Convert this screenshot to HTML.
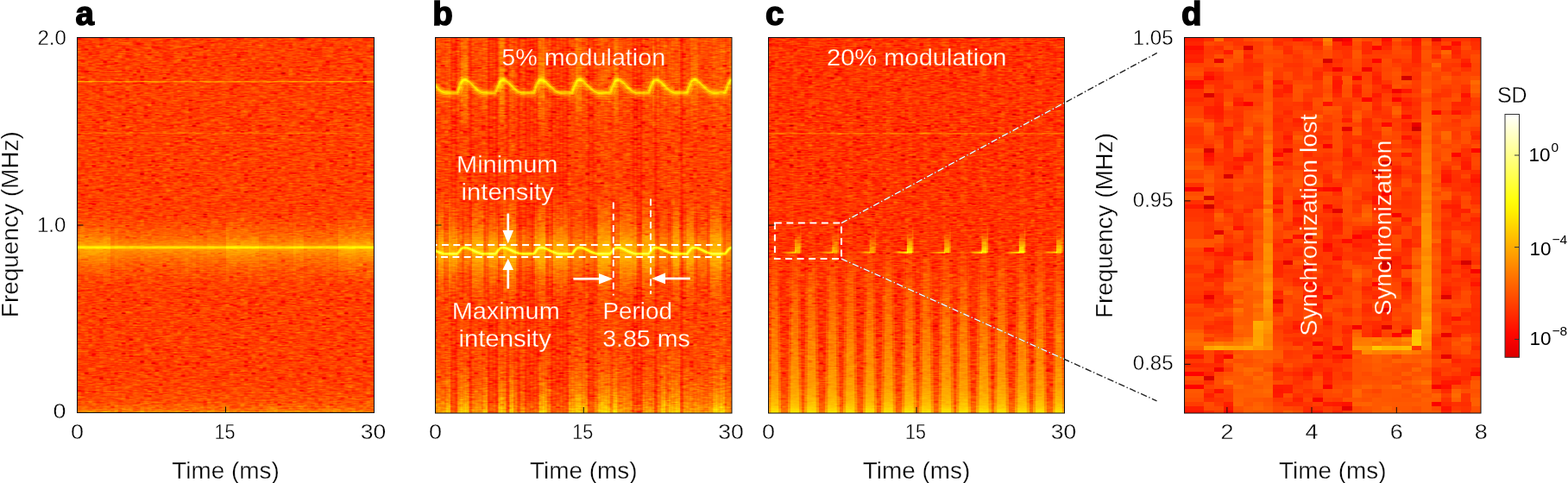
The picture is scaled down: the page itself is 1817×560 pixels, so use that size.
<!DOCTYPE html>
<html><head><meta charset="utf-8"><style>html,body{margin:0;padding:0;background:#fff;overflow:hidden}</style></head>
<body>
<svg width="1817" height="560" viewBox="0 0 1817 560" style="display:block">
<defs>
<filter id="nza" x="0" y="0" width="1" height="1" color-interpolation-filters="sRGB">
<feTurbulence type="fractalNoise" baseFrequency="0.09 0.69" numOctaves="2" seed="4"/>
<feComponentTransfer><feFuncG type="table" tableValues="0 0 0 0 0 0 0.08 0.3 0.7 1 1"/></feComponentTransfer>
<feColorMatrix type="matrix" values="0.19 -0.0 0 0 0.3750 0.19 -0.0 0 0 0.3750 0.19 -0.0 0 0 0.3750 0 0 0 0 1"/>
</filter>
<filter id="nzb" x="0" y="0" width="1" height="1" color-interpolation-filters="sRGB">
<feTurbulence type="fractalNoise" baseFrequency="0.09 0.69" numOctaves="2" seed="9"/>
<feComponentTransfer><feFuncG type="table" tableValues="0 0 0 0 0 0 0.08 0.3 0.7 1 1"/></feComponentTransfer>
<feColorMatrix type="matrix" values="0.19 -0.0 0 0 0.3710 0.19 -0.0 0 0 0.3710 0.19 -0.0 0 0 0.3710 0 0 0 0 1"/>
</filter>
<filter id="nzc" x="0" y="0" width="1" height="1" color-interpolation-filters="sRGB">
<feTurbulence type="fractalNoise" baseFrequency="0.09 0.69" numOctaves="2" seed="2"/>
<feComponentTransfer><feFuncG type="table" tableValues="0 0 0 0 0 0 0.08 0.3 0.7 1 1"/></feComponentTransfer>
<feColorMatrix type="matrix" values="0.19 -0.0 0 0 0.3560 0.19 -0.0 0 0 0.3560 0.19 -0.0 0 0 0.3560 0 0 0 0 1"/>
</filter>
<filter id="hot" color-interpolation-filters="sRGB"><feComponentTransfer>
<feFuncR type="table" tableValues="0 0.3333 0.6667 1 1 1 1 1 1"/>
<feFuncG type="table" tableValues="0 0 0 0 0.3333 0.6667 1 1 1"/>
<feFuncB type="table" tableValues="0 0 0 0 0 0 0 0.5 1"/>
</feComponentTransfer></filter>
<clipPath id="ca"><rect x="89.5" y="43.5" width="344.0" height="435.0"/></clipPath>
<clipPath id="cb"><rect x="504.5" y="43.5" width="343.5" height="435.5"/></clipPath>
<clipPath id="cc"><rect x="890.5" y="43.5" width="343.0" height="435.5"/></clipPath>
<linearGradient id="up" x1="0" y1="0" x2="0" y2="1"><stop offset="0" stop-color="#fff" stop-opacity="0"/><stop offset="1" stop-color="#fff" stop-opacity="1"/></linearGradient>
<linearGradient id="dn" x1="0" y1="0" x2="0" y2="1"><stop offset="0" stop-color="#000" stop-opacity="0"/><stop offset="0.3" stop-color="#000" stop-opacity="0.6"/><stop offset="1" stop-color="#000" stop-opacity="1"/></linearGradient>
<linearGradient id="glow" x1="0" y1="0" x2="0" y2="1"><stop offset="0" stop-color="#fff" stop-opacity="0"/><stop offset="0.5" stop-color="#fff" stop-opacity="1"/><stop offset="1" stop-color="#fff" stop-opacity="0"/></linearGradient>
<linearGradient id="cbar" x1="0" y1="0" x2="0" y2="1"><stop offset="0.00" stop-color="#ffffff"/><stop offset="0.05" stop-color="#ffffdc"/><stop offset="0.10" stop-color="#ffffba"/><stop offset="0.15" stop-color="#ffff97"/><stop offset="0.20" stop-color="#ffff74"/><stop offset="0.25" stop-color="#ffff52"/><stop offset="0.30" stop-color="#ffff2f"/><stop offset="0.35" stop-color="#ffff0c"/><stop offset="0.40" stop-color="#fff000"/><stop offset="0.45" stop-color="#ffd900"/><stop offset="0.50" stop-color="#ffc200"/><stop offset="0.55" stop-color="#ffab00"/><stop offset="0.60" stop-color="#ff9400"/><stop offset="0.65" stop-color="#ff7c00"/><stop offset="0.70" stop-color="#ff6500"/><stop offset="0.75" stop-color="#ff4e00"/><stop offset="0.80" stop-color="#ff3700"/><stop offset="0.85" stop-color="#ff2000"/><stop offset="0.90" stop-color="#ff0900"/><stop offset="0.95" stop-color="#f10000"/><stop offset="1.00" stop-color="#da0000"/></linearGradient>
<pattern id="tA" patternUnits="userSpaceOnUse" x="89.5" y="43.5" width="86.0" height="87.00"><path d="M0.0 0.00h4.3v1.45h-4.3zM0.0 1.45h4.3v1.45h-4.3zM0.0 4.35h4.3v1.45h-4.3zM0.0 5.80h4.3v1.45h-4.3zM0.0 11.60h4.3v1.45h-4.3zM0.0 23.20h4.3v1.45h-4.3zM0.0 26.10h4.3v1.45h-4.3zM0.0 29.00h4.3v1.45h-4.3zM0.0 37.70h4.3v1.45h-4.3zM0.0 42.05h4.3v1.45h-4.3zM0.0 43.50h4.3v1.45h-4.3zM0.0 52.20h4.3v1.45h-4.3zM0.0 53.65h4.3v1.45h-4.3zM0.0 71.05h4.3v1.45h-4.3zM0.0 72.50h4.3v1.45h-4.3zM0.0 73.95h4.3v1.45h-4.3zM0.0 76.85h4.3v1.45h-4.3zM0.0 78.30h4.3v1.45h-4.3zM0.0 81.20h4.3v1.45h-4.3zM4.3 4.35h4.3v1.45h-4.3zM4.3 7.25h4.3v1.45h-4.3zM4.3 8.70h4.3v1.45h-4.3zM4.3 21.75h4.3v1.45h-4.3zM4.3 24.65h4.3v1.45h-4.3zM4.3 27.55h4.3v1.45h-4.3zM4.3 33.35h4.3v1.45h-4.3zM4.3 34.80h4.3v1.45h-4.3zM4.3 37.70h4.3v1.45h-4.3zM4.3 55.10h4.3v1.45h-4.3zM4.3 65.25h4.3v1.45h-4.3zM4.3 66.70h4.3v1.45h-4.3zM4.3 69.60h4.3v1.45h-4.3zM4.3 71.05h4.3v1.45h-4.3zM4.3 75.40h4.3v1.45h-4.3zM4.3 79.75h4.3v1.45h-4.3zM8.6 2.90h4.3v1.45h-4.3zM8.6 10.15h4.3v1.45h-4.3zM8.6 11.60h4.3v1.45h-4.3zM8.6 13.05h4.3v1.45h-4.3zM8.6 17.40h4.3v1.45h-4.3zM8.6 21.75h4.3v1.45h-4.3zM8.6 23.20h4.3v1.45h-4.3zM8.6 33.35h4.3v1.45h-4.3zM8.6 34.80h4.3v1.45h-4.3zM8.6 36.25h4.3v1.45h-4.3zM8.6 37.70h4.3v1.45h-4.3zM8.6 42.05h4.3v1.45h-4.3zM8.6 49.30h4.3v1.45h-4.3zM8.6 53.65h4.3v1.45h-4.3zM8.6 55.10h4.3v1.45h-4.3zM8.6 63.80h4.3v1.45h-4.3zM8.6 68.15h4.3v1.45h-4.3zM8.6 71.05h4.3v1.45h-4.3zM8.6 73.95h4.3v1.45h-4.3zM12.9 11.60h4.3v1.45h-4.3zM12.9 14.50h4.3v1.45h-4.3zM12.9 20.30h4.3v1.45h-4.3zM12.9 24.65h4.3v1.45h-4.3zM12.9 26.10h4.3v1.45h-4.3zM12.9 33.35h4.3v1.45h-4.3zM12.9 47.85h4.3v1.45h-4.3zM12.9 52.20h4.3v1.45h-4.3zM12.9 59.45h4.3v1.45h-4.3zM12.9 62.35h4.3v1.45h-4.3zM12.9 68.15h4.3v1.45h-4.3zM17.2 7.25h4.3v1.45h-4.3zM17.2 10.15h4.3v1.45h-4.3zM17.2 18.85h4.3v1.45h-4.3zM17.2 21.75h4.3v1.45h-4.3zM17.2 23.20h4.3v1.45h-4.3zM17.2 24.65h4.3v1.45h-4.3zM17.2 46.40h4.3v1.45h-4.3zM17.2 56.55h4.3v1.45h-4.3zM17.2 71.05h4.3v1.45h-4.3zM17.2 72.50h4.3v1.45h-4.3zM17.2 73.95h4.3v1.45h-4.3zM17.2 81.20h4.3v1.45h-4.3zM21.5 4.35h4.3v1.45h-4.3zM21.5 31.90h4.3v1.45h-4.3zM21.5 33.35h4.3v1.45h-4.3zM21.5 34.80h4.3v1.45h-4.3zM21.5 39.15h4.3v1.45h-4.3zM21.5 55.10h4.3v1.45h-4.3zM21.5 62.35h4.3v1.45h-4.3zM21.5 76.85h4.3v1.45h-4.3zM21.5 78.30h4.3v1.45h-4.3zM21.5 84.10h4.3v1.45h-4.3zM25.8 0.00h4.3v1.45h-4.3zM25.8 1.45h4.3v1.45h-4.3zM25.8 4.35h4.3v1.45h-4.3zM25.8 13.05h4.3v1.45h-4.3zM25.8 18.85h4.3v1.45h-4.3zM25.8 30.45h4.3v1.45h-4.3zM25.8 43.50h4.3v1.45h-4.3zM25.8 44.95h4.3v1.45h-4.3zM25.8 47.85h4.3v1.45h-4.3zM25.8 49.30h4.3v1.45h-4.3zM25.8 50.75h4.3v1.45h-4.3zM25.8 63.80h4.3v1.45h-4.3zM25.8 65.25h4.3v1.45h-4.3zM25.8 81.20h4.3v1.45h-4.3zM30.1 8.70h4.3v1.45h-4.3zM30.1 26.10h4.3v1.45h-4.3zM30.1 33.35h4.3v1.45h-4.3zM30.1 34.80h4.3v1.45h-4.3zM30.1 40.60h4.3v1.45h-4.3zM30.1 44.95h4.3v1.45h-4.3zM30.1 50.75h4.3v1.45h-4.3zM30.1 53.65h4.3v1.45h-4.3zM30.1 66.70h4.3v1.45h-4.3zM30.1 72.50h4.3v1.45h-4.3zM30.1 73.95h4.3v1.45h-4.3zM30.1 75.40h4.3v1.45h-4.3zM30.1 84.10h4.3v1.45h-4.3zM34.4 0.00h4.3v1.45h-4.3zM34.4 2.90h4.3v1.45h-4.3zM34.4 5.80h4.3v1.45h-4.3zM34.4 7.25h4.3v1.45h-4.3zM34.4 30.45h4.3v1.45h-4.3zM34.4 37.70h4.3v1.45h-4.3zM34.4 42.05h4.3v1.45h-4.3zM34.4 44.95h4.3v1.45h-4.3zM34.4 56.55h4.3v1.45h-4.3zM34.4 59.45h4.3v1.45h-4.3zM34.4 78.30h4.3v1.45h-4.3zM38.7 2.90h4.3v1.45h-4.3zM38.7 10.15h4.3v1.45h-4.3zM38.7 20.30h4.3v1.45h-4.3zM38.7 26.10h4.3v1.45h-4.3zM38.7 27.55h4.3v1.45h-4.3zM38.7 39.15h4.3v1.45h-4.3zM38.7 47.85h4.3v1.45h-4.3zM38.7 58.00h4.3v1.45h-4.3zM38.7 59.45h4.3v1.45h-4.3zM38.7 75.40h4.3v1.45h-4.3zM38.7 79.75h4.3v1.45h-4.3zM38.7 84.10h4.3v1.45h-4.3zM43.0 5.80h4.3v1.45h-4.3zM43.0 10.15h4.3v1.45h-4.3zM43.0 15.95h4.3v1.45h-4.3zM43.0 17.40h4.3v1.45h-4.3zM43.0 23.20h4.3v1.45h-4.3zM43.0 29.00h4.3v1.45h-4.3zM43.0 31.90h4.3v1.45h-4.3zM43.0 42.05h4.3v1.45h-4.3zM43.0 43.50h4.3v1.45h-4.3zM43.0 53.65h4.3v1.45h-4.3zM43.0 62.35h4.3v1.45h-4.3zM43.0 71.05h4.3v1.45h-4.3zM43.0 73.95h4.3v1.45h-4.3zM43.0 84.10h4.3v1.45h-4.3zM47.3 8.70h4.3v1.45h-4.3zM47.3 23.20h4.3v1.45h-4.3zM47.3 27.55h4.3v1.45h-4.3zM47.3 34.80h4.3v1.45h-4.3zM47.3 36.25h4.3v1.45h-4.3zM47.3 65.25h4.3v1.45h-4.3zM47.3 68.15h4.3v1.45h-4.3zM47.3 69.60h4.3v1.45h-4.3zM47.3 75.40h4.3v1.45h-4.3zM51.6 10.15h4.3v1.45h-4.3zM51.6 11.60h4.3v1.45h-4.3zM51.6 14.50h4.3v1.45h-4.3zM51.6 18.85h4.3v1.45h-4.3zM51.6 23.20h4.3v1.45h-4.3zM51.6 33.35h4.3v1.45h-4.3zM51.6 40.60h4.3v1.45h-4.3zM51.6 62.35h4.3v1.45h-4.3zM51.6 69.60h4.3v1.45h-4.3zM51.6 73.95h4.3v1.45h-4.3zM55.9 2.90h4.3v1.45h-4.3zM55.9 8.70h4.3v1.45h-4.3zM55.9 26.10h4.3v1.45h-4.3zM55.9 31.90h4.3v1.45h-4.3zM55.9 43.50h4.3v1.45h-4.3zM55.9 47.85h4.3v1.45h-4.3zM55.9 52.20h4.3v1.45h-4.3zM55.9 53.65h4.3v1.45h-4.3zM55.9 63.80h4.3v1.45h-4.3zM55.9 65.25h4.3v1.45h-4.3zM55.9 69.60h4.3v1.45h-4.3zM55.9 75.40h4.3v1.45h-4.3zM55.9 76.85h4.3v1.45h-4.3zM60.2 7.25h4.3v1.45h-4.3zM60.2 17.40h4.3v1.45h-4.3zM60.2 21.75h4.3v1.45h-4.3zM60.2 23.20h4.3v1.45h-4.3zM60.2 24.65h4.3v1.45h-4.3zM60.2 27.55h4.3v1.45h-4.3zM60.2 29.00h4.3v1.45h-4.3zM60.2 33.35h4.3v1.45h-4.3zM60.2 39.15h4.3v1.45h-4.3zM60.2 53.65h4.3v1.45h-4.3zM60.2 78.30h4.3v1.45h-4.3zM64.5 5.80h4.3v1.45h-4.3zM64.5 8.70h4.3v1.45h-4.3zM64.5 10.15h4.3v1.45h-4.3zM64.5 15.95h4.3v1.45h-4.3zM64.5 23.20h4.3v1.45h-4.3zM64.5 40.60h4.3v1.45h-4.3zM64.5 49.30h4.3v1.45h-4.3zM64.5 62.35h4.3v1.45h-4.3zM64.5 69.60h4.3v1.45h-4.3zM64.5 72.50h4.3v1.45h-4.3zM64.5 75.40h4.3v1.45h-4.3zM64.5 78.30h4.3v1.45h-4.3zM64.5 84.10h4.3v1.45h-4.3zM68.8 4.35h4.3v1.45h-4.3zM68.8 10.15h4.3v1.45h-4.3zM68.8 21.75h4.3v1.45h-4.3zM68.8 37.70h4.3v1.45h-4.3zM68.8 42.05h4.3v1.45h-4.3zM68.8 44.95h4.3v1.45h-4.3zM68.8 52.20h4.3v1.45h-4.3zM68.8 58.00h4.3v1.45h-4.3zM68.8 65.25h4.3v1.45h-4.3zM68.8 72.50h4.3v1.45h-4.3zM68.8 73.95h4.3v1.45h-4.3zM68.8 76.85h4.3v1.45h-4.3zM68.8 79.75h4.3v1.45h-4.3zM68.8 81.20h4.3v1.45h-4.3zM68.8 82.65h4.3v1.45h-4.3zM68.8 85.55h4.3v1.45h-4.3zM73.1 5.80h4.3v1.45h-4.3zM73.1 8.70h4.3v1.45h-4.3zM73.1 24.65h4.3v1.45h-4.3zM73.1 27.55h4.3v1.45h-4.3zM73.1 34.80h4.3v1.45h-4.3zM73.1 46.40h4.3v1.45h-4.3zM73.1 49.30h4.3v1.45h-4.3zM73.1 53.65h4.3v1.45h-4.3zM73.1 58.00h4.3v1.45h-4.3zM73.1 60.90h4.3v1.45h-4.3zM73.1 62.35h4.3v1.45h-4.3zM73.1 69.60h4.3v1.45h-4.3zM73.1 76.85h4.3v1.45h-4.3zM73.1 82.65h4.3v1.45h-4.3zM77.4 4.35h4.3v1.45h-4.3zM77.4 20.30h4.3v1.45h-4.3zM77.4 26.10h4.3v1.45h-4.3zM77.4 29.00h4.3v1.45h-4.3zM77.4 39.15h4.3v1.45h-4.3zM77.4 40.60h4.3v1.45h-4.3zM77.4 46.40h4.3v1.45h-4.3zM77.4 58.00h4.3v1.45h-4.3zM77.4 62.35h4.3v1.45h-4.3zM77.4 66.70h4.3v1.45h-4.3zM77.4 68.15h4.3v1.45h-4.3zM77.4 72.50h4.3v1.45h-4.3zM77.4 79.75h4.3v1.45h-4.3zM77.4 81.20h4.3v1.45h-4.3zM77.4 84.10h4.3v1.45h-4.3zM77.4 85.55h4.3v1.45h-4.3zM81.7 4.35h4.3v1.45h-4.3zM81.7 13.05h4.3v1.45h-4.3zM81.7 18.85h4.3v1.45h-4.3zM81.7 30.45h4.3v1.45h-4.3zM81.7 36.25h4.3v1.45h-4.3zM81.7 37.70h4.3v1.45h-4.3zM81.7 43.50h4.3v1.45h-4.3zM81.7 44.95h4.3v1.45h-4.3zM81.7 55.10h4.3v1.45h-4.3zM81.7 56.55h4.3v1.45h-4.3zM81.7 60.90h4.3v1.45h-4.3zM81.7 63.80h4.3v1.45h-4.3zM81.7 69.60h4.3v1.45h-4.3zM81.7 85.55h4.3v1.45h-4.3z" fill="#000" fill-opacity="0.025"/><path d="M0.0 2.90h4.3v1.45h-4.3zM0.0 15.95h4.3v1.45h-4.3zM0.0 79.75h4.3v1.45h-4.3zM4.3 26.10h4.3v1.45h-4.3zM4.3 73.95h4.3v1.45h-4.3zM8.6 43.50h4.3v1.45h-4.3zM8.6 79.75h4.3v1.45h-4.3zM12.9 50.75h4.3v1.45h-4.3zM12.9 56.55h4.3v1.45h-4.3zM17.2 0.00h4.3v1.45h-4.3zM17.2 36.25h4.3v1.45h-4.3zM17.2 47.85h4.3v1.45h-4.3zM25.8 11.60h4.3v1.45h-4.3zM30.1 24.65h4.3v1.45h-4.3zM30.1 62.35h4.3v1.45h-4.3zM34.4 31.90h4.3v1.45h-4.3zM34.4 47.85h4.3v1.45h-4.3zM43.0 46.40h4.3v1.45h-4.3zM47.3 30.45h4.3v1.45h-4.3zM47.3 33.35h4.3v1.45h-4.3zM47.3 37.70h4.3v1.45h-4.3zM51.6 4.35h4.3v1.45h-4.3zM51.6 82.65h4.3v1.45h-4.3zM55.9 56.55h4.3v1.45h-4.3zM60.2 8.70h4.3v1.45h-4.3zM68.8 78.30h4.3v1.45h-4.3zM73.1 37.70h4.3v1.45h-4.3zM73.1 39.15h4.3v1.45h-4.3zM73.1 43.50h4.3v1.45h-4.3zM77.4 59.45h4.3v1.45h-4.3zM77.4 63.80h4.3v1.45h-4.3zM81.7 53.65h4.3v1.45h-4.3zM81.7 65.25h4.3v1.45h-4.3zM81.7 84.10h4.3v1.45h-4.3z" fill="#fff" fill-opacity="0.060"/><path d="M0.0 10.15h4.3v1.45h-4.3zM0.0 17.40h4.3v1.45h-4.3zM0.0 21.75h4.3v1.45h-4.3zM0.0 24.65h4.3v1.45h-4.3zM0.0 34.80h4.3v1.45h-4.3zM0.0 36.25h4.3v1.45h-4.3zM0.0 40.60h4.3v1.45h-4.3zM0.0 44.95h4.3v1.45h-4.3zM0.0 47.85h4.3v1.45h-4.3zM0.0 55.10h4.3v1.45h-4.3zM0.0 56.55h4.3v1.45h-4.3zM0.0 58.00h4.3v1.45h-4.3zM0.0 65.25h4.3v1.45h-4.3zM0.0 84.10h4.3v1.45h-4.3zM4.3 0.00h4.3v1.45h-4.3zM4.3 5.80h4.3v1.45h-4.3zM4.3 20.30h4.3v1.45h-4.3zM4.3 44.95h4.3v1.45h-4.3zM4.3 49.30h4.3v1.45h-4.3zM4.3 52.20h4.3v1.45h-4.3zM4.3 76.85h4.3v1.45h-4.3zM4.3 78.30h4.3v1.45h-4.3zM4.3 84.10h4.3v1.45h-4.3zM8.6 0.00h4.3v1.45h-4.3zM8.6 1.45h4.3v1.45h-4.3zM8.6 4.35h4.3v1.45h-4.3zM8.6 14.50h4.3v1.45h-4.3zM8.6 15.95h4.3v1.45h-4.3zM8.6 24.65h4.3v1.45h-4.3zM8.6 30.45h4.3v1.45h-4.3zM8.6 46.40h4.3v1.45h-4.3zM8.6 50.75h4.3v1.45h-4.3zM8.6 59.45h4.3v1.45h-4.3zM8.6 84.10h4.3v1.45h-4.3zM8.6 85.55h4.3v1.45h-4.3zM12.9 8.70h4.3v1.45h-4.3zM12.9 23.20h4.3v1.45h-4.3zM12.9 34.80h4.3v1.45h-4.3zM12.9 37.70h4.3v1.45h-4.3zM12.9 46.40h4.3v1.45h-4.3zM12.9 55.10h4.3v1.45h-4.3zM12.9 58.00h4.3v1.45h-4.3zM12.9 60.90h4.3v1.45h-4.3zM12.9 63.80h4.3v1.45h-4.3zM12.9 66.70h4.3v1.45h-4.3zM12.9 69.60h4.3v1.45h-4.3zM12.9 71.05h4.3v1.45h-4.3zM12.9 72.50h4.3v1.45h-4.3zM17.2 2.90h4.3v1.45h-4.3zM17.2 40.60h4.3v1.45h-4.3zM17.2 43.50h4.3v1.45h-4.3zM17.2 53.65h4.3v1.45h-4.3zM17.2 59.45h4.3v1.45h-4.3zM17.2 62.35h4.3v1.45h-4.3zM17.2 63.80h4.3v1.45h-4.3zM17.2 65.25h4.3v1.45h-4.3zM17.2 79.75h4.3v1.45h-4.3zM17.2 85.55h4.3v1.45h-4.3zM21.5 0.00h4.3v1.45h-4.3zM21.5 1.45h4.3v1.45h-4.3zM21.5 2.90h4.3v1.45h-4.3zM21.5 8.70h4.3v1.45h-4.3zM21.5 10.15h4.3v1.45h-4.3zM21.5 14.50h4.3v1.45h-4.3zM21.5 29.00h4.3v1.45h-4.3zM21.5 46.40h4.3v1.45h-4.3zM21.5 47.85h4.3v1.45h-4.3zM21.5 49.30h4.3v1.45h-4.3zM21.5 52.20h4.3v1.45h-4.3zM21.5 53.65h4.3v1.45h-4.3zM21.5 56.55h4.3v1.45h-4.3zM21.5 72.50h4.3v1.45h-4.3zM21.5 73.95h4.3v1.45h-4.3zM25.8 2.90h4.3v1.45h-4.3zM25.8 10.15h4.3v1.45h-4.3zM25.8 14.50h4.3v1.45h-4.3zM25.8 20.30h4.3v1.45h-4.3zM25.8 27.55h4.3v1.45h-4.3zM25.8 29.00h4.3v1.45h-4.3zM25.8 33.35h4.3v1.45h-4.3zM25.8 46.40h4.3v1.45h-4.3zM25.8 52.20h4.3v1.45h-4.3zM25.8 55.10h4.3v1.45h-4.3zM25.8 60.90h4.3v1.45h-4.3zM25.8 66.70h4.3v1.45h-4.3zM25.8 72.50h4.3v1.45h-4.3zM25.8 76.85h4.3v1.45h-4.3zM25.8 85.55h4.3v1.45h-4.3zM30.1 2.90h4.3v1.45h-4.3zM30.1 10.15h4.3v1.45h-4.3zM30.1 20.30h4.3v1.45h-4.3zM30.1 23.20h4.3v1.45h-4.3zM30.1 39.15h4.3v1.45h-4.3zM30.1 42.05h4.3v1.45h-4.3zM30.1 69.60h4.3v1.45h-4.3zM30.1 76.85h4.3v1.45h-4.3zM30.1 78.30h4.3v1.45h-4.3zM30.1 79.75h4.3v1.45h-4.3zM30.1 81.20h4.3v1.45h-4.3zM30.1 82.65h4.3v1.45h-4.3zM30.1 85.55h4.3v1.45h-4.3zM34.4 1.45h4.3v1.45h-4.3zM34.4 8.70h4.3v1.45h-4.3zM34.4 10.15h4.3v1.45h-4.3zM34.4 11.60h4.3v1.45h-4.3zM34.4 13.05h4.3v1.45h-4.3zM34.4 14.50h4.3v1.45h-4.3zM34.4 15.95h4.3v1.45h-4.3zM34.4 17.40h4.3v1.45h-4.3zM34.4 18.85h4.3v1.45h-4.3zM34.4 23.20h4.3v1.45h-4.3zM34.4 27.55h4.3v1.45h-4.3zM34.4 29.00h4.3v1.45h-4.3zM34.4 34.80h4.3v1.45h-4.3zM34.4 43.50h4.3v1.45h-4.3zM34.4 46.40h4.3v1.45h-4.3zM34.4 52.20h4.3v1.45h-4.3zM34.4 62.35h4.3v1.45h-4.3zM34.4 63.80h4.3v1.45h-4.3zM34.4 65.25h4.3v1.45h-4.3zM34.4 68.15h4.3v1.45h-4.3zM34.4 69.60h4.3v1.45h-4.3zM34.4 72.50h4.3v1.45h-4.3zM34.4 79.75h4.3v1.45h-4.3zM38.7 7.25h4.3v1.45h-4.3zM38.7 13.05h4.3v1.45h-4.3zM38.7 17.40h4.3v1.45h-4.3zM38.7 21.75h4.3v1.45h-4.3zM38.7 23.20h4.3v1.45h-4.3zM38.7 24.65h4.3v1.45h-4.3zM38.7 31.90h4.3v1.45h-4.3zM38.7 34.80h4.3v1.45h-4.3zM38.7 43.50h4.3v1.45h-4.3zM38.7 46.40h4.3v1.45h-4.3zM38.7 49.30h4.3v1.45h-4.3zM38.7 62.35h4.3v1.45h-4.3zM38.7 65.25h4.3v1.45h-4.3zM38.7 72.50h4.3v1.45h-4.3zM38.7 73.95h4.3v1.45h-4.3zM38.7 82.65h4.3v1.45h-4.3zM38.7 85.55h4.3v1.45h-4.3zM43.0 0.00h4.3v1.45h-4.3zM43.0 2.90h4.3v1.45h-4.3zM43.0 7.25h4.3v1.45h-4.3zM43.0 30.45h4.3v1.45h-4.3zM43.0 34.80h4.3v1.45h-4.3zM43.0 49.30h4.3v1.45h-4.3zM43.0 58.00h4.3v1.45h-4.3zM43.0 63.80h4.3v1.45h-4.3zM43.0 66.70h4.3v1.45h-4.3zM43.0 72.50h4.3v1.45h-4.3zM43.0 78.30h4.3v1.45h-4.3zM43.0 79.75h4.3v1.45h-4.3zM43.0 82.65h4.3v1.45h-4.3zM47.3 1.45h4.3v1.45h-4.3zM47.3 5.80h4.3v1.45h-4.3zM47.3 7.25h4.3v1.45h-4.3zM47.3 11.60h4.3v1.45h-4.3zM47.3 13.05h4.3v1.45h-4.3zM47.3 24.65h4.3v1.45h-4.3zM47.3 31.90h4.3v1.45h-4.3zM47.3 43.50h4.3v1.45h-4.3zM47.3 44.95h4.3v1.45h-4.3zM47.3 58.00h4.3v1.45h-4.3zM47.3 60.90h4.3v1.45h-4.3zM47.3 76.85h4.3v1.45h-4.3zM47.3 79.75h4.3v1.45h-4.3zM47.3 81.20h4.3v1.45h-4.3zM51.6 5.80h4.3v1.45h-4.3zM51.6 13.05h4.3v1.45h-4.3zM51.6 15.95h4.3v1.45h-4.3zM51.6 21.75h4.3v1.45h-4.3zM51.6 37.70h4.3v1.45h-4.3zM51.6 39.15h4.3v1.45h-4.3zM51.6 44.95h4.3v1.45h-4.3zM51.6 55.10h4.3v1.45h-4.3zM51.6 59.45h4.3v1.45h-4.3zM51.6 65.25h4.3v1.45h-4.3zM51.6 71.05h4.3v1.45h-4.3zM51.6 75.40h4.3v1.45h-4.3zM55.9 0.00h4.3v1.45h-4.3zM55.9 4.35h4.3v1.45h-4.3zM55.9 7.25h4.3v1.45h-4.3zM55.9 24.65h4.3v1.45h-4.3zM55.9 36.25h4.3v1.45h-4.3zM55.9 49.30h4.3v1.45h-4.3zM55.9 50.75h4.3v1.45h-4.3zM55.9 58.00h4.3v1.45h-4.3zM55.9 72.50h4.3v1.45h-4.3zM55.9 78.30h4.3v1.45h-4.3zM55.9 79.75h4.3v1.45h-4.3zM55.9 81.20h4.3v1.45h-4.3zM55.9 85.55h4.3v1.45h-4.3zM60.2 0.00h4.3v1.45h-4.3zM60.2 1.45h4.3v1.45h-4.3zM60.2 5.80h4.3v1.45h-4.3zM60.2 13.05h4.3v1.45h-4.3zM60.2 14.50h4.3v1.45h-4.3zM60.2 18.85h4.3v1.45h-4.3zM60.2 26.10h4.3v1.45h-4.3zM60.2 43.50h4.3v1.45h-4.3zM60.2 44.95h4.3v1.45h-4.3zM60.2 60.90h4.3v1.45h-4.3zM60.2 66.70h4.3v1.45h-4.3zM60.2 68.15h4.3v1.45h-4.3zM60.2 73.95h4.3v1.45h-4.3zM60.2 75.40h4.3v1.45h-4.3zM64.5 18.85h4.3v1.45h-4.3zM64.5 24.65h4.3v1.45h-4.3zM64.5 26.10h4.3v1.45h-4.3zM64.5 30.45h4.3v1.45h-4.3zM64.5 31.90h4.3v1.45h-4.3zM64.5 44.95h4.3v1.45h-4.3zM64.5 47.85h4.3v1.45h-4.3zM64.5 76.85h4.3v1.45h-4.3zM68.8 1.45h4.3v1.45h-4.3zM68.8 2.90h4.3v1.45h-4.3zM68.8 7.25h4.3v1.45h-4.3zM68.8 13.05h4.3v1.45h-4.3zM68.8 15.95h4.3v1.45h-4.3zM68.8 18.85h4.3v1.45h-4.3zM68.8 20.30h4.3v1.45h-4.3zM68.8 23.20h4.3v1.45h-4.3zM68.8 24.65h4.3v1.45h-4.3zM68.8 26.10h4.3v1.45h-4.3zM68.8 34.80h4.3v1.45h-4.3zM68.8 49.30h4.3v1.45h-4.3zM68.8 53.65h4.3v1.45h-4.3zM68.8 60.90h4.3v1.45h-4.3zM68.8 66.70h4.3v1.45h-4.3zM68.8 69.60h4.3v1.45h-4.3zM68.8 71.05h4.3v1.45h-4.3zM73.1 0.00h4.3v1.45h-4.3zM73.1 15.95h4.3v1.45h-4.3zM73.1 17.40h4.3v1.45h-4.3zM73.1 20.30h4.3v1.45h-4.3zM73.1 23.20h4.3v1.45h-4.3zM73.1 40.60h4.3v1.45h-4.3zM73.1 42.05h4.3v1.45h-4.3zM73.1 44.95h4.3v1.45h-4.3zM73.1 52.20h4.3v1.45h-4.3zM73.1 59.45h4.3v1.45h-4.3zM73.1 71.05h4.3v1.45h-4.3zM73.1 79.75h4.3v1.45h-4.3zM73.1 84.10h4.3v1.45h-4.3zM77.4 8.70h4.3v1.45h-4.3zM77.4 18.85h4.3v1.45h-4.3zM77.4 21.75h4.3v1.45h-4.3zM77.4 27.55h4.3v1.45h-4.3zM77.4 30.45h4.3v1.45h-4.3zM77.4 42.05h4.3v1.45h-4.3zM77.4 49.30h4.3v1.45h-4.3zM77.4 52.20h4.3v1.45h-4.3zM77.4 65.25h4.3v1.45h-4.3zM77.4 76.85h4.3v1.45h-4.3zM81.7 1.45h4.3v1.45h-4.3zM81.7 8.70h4.3v1.45h-4.3zM81.7 10.15h4.3v1.45h-4.3zM81.7 17.40h4.3v1.45h-4.3zM81.7 20.30h4.3v1.45h-4.3zM81.7 24.65h4.3v1.45h-4.3zM81.7 31.90h4.3v1.45h-4.3zM81.7 33.35h4.3v1.45h-4.3zM81.7 34.80h4.3v1.45h-4.3zM81.7 52.20h4.3v1.45h-4.3zM81.7 62.35h4.3v1.45h-4.3zM81.7 68.15h4.3v1.45h-4.3zM81.7 71.05h4.3v1.45h-4.3zM81.7 72.50h4.3v1.45h-4.3zM81.7 75.40h4.3v1.45h-4.3zM81.7 78.30h4.3v1.45h-4.3z" fill="#fff" fill-opacity="0.020"/><path d="M0.0 13.05h4.3v1.45h-4.3zM0.0 20.30h4.3v1.45h-4.3zM0.0 27.55h4.3v1.45h-4.3zM0.0 49.30h4.3v1.45h-4.3zM0.0 68.15h4.3v1.45h-4.3zM4.3 2.90h4.3v1.45h-4.3zM4.3 39.15h4.3v1.45h-4.3zM4.3 40.60h4.3v1.45h-4.3zM4.3 42.05h4.3v1.45h-4.3zM4.3 46.40h4.3v1.45h-4.3zM4.3 47.85h4.3v1.45h-4.3zM4.3 68.15h4.3v1.45h-4.3zM8.6 18.85h4.3v1.45h-4.3zM8.6 58.00h4.3v1.45h-4.3zM8.6 62.35h4.3v1.45h-4.3zM12.9 10.15h4.3v1.45h-4.3zM12.9 21.75h4.3v1.45h-4.3zM12.9 44.95h4.3v1.45h-4.3zM12.9 73.95h4.3v1.45h-4.3zM12.9 75.40h4.3v1.45h-4.3zM12.9 82.65h4.3v1.45h-4.3zM12.9 85.55h4.3v1.45h-4.3zM17.2 4.35h4.3v1.45h-4.3zM17.2 34.80h4.3v1.45h-4.3zM17.2 37.70h4.3v1.45h-4.3zM17.2 42.05h4.3v1.45h-4.3zM17.2 75.40h4.3v1.45h-4.3zM17.2 76.85h4.3v1.45h-4.3zM17.2 84.10h4.3v1.45h-4.3zM21.5 5.80h4.3v1.45h-4.3zM21.5 40.60h4.3v1.45h-4.3zM21.5 59.45h4.3v1.45h-4.3zM21.5 68.15h4.3v1.45h-4.3zM21.5 69.60h4.3v1.45h-4.3zM21.5 82.65h4.3v1.45h-4.3zM21.5 85.55h4.3v1.45h-4.3zM25.8 7.25h4.3v1.45h-4.3zM25.8 15.95h4.3v1.45h-4.3zM25.8 23.20h4.3v1.45h-4.3zM25.8 53.65h4.3v1.45h-4.3zM25.8 73.95h4.3v1.45h-4.3zM25.8 82.65h4.3v1.45h-4.3zM30.1 21.75h4.3v1.45h-4.3zM30.1 56.55h4.3v1.45h-4.3zM30.1 59.45h4.3v1.45h-4.3zM30.1 60.90h4.3v1.45h-4.3zM34.4 21.75h4.3v1.45h-4.3zM34.4 36.25h4.3v1.45h-4.3zM34.4 58.00h4.3v1.45h-4.3zM34.4 84.10h4.3v1.45h-4.3zM38.7 1.45h4.3v1.45h-4.3zM38.7 5.80h4.3v1.45h-4.3zM38.7 8.70h4.3v1.45h-4.3zM38.7 11.60h4.3v1.45h-4.3zM38.7 33.35h4.3v1.45h-4.3zM38.7 55.10h4.3v1.45h-4.3zM38.7 76.85h4.3v1.45h-4.3zM43.0 4.35h4.3v1.45h-4.3zM43.0 27.55h4.3v1.45h-4.3zM43.0 39.15h4.3v1.45h-4.3zM43.0 55.10h4.3v1.45h-4.3zM47.3 17.40h4.3v1.45h-4.3zM47.3 18.85h4.3v1.45h-4.3zM47.3 21.75h4.3v1.45h-4.3zM47.3 26.10h4.3v1.45h-4.3zM47.3 66.70h4.3v1.45h-4.3zM51.6 7.25h4.3v1.45h-4.3zM51.6 27.55h4.3v1.45h-4.3zM51.6 53.65h4.3v1.45h-4.3zM51.6 66.70h4.3v1.45h-4.3zM51.6 72.50h4.3v1.45h-4.3zM51.6 81.20h4.3v1.45h-4.3zM55.9 5.80h4.3v1.45h-4.3zM55.9 13.05h4.3v1.45h-4.3zM55.9 15.95h4.3v1.45h-4.3zM55.9 18.85h4.3v1.45h-4.3zM55.9 34.80h4.3v1.45h-4.3zM55.9 42.05h4.3v1.45h-4.3zM55.9 60.90h4.3v1.45h-4.3zM60.2 36.25h4.3v1.45h-4.3zM60.2 40.60h4.3v1.45h-4.3zM60.2 55.10h4.3v1.45h-4.3zM60.2 69.60h4.3v1.45h-4.3zM60.2 71.05h4.3v1.45h-4.3zM60.2 84.10h4.3v1.45h-4.3zM64.5 13.05h4.3v1.45h-4.3zM64.5 17.40h4.3v1.45h-4.3zM64.5 29.00h4.3v1.45h-4.3zM64.5 39.15h4.3v1.45h-4.3zM64.5 50.75h4.3v1.45h-4.3zM64.5 53.65h4.3v1.45h-4.3zM64.5 65.25h4.3v1.45h-4.3zM64.5 68.15h4.3v1.45h-4.3zM64.5 71.05h4.3v1.45h-4.3zM64.5 73.95h4.3v1.45h-4.3zM68.8 8.70h4.3v1.45h-4.3zM68.8 30.45h4.3v1.45h-4.3zM68.8 33.35h4.3v1.45h-4.3zM68.8 40.60h4.3v1.45h-4.3zM68.8 47.85h4.3v1.45h-4.3zM73.1 4.35h4.3v1.45h-4.3zM73.1 31.90h4.3v1.45h-4.3zM73.1 36.25h4.3v1.45h-4.3zM73.1 56.55h4.3v1.45h-4.3zM73.1 75.40h4.3v1.45h-4.3zM73.1 81.20h4.3v1.45h-4.3zM77.4 5.80h4.3v1.45h-4.3zM77.4 7.25h4.3v1.45h-4.3zM77.4 10.15h4.3v1.45h-4.3zM77.4 11.60h4.3v1.45h-4.3zM77.4 33.35h4.3v1.45h-4.3zM77.4 75.40h4.3v1.45h-4.3zM81.7 21.75h4.3v1.45h-4.3zM81.7 23.20h4.3v1.45h-4.3zM81.7 39.15h4.3v1.45h-4.3zM81.7 50.75h4.3v1.45h-4.3zM81.7 76.85h4.3v1.45h-4.3zM81.7 81.20h4.3v1.45h-4.3z" fill="#fff" fill-opacity="0.040"/><path d="M0.0 31.90h4.3v1.45h-4.3zM0.0 39.15h4.3v1.45h-4.3zM0.0 46.40h4.3v1.45h-4.3zM0.0 82.65h4.3v1.45h-4.3zM4.3 10.15h4.3v1.45h-4.3zM4.3 13.05h4.3v1.45h-4.3zM4.3 31.90h4.3v1.45h-4.3zM4.3 58.00h4.3v1.45h-4.3zM4.3 59.45h4.3v1.45h-4.3zM4.3 60.90h4.3v1.45h-4.3zM4.3 72.50h4.3v1.45h-4.3zM8.6 7.25h4.3v1.45h-4.3zM8.6 56.55h4.3v1.45h-4.3zM12.9 1.45h4.3v1.45h-4.3zM12.9 2.90h4.3v1.45h-4.3zM12.9 4.35h4.3v1.45h-4.3zM12.9 18.85h4.3v1.45h-4.3zM12.9 31.90h4.3v1.45h-4.3zM12.9 76.85h4.3v1.45h-4.3zM12.9 79.75h4.3v1.45h-4.3zM17.2 39.15h4.3v1.45h-4.3zM17.2 44.95h4.3v1.45h-4.3zM17.2 50.75h4.3v1.45h-4.3zM17.2 60.90h4.3v1.45h-4.3zM21.5 7.25h4.3v1.45h-4.3zM21.5 13.05h4.3v1.45h-4.3zM21.5 15.95h4.3v1.45h-4.3zM21.5 21.75h4.3v1.45h-4.3zM21.5 27.55h4.3v1.45h-4.3zM21.5 37.70h4.3v1.45h-4.3zM21.5 79.75h4.3v1.45h-4.3zM25.8 24.65h4.3v1.45h-4.3zM25.8 34.80h4.3v1.45h-4.3zM25.8 56.55h4.3v1.45h-4.3zM25.8 68.15h4.3v1.45h-4.3zM25.8 71.05h4.3v1.45h-4.3zM25.8 79.75h4.3v1.45h-4.3zM30.1 0.00h4.3v1.45h-4.3zM30.1 5.80h4.3v1.45h-4.3zM30.1 15.95h4.3v1.45h-4.3zM30.1 30.45h4.3v1.45h-4.3zM30.1 43.50h4.3v1.45h-4.3zM30.1 46.40h4.3v1.45h-4.3zM30.1 55.10h4.3v1.45h-4.3zM34.4 26.10h4.3v1.45h-4.3zM34.4 39.15h4.3v1.45h-4.3zM34.4 55.10h4.3v1.45h-4.3zM34.4 66.70h4.3v1.45h-4.3zM34.4 71.05h4.3v1.45h-4.3zM34.4 73.95h4.3v1.45h-4.3zM34.4 76.85h4.3v1.45h-4.3zM34.4 81.20h4.3v1.45h-4.3zM34.4 85.55h4.3v1.45h-4.3zM38.7 15.95h4.3v1.45h-4.3zM38.7 29.00h4.3v1.45h-4.3zM38.7 36.25h4.3v1.45h-4.3zM38.7 44.95h4.3v1.45h-4.3zM38.7 50.75h4.3v1.45h-4.3zM38.7 56.55h4.3v1.45h-4.3zM38.7 60.90h4.3v1.45h-4.3zM38.7 71.05h4.3v1.45h-4.3zM43.0 33.35h4.3v1.45h-4.3zM43.0 40.60h4.3v1.45h-4.3zM47.3 14.50h4.3v1.45h-4.3zM47.3 29.00h4.3v1.45h-4.3zM47.3 52.20h4.3v1.45h-4.3zM47.3 53.65h4.3v1.45h-4.3zM47.3 84.10h4.3v1.45h-4.3zM47.3 85.55h4.3v1.45h-4.3zM51.6 30.45h4.3v1.45h-4.3zM51.6 49.30h4.3v1.45h-4.3zM51.6 50.75h4.3v1.45h-4.3zM51.6 60.90h4.3v1.45h-4.3zM51.6 63.80h4.3v1.45h-4.3zM55.9 1.45h4.3v1.45h-4.3zM55.9 14.50h4.3v1.45h-4.3zM55.9 20.30h4.3v1.45h-4.3zM55.9 29.00h4.3v1.45h-4.3zM55.9 30.45h4.3v1.45h-4.3zM55.9 40.60h4.3v1.45h-4.3zM55.9 73.95h4.3v1.45h-4.3zM60.2 30.45h4.3v1.45h-4.3zM60.2 59.45h4.3v1.45h-4.3zM60.2 62.35h4.3v1.45h-4.3zM60.2 72.50h4.3v1.45h-4.3zM60.2 79.75h4.3v1.45h-4.3zM60.2 85.55h4.3v1.45h-4.3zM64.5 4.35h4.3v1.45h-4.3zM64.5 21.75h4.3v1.45h-4.3zM64.5 34.80h4.3v1.45h-4.3zM64.5 42.05h4.3v1.45h-4.3zM64.5 82.65h4.3v1.45h-4.3zM68.8 14.50h4.3v1.45h-4.3zM68.8 36.25h4.3v1.45h-4.3zM68.8 50.75h4.3v1.45h-4.3zM68.8 56.55h4.3v1.45h-4.3zM68.8 75.40h4.3v1.45h-4.3zM73.1 2.90h4.3v1.45h-4.3zM73.1 11.60h4.3v1.45h-4.3zM73.1 18.85h4.3v1.45h-4.3zM73.1 21.75h4.3v1.45h-4.3zM73.1 33.35h4.3v1.45h-4.3zM73.1 47.85h4.3v1.45h-4.3zM73.1 65.25h4.3v1.45h-4.3zM73.1 78.30h4.3v1.45h-4.3zM77.4 2.90h4.3v1.45h-4.3zM77.4 47.85h4.3v1.45h-4.3zM77.4 53.65h4.3v1.45h-4.3zM77.4 82.65h4.3v1.45h-4.3z" fill="#000" fill-opacity="0.050"/><path d="M0.0 75.40h4.3v1.45h-4.3zM4.3 18.85h4.3v1.45h-4.3zM8.6 39.15h4.3v1.45h-4.3zM8.6 65.25h4.3v1.45h-4.3zM12.9 13.05h4.3v1.45h-4.3zM12.9 17.40h4.3v1.45h-4.3zM17.2 13.05h4.3v1.45h-4.3zM17.2 14.50h4.3v1.45h-4.3zM17.2 15.95h4.3v1.45h-4.3zM17.2 58.00h4.3v1.45h-4.3zM21.5 17.40h4.3v1.45h-4.3zM25.8 36.25h4.3v1.45h-4.3zM34.4 24.65h4.3v1.45h-4.3zM43.0 76.85h4.3v1.45h-4.3zM47.3 10.15h4.3v1.45h-4.3zM47.3 40.60h4.3v1.45h-4.3zM47.3 46.40h4.3v1.45h-4.3zM47.3 49.30h4.3v1.45h-4.3zM47.3 73.95h4.3v1.45h-4.3zM51.6 1.45h4.3v1.45h-4.3zM51.6 84.10h4.3v1.45h-4.3zM55.9 21.75h4.3v1.45h-4.3zM55.9 68.15h4.3v1.45h-4.3zM60.2 20.30h4.3v1.45h-4.3zM60.2 47.85h4.3v1.45h-4.3zM64.5 7.25h4.3v1.45h-4.3zM64.5 43.50h4.3v1.45h-4.3zM64.5 46.40h4.3v1.45h-4.3zM77.4 23.20h4.3v1.45h-4.3zM77.4 34.80h4.3v1.45h-4.3zM77.4 37.70h4.3v1.45h-4.3zM81.7 0.00h4.3v1.45h-4.3zM81.7 46.40h4.3v1.45h-4.3zM81.7 59.45h4.3v1.45h-4.3zM81.7 66.70h4.3v1.45h-4.3zM81.7 82.65h4.3v1.45h-4.3z" fill="#000" fill-opacity="0.075"/><path d="M8.6 29.00h4.3v1.45h-4.3zM47.3 50.75h4.3v1.45h-4.3zM55.9 46.40h4.3v1.45h-4.3zM77.4 73.95h4.3v1.45h-4.3z" fill="#fff" fill-opacity="0.080"/><path d="M51.6 8.70h4.3v1.45h-4.3zM68.8 5.80h4.3v1.45h-4.3zM81.7 42.05h4.3v1.45h-4.3z" fill="#000" fill-opacity="0.100"/><path d="M64.5 14.50h4.3v1.45h-4.3z" fill="#fff" fill-opacity="0.100"/></pattern>
<pattern id="tB" patternUnits="userSpaceOnUse" x="89.5" y="43.5" width="73.1" height="66.70"><path d="M0.0 1.45h4.3v1.45h-4.3zM0.0 2.90h4.3v1.45h-4.3zM0.0 5.80h4.3v1.45h-4.3zM0.0 17.40h4.3v1.45h-4.3zM0.0 18.85h4.3v1.45h-4.3zM0.0 42.05h4.3v1.45h-4.3zM0.0 62.35h4.3v1.45h-4.3zM0.0 63.80h4.3v1.45h-4.3zM4.3 2.90h4.3v1.45h-4.3zM4.3 10.15h4.3v1.45h-4.3zM4.3 11.60h4.3v1.45h-4.3zM4.3 24.65h4.3v1.45h-4.3zM4.3 37.70h4.3v1.45h-4.3zM4.3 52.20h4.3v1.45h-4.3zM4.3 62.35h4.3v1.45h-4.3zM8.6 5.80h4.3v1.45h-4.3zM8.6 7.25h4.3v1.45h-4.3zM8.6 15.95h4.3v1.45h-4.3zM8.6 18.85h4.3v1.45h-4.3zM8.6 21.75h4.3v1.45h-4.3zM8.6 26.10h4.3v1.45h-4.3zM8.6 40.60h4.3v1.45h-4.3zM8.6 42.05h4.3v1.45h-4.3zM8.6 47.85h4.3v1.45h-4.3zM8.6 49.30h4.3v1.45h-4.3zM8.6 58.00h4.3v1.45h-4.3zM8.6 60.90h4.3v1.45h-4.3zM8.6 62.35h4.3v1.45h-4.3zM8.6 65.25h4.3v1.45h-4.3zM12.9 0.00h4.3v1.45h-4.3zM12.9 5.80h4.3v1.45h-4.3zM12.9 10.15h4.3v1.45h-4.3zM12.9 11.60h4.3v1.45h-4.3zM12.9 18.85h4.3v1.45h-4.3zM12.9 24.65h4.3v1.45h-4.3zM12.9 29.00h4.3v1.45h-4.3zM12.9 40.60h4.3v1.45h-4.3zM12.9 56.55h4.3v1.45h-4.3zM17.2 2.90h4.3v1.45h-4.3zM17.2 11.60h4.3v1.45h-4.3zM17.2 18.85h4.3v1.45h-4.3zM17.2 21.75h4.3v1.45h-4.3zM17.2 24.65h4.3v1.45h-4.3zM17.2 27.55h4.3v1.45h-4.3zM17.2 29.00h4.3v1.45h-4.3zM17.2 33.35h4.3v1.45h-4.3zM17.2 36.25h4.3v1.45h-4.3zM17.2 40.60h4.3v1.45h-4.3zM17.2 46.40h4.3v1.45h-4.3zM17.2 56.55h4.3v1.45h-4.3zM17.2 62.35h4.3v1.45h-4.3zM17.2 65.25h4.3v1.45h-4.3zM21.5 18.85h4.3v1.45h-4.3zM21.5 31.90h4.3v1.45h-4.3zM21.5 39.15h4.3v1.45h-4.3zM21.5 40.60h4.3v1.45h-4.3zM21.5 42.05h4.3v1.45h-4.3zM21.5 50.75h4.3v1.45h-4.3zM21.5 53.65h4.3v1.45h-4.3zM21.5 55.10h4.3v1.45h-4.3zM21.5 56.55h4.3v1.45h-4.3zM25.8 5.80h4.3v1.45h-4.3zM25.8 10.15h4.3v1.45h-4.3zM25.8 21.75h4.3v1.45h-4.3zM25.8 40.60h4.3v1.45h-4.3zM25.8 49.30h4.3v1.45h-4.3zM25.8 55.10h4.3v1.45h-4.3zM30.1 2.90h4.3v1.45h-4.3zM30.1 29.00h4.3v1.45h-4.3zM30.1 39.15h4.3v1.45h-4.3zM30.1 52.20h4.3v1.45h-4.3zM30.1 53.65h4.3v1.45h-4.3zM30.1 62.35h4.3v1.45h-4.3zM30.1 63.80h4.3v1.45h-4.3zM34.4 1.45h4.3v1.45h-4.3zM34.4 5.80h4.3v1.45h-4.3zM34.4 10.15h4.3v1.45h-4.3zM34.4 29.00h4.3v1.45h-4.3zM34.4 37.70h4.3v1.45h-4.3zM34.4 40.60h4.3v1.45h-4.3zM38.7 4.35h4.3v1.45h-4.3zM38.7 7.25h4.3v1.45h-4.3zM38.7 8.70h4.3v1.45h-4.3zM38.7 11.60h4.3v1.45h-4.3zM38.7 18.85h4.3v1.45h-4.3zM38.7 21.75h4.3v1.45h-4.3zM38.7 26.10h4.3v1.45h-4.3zM38.7 31.90h4.3v1.45h-4.3zM38.7 43.50h4.3v1.45h-4.3zM38.7 44.95h4.3v1.45h-4.3zM38.7 47.85h4.3v1.45h-4.3zM38.7 55.10h4.3v1.45h-4.3zM38.7 63.80h4.3v1.45h-4.3zM43.0 18.85h4.3v1.45h-4.3zM43.0 20.30h4.3v1.45h-4.3zM43.0 23.20h4.3v1.45h-4.3zM43.0 33.35h4.3v1.45h-4.3zM43.0 34.80h4.3v1.45h-4.3zM43.0 62.35h4.3v1.45h-4.3zM47.3 7.25h4.3v1.45h-4.3zM47.3 11.60h4.3v1.45h-4.3zM47.3 14.50h4.3v1.45h-4.3zM47.3 27.55h4.3v1.45h-4.3zM47.3 31.90h4.3v1.45h-4.3zM47.3 36.25h4.3v1.45h-4.3zM47.3 44.95h4.3v1.45h-4.3zM47.3 47.85h4.3v1.45h-4.3zM47.3 59.45h4.3v1.45h-4.3zM47.3 65.25h4.3v1.45h-4.3zM51.6 11.60h4.3v1.45h-4.3zM51.6 20.30h4.3v1.45h-4.3zM51.6 27.55h4.3v1.45h-4.3zM51.6 31.90h4.3v1.45h-4.3zM51.6 34.80h4.3v1.45h-4.3zM51.6 39.15h4.3v1.45h-4.3zM51.6 40.60h4.3v1.45h-4.3zM51.6 47.85h4.3v1.45h-4.3zM51.6 50.75h4.3v1.45h-4.3zM51.6 59.45h4.3v1.45h-4.3zM55.9 0.00h4.3v1.45h-4.3zM55.9 2.90h4.3v1.45h-4.3zM55.9 4.35h4.3v1.45h-4.3zM55.9 13.05h4.3v1.45h-4.3zM55.9 14.50h4.3v1.45h-4.3zM55.9 20.30h4.3v1.45h-4.3zM55.9 29.00h4.3v1.45h-4.3zM55.9 30.45h4.3v1.45h-4.3zM55.9 39.15h4.3v1.45h-4.3zM55.9 40.60h4.3v1.45h-4.3zM55.9 56.55h4.3v1.45h-4.3zM55.9 63.80h4.3v1.45h-4.3zM60.2 0.00h4.3v1.45h-4.3zM60.2 5.80h4.3v1.45h-4.3zM60.2 8.70h4.3v1.45h-4.3zM60.2 11.60h4.3v1.45h-4.3zM60.2 14.50h4.3v1.45h-4.3zM60.2 15.95h4.3v1.45h-4.3zM60.2 17.40h4.3v1.45h-4.3zM60.2 21.75h4.3v1.45h-4.3zM60.2 23.20h4.3v1.45h-4.3zM60.2 24.65h4.3v1.45h-4.3zM60.2 29.00h4.3v1.45h-4.3zM60.2 34.80h4.3v1.45h-4.3zM60.2 43.50h4.3v1.45h-4.3zM60.2 47.85h4.3v1.45h-4.3zM60.2 58.00h4.3v1.45h-4.3zM64.5 2.90h4.3v1.45h-4.3zM64.5 4.35h4.3v1.45h-4.3zM64.5 5.80h4.3v1.45h-4.3zM64.5 21.75h4.3v1.45h-4.3zM64.5 36.25h4.3v1.45h-4.3zM64.5 46.40h4.3v1.45h-4.3zM64.5 47.85h4.3v1.45h-4.3zM64.5 65.25h4.3v1.45h-4.3zM68.8 8.70h4.3v1.45h-4.3zM68.8 10.15h4.3v1.45h-4.3zM68.8 21.75h4.3v1.45h-4.3zM68.8 23.20h4.3v1.45h-4.3zM68.8 37.70h4.3v1.45h-4.3zM68.8 40.60h4.3v1.45h-4.3zM68.8 52.20h4.3v1.45h-4.3zM68.8 58.00h4.3v1.45h-4.3zM68.8 60.90h4.3v1.45h-4.3z" fill="#000" fill-opacity="0.025"/><path d="M0.0 4.35h4.3v1.45h-4.3zM0.0 10.15h4.3v1.45h-4.3zM0.0 24.65h4.3v1.45h-4.3zM0.0 27.55h4.3v1.45h-4.3zM0.0 33.35h4.3v1.45h-4.3zM0.0 36.25h4.3v1.45h-4.3zM0.0 47.85h4.3v1.45h-4.3zM0.0 52.20h4.3v1.45h-4.3zM0.0 53.65h4.3v1.45h-4.3zM0.0 55.10h4.3v1.45h-4.3zM0.0 58.00h4.3v1.45h-4.3zM4.3 7.25h4.3v1.45h-4.3zM4.3 31.90h4.3v1.45h-4.3zM4.3 39.15h4.3v1.45h-4.3zM4.3 43.50h4.3v1.45h-4.3zM4.3 58.00h4.3v1.45h-4.3zM4.3 59.45h4.3v1.45h-4.3zM4.3 63.80h4.3v1.45h-4.3zM8.6 0.00h4.3v1.45h-4.3zM8.6 2.90h4.3v1.45h-4.3zM8.6 8.70h4.3v1.45h-4.3zM8.6 10.15h4.3v1.45h-4.3zM8.6 17.40h4.3v1.45h-4.3zM8.6 27.55h4.3v1.45h-4.3zM8.6 31.90h4.3v1.45h-4.3zM8.6 50.75h4.3v1.45h-4.3zM8.6 52.20h4.3v1.45h-4.3zM8.6 59.45h4.3v1.45h-4.3zM12.9 14.50h4.3v1.45h-4.3zM12.9 15.95h4.3v1.45h-4.3zM12.9 26.10h4.3v1.45h-4.3zM12.9 33.35h4.3v1.45h-4.3zM12.9 34.80h4.3v1.45h-4.3zM12.9 44.95h4.3v1.45h-4.3zM12.9 49.30h4.3v1.45h-4.3zM12.9 50.75h4.3v1.45h-4.3zM12.9 52.20h4.3v1.45h-4.3zM12.9 65.25h4.3v1.45h-4.3zM17.2 1.45h4.3v1.45h-4.3zM17.2 13.05h4.3v1.45h-4.3zM17.2 17.40h4.3v1.45h-4.3zM17.2 23.20h4.3v1.45h-4.3zM17.2 44.95h4.3v1.45h-4.3zM17.2 47.85h4.3v1.45h-4.3zM17.2 55.10h4.3v1.45h-4.3zM17.2 60.90h4.3v1.45h-4.3zM21.5 1.45h4.3v1.45h-4.3zM21.5 7.25h4.3v1.45h-4.3zM21.5 8.70h4.3v1.45h-4.3zM21.5 11.60h4.3v1.45h-4.3zM21.5 14.50h4.3v1.45h-4.3zM21.5 21.75h4.3v1.45h-4.3zM21.5 24.65h4.3v1.45h-4.3zM21.5 33.35h4.3v1.45h-4.3zM21.5 37.70h4.3v1.45h-4.3zM21.5 43.50h4.3v1.45h-4.3zM21.5 46.40h4.3v1.45h-4.3zM21.5 47.85h4.3v1.45h-4.3zM21.5 49.30h4.3v1.45h-4.3zM21.5 52.20h4.3v1.45h-4.3zM21.5 60.90h4.3v1.45h-4.3zM25.8 17.40h4.3v1.45h-4.3zM25.8 26.10h4.3v1.45h-4.3zM25.8 31.90h4.3v1.45h-4.3zM25.8 39.15h4.3v1.45h-4.3zM25.8 43.50h4.3v1.45h-4.3zM25.8 47.85h4.3v1.45h-4.3zM30.1 5.80h4.3v1.45h-4.3zM30.1 8.70h4.3v1.45h-4.3zM30.1 13.05h4.3v1.45h-4.3zM30.1 14.50h4.3v1.45h-4.3zM30.1 21.75h4.3v1.45h-4.3zM30.1 33.35h4.3v1.45h-4.3zM30.1 37.70h4.3v1.45h-4.3zM30.1 40.60h4.3v1.45h-4.3zM30.1 55.10h4.3v1.45h-4.3zM34.4 4.35h4.3v1.45h-4.3zM34.4 7.25h4.3v1.45h-4.3zM34.4 11.60h4.3v1.45h-4.3zM34.4 14.50h4.3v1.45h-4.3zM34.4 33.35h4.3v1.45h-4.3zM34.4 39.15h4.3v1.45h-4.3zM34.4 47.85h4.3v1.45h-4.3zM34.4 56.55h4.3v1.45h-4.3zM38.7 2.90h4.3v1.45h-4.3zM38.7 13.05h4.3v1.45h-4.3zM38.7 23.20h4.3v1.45h-4.3zM38.7 39.15h4.3v1.45h-4.3zM38.7 40.60h4.3v1.45h-4.3zM38.7 56.55h4.3v1.45h-4.3zM38.7 58.00h4.3v1.45h-4.3zM38.7 65.25h4.3v1.45h-4.3zM43.0 2.90h4.3v1.45h-4.3zM43.0 4.35h4.3v1.45h-4.3zM43.0 5.80h4.3v1.45h-4.3zM43.0 8.70h4.3v1.45h-4.3zM43.0 11.60h4.3v1.45h-4.3zM43.0 13.05h4.3v1.45h-4.3zM43.0 31.90h4.3v1.45h-4.3zM43.0 36.25h4.3v1.45h-4.3zM43.0 40.60h4.3v1.45h-4.3zM43.0 42.05h4.3v1.45h-4.3zM43.0 43.50h4.3v1.45h-4.3zM43.0 46.40h4.3v1.45h-4.3zM43.0 52.20h4.3v1.45h-4.3zM43.0 53.65h4.3v1.45h-4.3zM43.0 56.55h4.3v1.45h-4.3zM47.3 1.45h4.3v1.45h-4.3zM47.3 4.35h4.3v1.45h-4.3zM47.3 5.80h4.3v1.45h-4.3zM47.3 17.40h4.3v1.45h-4.3zM47.3 29.00h4.3v1.45h-4.3zM47.3 37.70h4.3v1.45h-4.3zM47.3 42.05h4.3v1.45h-4.3zM47.3 43.50h4.3v1.45h-4.3zM47.3 50.75h4.3v1.45h-4.3zM47.3 60.90h4.3v1.45h-4.3zM51.6 0.00h4.3v1.45h-4.3zM51.6 1.45h4.3v1.45h-4.3zM51.6 5.80h4.3v1.45h-4.3zM51.6 7.25h4.3v1.45h-4.3zM51.6 13.05h4.3v1.45h-4.3zM51.6 14.50h4.3v1.45h-4.3zM51.6 18.85h4.3v1.45h-4.3zM51.6 23.20h4.3v1.45h-4.3zM51.6 29.00h4.3v1.45h-4.3zM51.6 42.05h4.3v1.45h-4.3zM51.6 49.30h4.3v1.45h-4.3zM51.6 53.65h4.3v1.45h-4.3zM51.6 55.10h4.3v1.45h-4.3zM51.6 56.55h4.3v1.45h-4.3zM51.6 58.00h4.3v1.45h-4.3zM51.6 60.90h4.3v1.45h-4.3zM51.6 62.35h4.3v1.45h-4.3zM55.9 1.45h4.3v1.45h-4.3zM55.9 10.15h4.3v1.45h-4.3zM55.9 15.95h4.3v1.45h-4.3zM55.9 24.65h4.3v1.45h-4.3zM55.9 26.10h4.3v1.45h-4.3zM55.9 52.20h4.3v1.45h-4.3zM55.9 58.00h4.3v1.45h-4.3zM55.9 65.25h4.3v1.45h-4.3zM60.2 1.45h4.3v1.45h-4.3zM60.2 36.25h4.3v1.45h-4.3zM60.2 46.40h4.3v1.45h-4.3zM60.2 52.20h4.3v1.45h-4.3zM60.2 53.65h4.3v1.45h-4.3zM60.2 55.10h4.3v1.45h-4.3zM60.2 59.45h4.3v1.45h-4.3zM60.2 62.35h4.3v1.45h-4.3zM60.2 63.80h4.3v1.45h-4.3zM60.2 65.25h4.3v1.45h-4.3zM64.5 7.25h4.3v1.45h-4.3zM64.5 13.05h4.3v1.45h-4.3zM64.5 18.85h4.3v1.45h-4.3zM64.5 20.30h4.3v1.45h-4.3zM64.5 29.00h4.3v1.45h-4.3zM64.5 37.70h4.3v1.45h-4.3zM64.5 39.15h4.3v1.45h-4.3zM64.5 49.30h4.3v1.45h-4.3zM64.5 58.00h4.3v1.45h-4.3zM64.5 63.80h4.3v1.45h-4.3zM68.8 0.00h4.3v1.45h-4.3zM68.8 4.35h4.3v1.45h-4.3zM68.8 11.60h4.3v1.45h-4.3zM68.8 17.40h4.3v1.45h-4.3zM68.8 20.30h4.3v1.45h-4.3zM68.8 26.10h4.3v1.45h-4.3zM68.8 29.00h4.3v1.45h-4.3zM68.8 33.35h4.3v1.45h-4.3zM68.8 34.80h4.3v1.45h-4.3zM68.8 42.05h4.3v1.45h-4.3zM68.8 43.50h4.3v1.45h-4.3zM68.8 46.40h4.3v1.45h-4.3zM68.8 55.10h4.3v1.45h-4.3z" fill="#fff" fill-opacity="0.020"/><path d="M0.0 7.25h4.3v1.45h-4.3zM0.0 8.70h4.3v1.45h-4.3zM0.0 20.30h4.3v1.45h-4.3zM0.0 26.10h4.3v1.45h-4.3zM4.3 8.70h4.3v1.45h-4.3zM4.3 14.50h4.3v1.45h-4.3zM4.3 17.40h4.3v1.45h-4.3zM4.3 34.80h4.3v1.45h-4.3zM4.3 53.65h4.3v1.45h-4.3zM8.6 37.70h4.3v1.45h-4.3zM8.6 43.50h4.3v1.45h-4.3zM8.6 46.40h4.3v1.45h-4.3zM8.6 55.10h4.3v1.45h-4.3zM12.9 7.25h4.3v1.45h-4.3zM12.9 17.40h4.3v1.45h-4.3zM12.9 20.30h4.3v1.45h-4.3zM12.9 30.45h4.3v1.45h-4.3zM12.9 37.70h4.3v1.45h-4.3zM12.9 42.05h4.3v1.45h-4.3zM12.9 63.80h4.3v1.45h-4.3zM17.2 10.15h4.3v1.45h-4.3zM17.2 14.50h4.3v1.45h-4.3zM17.2 43.50h4.3v1.45h-4.3zM21.5 13.05h4.3v1.45h-4.3zM21.5 15.95h4.3v1.45h-4.3zM21.5 26.10h4.3v1.45h-4.3zM21.5 34.80h4.3v1.45h-4.3zM21.5 63.80h4.3v1.45h-4.3zM25.8 11.60h4.3v1.45h-4.3zM25.8 24.65h4.3v1.45h-4.3zM25.8 62.35h4.3v1.45h-4.3zM30.1 10.15h4.3v1.45h-4.3zM30.1 23.20h4.3v1.45h-4.3zM30.1 27.55h4.3v1.45h-4.3zM34.4 15.95h4.3v1.45h-4.3zM34.4 36.25h4.3v1.45h-4.3zM34.4 49.30h4.3v1.45h-4.3zM34.4 53.65h4.3v1.45h-4.3zM34.4 55.10h4.3v1.45h-4.3zM34.4 58.00h4.3v1.45h-4.3zM38.7 33.35h4.3v1.45h-4.3zM38.7 37.70h4.3v1.45h-4.3zM38.7 52.20h4.3v1.45h-4.3zM38.7 60.90h4.3v1.45h-4.3zM43.0 15.95h4.3v1.45h-4.3zM43.0 27.55h4.3v1.45h-4.3zM43.0 29.00h4.3v1.45h-4.3zM43.0 49.30h4.3v1.45h-4.3zM43.0 59.45h4.3v1.45h-4.3zM43.0 65.25h4.3v1.45h-4.3zM47.3 13.05h4.3v1.45h-4.3zM47.3 30.45h4.3v1.45h-4.3zM47.3 53.65h4.3v1.45h-4.3zM47.3 63.80h4.3v1.45h-4.3zM51.6 21.75h4.3v1.45h-4.3zM51.6 43.50h4.3v1.45h-4.3zM51.6 44.95h4.3v1.45h-4.3zM51.6 52.20h4.3v1.45h-4.3zM55.9 18.85h4.3v1.45h-4.3zM55.9 42.05h4.3v1.45h-4.3zM55.9 55.10h4.3v1.45h-4.3zM60.2 13.05h4.3v1.45h-4.3zM60.2 37.70h4.3v1.45h-4.3zM64.5 23.20h4.3v1.45h-4.3zM64.5 31.90h4.3v1.45h-4.3zM64.5 42.05h4.3v1.45h-4.3zM64.5 50.75h4.3v1.45h-4.3zM64.5 52.20h4.3v1.45h-4.3zM64.5 60.90h4.3v1.45h-4.3zM68.8 7.25h4.3v1.45h-4.3zM68.8 30.45h4.3v1.45h-4.3zM68.8 31.90h4.3v1.45h-4.3zM68.8 50.75h4.3v1.45h-4.3zM68.8 65.25h4.3v1.45h-4.3z" fill="#000" fill-opacity="0.050"/><path d="M0.0 11.60h4.3v1.45h-4.3zM0.0 15.95h4.3v1.45h-4.3zM0.0 40.60h4.3v1.45h-4.3zM0.0 65.25h4.3v1.45h-4.3zM4.3 27.55h4.3v1.45h-4.3zM4.3 29.00h4.3v1.45h-4.3zM4.3 30.45h4.3v1.45h-4.3zM4.3 33.35h4.3v1.45h-4.3zM4.3 44.95h4.3v1.45h-4.3zM8.6 11.60h4.3v1.45h-4.3zM8.6 30.45h4.3v1.45h-4.3zM8.6 34.80h4.3v1.45h-4.3zM8.6 44.95h4.3v1.45h-4.3zM8.6 53.65h4.3v1.45h-4.3zM8.6 63.80h4.3v1.45h-4.3zM12.9 1.45h4.3v1.45h-4.3zM12.9 2.90h4.3v1.45h-4.3zM12.9 60.90h4.3v1.45h-4.3zM17.2 20.30h4.3v1.45h-4.3zM17.2 26.10h4.3v1.45h-4.3zM17.2 30.45h4.3v1.45h-4.3zM17.2 31.90h4.3v1.45h-4.3zM17.2 49.30h4.3v1.45h-4.3zM17.2 63.80h4.3v1.45h-4.3zM21.5 4.35h4.3v1.45h-4.3zM21.5 27.55h4.3v1.45h-4.3zM21.5 59.45h4.3v1.45h-4.3zM21.5 65.25h4.3v1.45h-4.3zM25.8 1.45h4.3v1.45h-4.3zM25.8 20.30h4.3v1.45h-4.3zM25.8 36.25h4.3v1.45h-4.3zM25.8 42.05h4.3v1.45h-4.3zM30.1 7.25h4.3v1.45h-4.3zM30.1 43.50h4.3v1.45h-4.3zM30.1 56.55h4.3v1.45h-4.3zM30.1 59.45h4.3v1.45h-4.3zM34.4 0.00h4.3v1.45h-4.3zM34.4 13.05h4.3v1.45h-4.3zM34.4 31.90h4.3v1.45h-4.3zM34.4 62.35h4.3v1.45h-4.3zM34.4 63.80h4.3v1.45h-4.3zM38.7 17.40h4.3v1.45h-4.3zM38.7 24.65h4.3v1.45h-4.3zM38.7 29.00h4.3v1.45h-4.3zM38.7 36.25h4.3v1.45h-4.3zM38.7 50.75h4.3v1.45h-4.3zM38.7 62.35h4.3v1.45h-4.3zM43.0 10.15h4.3v1.45h-4.3zM43.0 60.90h4.3v1.45h-4.3zM47.3 18.85h4.3v1.45h-4.3zM47.3 21.75h4.3v1.45h-4.3zM47.3 34.80h4.3v1.45h-4.3zM47.3 39.15h4.3v1.45h-4.3zM47.3 52.20h4.3v1.45h-4.3zM47.3 55.10h4.3v1.45h-4.3zM51.6 8.70h4.3v1.45h-4.3zM55.9 5.80h4.3v1.45h-4.3zM55.9 23.20h4.3v1.45h-4.3zM55.9 34.80h4.3v1.45h-4.3zM55.9 36.25h4.3v1.45h-4.3zM55.9 37.70h4.3v1.45h-4.3zM55.9 47.85h4.3v1.45h-4.3zM60.2 18.85h4.3v1.45h-4.3zM60.2 30.45h4.3v1.45h-4.3zM60.2 60.90h4.3v1.45h-4.3zM64.5 0.00h4.3v1.45h-4.3zM64.5 1.45h4.3v1.45h-4.3zM64.5 8.70h4.3v1.45h-4.3zM64.5 24.65h4.3v1.45h-4.3zM64.5 26.10h4.3v1.45h-4.3zM64.5 40.60h4.3v1.45h-4.3zM64.5 55.10h4.3v1.45h-4.3zM64.5 62.35h4.3v1.45h-4.3zM68.8 2.90h4.3v1.45h-4.3zM68.8 15.95h4.3v1.45h-4.3zM68.8 18.85h4.3v1.45h-4.3zM68.8 49.30h4.3v1.45h-4.3z" fill="#fff" fill-opacity="0.040"/><path d="M0.0 34.80h4.3v1.45h-4.3zM4.3 26.10h4.3v1.45h-4.3zM4.3 36.25h4.3v1.45h-4.3zM12.9 4.35h4.3v1.45h-4.3zM17.2 59.45h4.3v1.45h-4.3zM25.8 60.90h4.3v1.45h-4.3zM38.7 0.00h4.3v1.45h-4.3zM43.0 1.45h4.3v1.45h-4.3zM43.0 44.95h4.3v1.45h-4.3zM47.3 33.35h4.3v1.45h-4.3zM51.6 24.65h4.3v1.45h-4.3zM55.9 17.40h4.3v1.45h-4.3zM60.2 49.30h4.3v1.45h-4.3zM64.5 27.55h4.3v1.45h-4.3zM64.5 56.55h4.3v1.45h-4.3zM68.8 36.25h4.3v1.45h-4.3zM68.8 39.15h4.3v1.45h-4.3z" fill="#000" fill-opacity="0.075"/><path d="M4.3 18.85h4.3v1.45h-4.3zM4.3 23.20h4.3v1.45h-4.3zM12.9 27.55h4.3v1.45h-4.3zM12.9 36.25h4.3v1.45h-4.3zM17.2 15.95h4.3v1.45h-4.3zM25.8 37.70h4.3v1.45h-4.3zM34.4 8.70h4.3v1.45h-4.3zM38.7 10.15h4.3v1.45h-4.3zM38.7 34.80h4.3v1.45h-4.3zM38.7 53.65h4.3v1.45h-4.3zM43.0 24.65h4.3v1.45h-4.3zM43.0 26.10h4.3v1.45h-4.3zM43.0 37.70h4.3v1.45h-4.3zM51.6 17.40h4.3v1.45h-4.3zM60.2 42.05h4.3v1.45h-4.3zM68.8 56.55h4.3v1.45h-4.3zM68.8 63.80h4.3v1.45h-4.3z" fill="#fff" fill-opacity="0.060"/><path d="M12.9 21.75h4.3v1.45h-4.3zM60.2 7.25h4.3v1.45h-4.3z" fill="#fff" fill-opacity="0.080"/><path d="M25.8 8.70h4.3v1.45h-4.3zM38.7 1.45h4.3v1.45h-4.3z" fill="#000" fill-opacity="0.100"/></pattern>
<pattern id="tO" patternUnits="userSpaceOnUse" x="89.5" y="43.5" width="258.0" height="217.50"><path d="M0.0 0.00h4.3v1.45h-4.3zM0.0 82.65h4.3v1.45h-4.3zM0.0 111.65h4.3v1.45h-4.3zM0.0 191.40h4.3v1.45h-4.3zM4.3 27.55h4.3v1.45h-4.3zM12.9 197.20h4.3v1.45h-4.3zM21.5 97.15h4.3v1.45h-4.3zM25.8 7.25h4.3v1.45h-4.3zM25.8 59.45h4.3v1.45h-4.3zM25.8 114.55h4.3v1.45h-4.3zM38.7 210.25h4.3v1.45h-4.3zM51.6 116.00h4.3v1.45h-4.3zM55.9 62.35h4.3v1.45h-4.3zM60.2 150.80h4.3v1.45h-4.3zM64.5 14.50h4.3v1.45h-4.3zM81.7 18.85h4.3v1.45h-4.3zM90.3 147.90h4.3v1.45h-4.3zM94.6 56.55h4.3v1.45h-4.3zM107.5 39.15h4.3v1.45h-4.3zM120.4 88.45h4.3v1.45h-4.3zM124.7 13.05h4.3v1.45h-4.3zM150.5 105.85h4.3v1.45h-4.3zM150.5 191.40h4.3v1.45h-4.3zM184.9 18.85h4.3v1.45h-4.3zM184.9 94.25h4.3v1.45h-4.3zM193.5 47.85h4.3v1.45h-4.3zM197.8 97.15h4.3v1.45h-4.3zM197.8 107.30h4.3v1.45h-4.3zM210.7 211.70h4.3v1.45h-4.3zM227.9 204.45h4.3v1.45h-4.3zM240.8 211.70h4.3v1.45h-4.3zM245.1 156.60h4.3v1.45h-4.3z" fill="#000" fill-opacity="0.200"/><path d="M0.0 98.60h4.3v1.45h-4.3zM0.0 166.75h4.3v1.45h-4.3zM12.9 129.05h4.3v1.45h-4.3zM17.2 95.70h4.3v1.45h-4.3zM17.2 118.90h4.3v1.45h-4.3zM17.2 192.85h4.3v1.45h-4.3zM21.5 73.95h4.3v1.45h-4.3zM25.8 31.90h4.3v1.45h-4.3zM34.4 8.70h4.3v1.45h-4.3zM34.4 143.55h4.3v1.45h-4.3zM38.7 179.80h4.3v1.45h-4.3zM43.0 29.00h4.3v1.45h-4.3zM43.0 52.20h4.3v1.45h-4.3zM47.3 163.85h4.3v1.45h-4.3zM51.6 37.70h4.3v1.45h-4.3zM55.9 0.00h4.3v1.45h-4.3zM55.9 66.70h4.3v1.45h-4.3zM64.5 26.10h4.3v1.45h-4.3zM64.5 85.55h4.3v1.45h-4.3zM64.5 113.10h4.3v1.45h-4.3zM68.8 65.25h4.3v1.45h-4.3zM73.1 30.45h4.3v1.45h-4.3zM73.1 168.20h4.3v1.45h-4.3zM77.4 197.20h4.3v1.45h-4.3zM81.7 14.50h4.3v1.45h-4.3zM86.0 10.15h4.3v1.45h-4.3zM103.2 1.45h4.3v1.45h-4.3zM107.5 89.90h4.3v1.45h-4.3zM107.5 101.50h4.3v1.45h-4.3zM129.0 11.60h4.3v1.45h-4.3zM129.0 18.85h4.3v1.45h-4.3zM133.3 121.80h4.3v1.45h-4.3zM133.3 165.30h4.3v1.45h-4.3zM137.6 8.70h4.3v1.45h-4.3zM137.6 73.95h4.3v1.45h-4.3zM141.9 62.35h4.3v1.45h-4.3zM141.9 140.65h4.3v1.45h-4.3zM146.2 13.05h4.3v1.45h-4.3zM146.2 23.20h4.3v1.45h-4.3zM146.2 207.35h4.3v1.45h-4.3zM154.8 31.90h4.3v1.45h-4.3zM154.8 59.45h4.3v1.45h-4.3zM154.8 127.60h4.3v1.45h-4.3zM167.7 204.45h4.3v1.45h-4.3zM172.0 18.85h4.3v1.45h-4.3zM172.0 131.95h4.3v1.45h-4.3zM180.6 29.00h4.3v1.45h-4.3zM180.6 140.65h4.3v1.45h-4.3zM189.2 0.00h4.3v1.45h-4.3zM189.2 34.80h4.3v1.45h-4.3zM193.5 52.20h4.3v1.45h-4.3zM197.8 134.85h4.3v1.45h-4.3zM197.8 153.70h4.3v1.45h-4.3zM202.1 7.25h4.3v1.45h-4.3zM202.1 158.05h4.3v1.45h-4.3zM206.4 101.50h4.3v1.45h-4.3zM210.7 92.80h4.3v1.45h-4.3zM210.7 195.75h4.3v1.45h-4.3zM219.3 204.45h4.3v1.45h-4.3zM223.6 187.05h4.3v1.45h-4.3zM236.5 17.40h4.3v1.45h-4.3zM236.5 55.10h4.3v1.45h-4.3zM240.8 46.40h4.3v1.45h-4.3zM249.4 58.00h4.3v1.45h-4.3zM249.4 134.85h4.3v1.45h-4.3z" fill="#000" fill-opacity="0.175"/><path d="M0.0 179.80h4.3v1.45h-4.3zM4.3 182.70h4.3v1.45h-4.3zM12.9 191.40h4.3v1.45h-4.3zM17.2 203.00h4.3v1.45h-4.3zM34.4 59.45h4.3v1.45h-4.3zM38.7 131.95h4.3v1.45h-4.3zM51.6 30.45h4.3v1.45h-4.3zM51.6 63.80h4.3v1.45h-4.3zM55.9 85.55h4.3v1.45h-4.3zM55.9 165.30h4.3v1.45h-4.3zM60.2 46.40h4.3v1.45h-4.3zM68.8 108.75h4.3v1.45h-4.3zM73.1 203.00h4.3v1.45h-4.3zM77.4 216.05h4.3v1.45h-4.3zM90.3 188.50h4.3v1.45h-4.3zM98.9 58.00h4.3v1.45h-4.3zM98.9 75.40h4.3v1.45h-4.3zM111.8 89.90h4.3v1.45h-4.3zM124.7 111.65h4.3v1.45h-4.3zM129.0 145.00h4.3v1.45h-4.3zM133.3 27.55h4.3v1.45h-4.3zM133.3 140.65h4.3v1.45h-4.3zM146.2 37.70h4.3v1.45h-4.3zM159.1 160.95h4.3v1.45h-4.3zM189.2 13.05h4.3v1.45h-4.3zM189.2 44.95h4.3v1.45h-4.3zM189.2 120.35h4.3v1.45h-4.3zM189.2 213.15h4.3v1.45h-4.3zM193.5 110.20h4.3v1.45h-4.3zM197.8 129.05h4.3v1.45h-4.3zM202.1 100.05h4.3v1.45h-4.3zM202.1 189.95h4.3v1.45h-4.3zM219.3 210.25h4.3v1.45h-4.3zM227.9 88.45h4.3v1.45h-4.3zM236.5 23.20h4.3v1.45h-4.3zM249.4 185.60h4.3v1.45h-4.3zM253.7 62.35h4.3v1.45h-4.3z" fill="#000" fill-opacity="0.050"/><path d="M0.0 187.05h4.3v1.45h-4.3zM4.3 0.00h4.3v1.45h-4.3zM4.3 107.30h4.3v1.45h-4.3zM8.6 0.00h4.3v1.45h-4.3zM8.6 49.30h4.3v1.45h-4.3zM21.5 59.45h4.3v1.45h-4.3zM25.8 26.10h4.3v1.45h-4.3zM25.8 46.40h4.3v1.45h-4.3zM30.1 30.45h4.3v1.45h-4.3zM30.1 34.80h4.3v1.45h-4.3zM30.1 165.30h4.3v1.45h-4.3zM38.7 17.40h4.3v1.45h-4.3zM38.7 68.15h4.3v1.45h-4.3zM43.0 105.85h4.3v1.45h-4.3zM43.0 175.45h4.3v1.45h-4.3zM47.3 120.35h4.3v1.45h-4.3zM51.6 10.15h4.3v1.45h-4.3zM55.9 210.25h4.3v1.45h-4.3zM60.2 88.45h4.3v1.45h-4.3zM60.2 146.45h4.3v1.45h-4.3zM68.8 7.25h4.3v1.45h-4.3zM68.8 60.90h4.3v1.45h-4.3zM73.1 33.35h4.3v1.45h-4.3zM73.1 49.30h4.3v1.45h-4.3zM73.1 104.40h4.3v1.45h-4.3zM77.4 79.75h4.3v1.45h-4.3zM81.7 110.20h4.3v1.45h-4.3zM90.3 98.60h4.3v1.45h-4.3zM94.6 15.95h4.3v1.45h-4.3zM94.6 162.40h4.3v1.45h-4.3zM98.9 142.10h4.3v1.45h-4.3zM98.9 187.05h4.3v1.45h-4.3zM98.9 207.35h4.3v1.45h-4.3zM107.5 21.75h4.3v1.45h-4.3zM116.1 107.30h4.3v1.45h-4.3zM116.1 189.95h4.3v1.45h-4.3zM124.7 29.00h4.3v1.45h-4.3zM129.0 79.75h4.3v1.45h-4.3zM129.0 102.95h4.3v1.45h-4.3zM133.3 81.20h4.3v1.45h-4.3zM146.2 63.80h4.3v1.45h-4.3zM150.5 2.90h4.3v1.45h-4.3zM163.4 188.50h4.3v1.45h-4.3zM176.3 76.85h4.3v1.45h-4.3zM176.3 149.35h4.3v1.45h-4.3zM180.6 121.80h4.3v1.45h-4.3zM180.6 210.25h4.3v1.45h-4.3zM189.2 39.15h4.3v1.45h-4.3zM193.5 20.30h4.3v1.45h-4.3zM202.1 162.40h4.3v1.45h-4.3zM206.4 52.20h4.3v1.45h-4.3zM210.7 105.85h4.3v1.45h-4.3zM215.0 75.40h4.3v1.45h-4.3zM215.0 116.00h4.3v1.45h-4.3zM227.9 187.05h4.3v1.45h-4.3zM240.8 55.10h4.3v1.45h-4.3zM240.8 59.45h4.3v1.45h-4.3zM245.1 81.20h4.3v1.45h-4.3zM249.4 176.90h4.3v1.45h-4.3zM253.7 156.60h4.3v1.45h-4.3z" fill="#000" fill-opacity="0.100"/><path d="M4.3 39.15h4.3v1.45h-4.3zM25.8 0.00h4.3v1.45h-4.3zM60.2 139.20h4.3v1.45h-4.3zM86.0 143.55h4.3v1.45h-4.3zM103.2 162.40h4.3v1.45h-4.3zM167.7 143.55h4.3v1.45h-4.3zM184.9 55.10h4.3v1.45h-4.3zM197.8 89.90h4.3v1.45h-4.3zM206.4 118.90h4.3v1.45h-4.3zM227.9 63.80h4.3v1.45h-4.3zM253.7 33.35h4.3v1.45h-4.3z" fill="#000" fill-opacity="0.225"/><path d="M4.3 47.85h4.3v1.45h-4.3zM17.2 147.90h4.3v1.45h-4.3zM21.5 175.45h4.3v1.45h-4.3zM25.8 108.75h4.3v1.45h-4.3zM25.8 121.80h4.3v1.45h-4.3zM34.4 68.15h4.3v1.45h-4.3zM34.4 142.10h4.3v1.45h-4.3zM34.4 149.35h4.3v1.45h-4.3zM34.4 168.20h4.3v1.45h-4.3zM34.4 207.35h4.3v1.45h-4.3zM38.7 21.75h4.3v1.45h-4.3zM38.7 53.65h4.3v1.45h-4.3zM43.0 117.45h4.3v1.45h-4.3zM43.0 139.20h4.3v1.45h-4.3zM47.3 116.00h4.3v1.45h-4.3zM55.9 84.10h4.3v1.45h-4.3zM55.9 166.75h4.3v1.45h-4.3zM64.5 42.05h4.3v1.45h-4.3zM64.5 52.20h4.3v1.45h-4.3zM64.5 78.30h4.3v1.45h-4.3zM64.5 95.70h4.3v1.45h-4.3zM68.8 27.55h4.3v1.45h-4.3zM68.8 39.15h4.3v1.45h-4.3zM68.8 50.75h4.3v1.45h-4.3zM73.1 131.95h4.3v1.45h-4.3zM73.1 143.55h4.3v1.45h-4.3zM73.1 166.75h4.3v1.45h-4.3zM73.1 187.05h4.3v1.45h-4.3zM81.7 118.90h4.3v1.45h-4.3zM81.7 147.90h4.3v1.45h-4.3zM81.7 155.15h4.3v1.45h-4.3zM81.7 168.20h4.3v1.45h-4.3zM86.0 75.40h4.3v1.45h-4.3zM86.0 131.95h4.3v1.45h-4.3zM90.3 88.45h4.3v1.45h-4.3zM98.9 31.90h4.3v1.45h-4.3zM98.9 139.20h4.3v1.45h-4.3zM103.2 91.35h4.3v1.45h-4.3zM103.2 165.30h4.3v1.45h-4.3zM111.8 30.45h4.3v1.45h-4.3zM116.1 53.65h4.3v1.45h-4.3zM116.1 129.05h4.3v1.45h-4.3zM116.1 160.95h4.3v1.45h-4.3zM124.7 116.00h4.3v1.45h-4.3zM133.3 1.45h4.3v1.45h-4.3zM133.3 159.50h4.3v1.45h-4.3zM137.6 21.75h4.3v1.45h-4.3zM137.6 49.30h4.3v1.45h-4.3zM141.9 1.45h4.3v1.45h-4.3zM141.9 129.05h4.3v1.45h-4.3zM150.5 65.25h4.3v1.45h-4.3zM150.5 152.25h4.3v1.45h-4.3zM150.5 213.15h4.3v1.45h-4.3zM159.1 79.75h4.3v1.45h-4.3zM172.0 81.20h4.3v1.45h-4.3zM176.3 14.50h4.3v1.45h-4.3zM176.3 27.55h4.3v1.45h-4.3zM180.6 92.80h4.3v1.45h-4.3zM184.9 36.25h4.3v1.45h-4.3zM184.9 43.50h4.3v1.45h-4.3zM189.2 55.10h4.3v1.45h-4.3zM193.5 131.95h4.3v1.45h-4.3zM197.8 37.70h4.3v1.45h-4.3zM197.8 101.50h4.3v1.45h-4.3zM197.8 191.40h4.3v1.45h-4.3zM206.4 84.10h4.3v1.45h-4.3zM210.7 104.40h4.3v1.45h-4.3zM210.7 116.00h4.3v1.45h-4.3zM219.3 120.35h4.3v1.45h-4.3zM219.3 150.80h4.3v1.45h-4.3zM223.6 4.35h4.3v1.45h-4.3zM223.6 71.05h4.3v1.45h-4.3zM223.6 131.95h4.3v1.45h-4.3zM223.6 166.75h4.3v1.45h-4.3zM232.2 172.55h4.3v1.45h-4.3zM249.4 79.75h4.3v1.45h-4.3zM249.4 156.60h4.3v1.45h-4.3zM253.7 0.00h4.3v1.45h-4.3zM253.7 40.60h4.3v1.45h-4.3z" fill="#000" fill-opacity="0.150"/><path d="M4.3 181.25h4.3v1.45h-4.3zM4.3 192.85h4.3v1.45h-4.3zM17.2 0.00h4.3v1.45h-4.3zM17.2 62.35h4.3v1.45h-4.3zM17.2 104.40h4.3v1.45h-4.3zM17.2 211.70h4.3v1.45h-4.3zM21.5 137.75h4.3v1.45h-4.3zM21.5 204.45h4.3v1.45h-4.3zM25.8 2.90h4.3v1.45h-4.3zM25.8 66.70h4.3v1.45h-4.3zM25.8 129.05h4.3v1.45h-4.3zM25.8 175.45h4.3v1.45h-4.3zM30.1 81.20h4.3v1.45h-4.3zM30.1 168.20h4.3v1.45h-4.3zM34.4 92.80h4.3v1.45h-4.3zM38.7 81.20h4.3v1.45h-4.3zM38.7 145.00h4.3v1.45h-4.3zM43.0 155.15h4.3v1.45h-4.3zM47.3 71.05h4.3v1.45h-4.3zM47.3 184.15h4.3v1.45h-4.3zM51.6 59.45h4.3v1.45h-4.3zM51.6 84.10h4.3v1.45h-4.3zM55.9 14.50h4.3v1.45h-4.3zM55.9 92.80h4.3v1.45h-4.3zM55.9 129.05h4.3v1.45h-4.3zM55.9 198.65h4.3v1.45h-4.3zM68.8 110.20h4.3v1.45h-4.3zM68.8 204.45h4.3v1.45h-4.3zM86.0 114.55h4.3v1.45h-4.3zM90.3 160.95h4.3v1.45h-4.3zM90.3 192.85h4.3v1.45h-4.3zM94.6 116.00h4.3v1.45h-4.3zM98.9 21.75h4.3v1.45h-4.3zM98.9 100.05h4.3v1.45h-4.3zM107.5 50.75h4.3v1.45h-4.3zM111.8 121.80h4.3v1.45h-4.3zM116.1 79.75h4.3v1.45h-4.3zM120.4 200.10h4.3v1.45h-4.3zM124.7 159.50h4.3v1.45h-4.3zM129.0 92.80h4.3v1.45h-4.3zM137.6 162.40h4.3v1.45h-4.3zM137.6 171.10h4.3v1.45h-4.3zM141.9 65.25h4.3v1.45h-4.3zM146.2 21.75h4.3v1.45h-4.3zM146.2 33.35h4.3v1.45h-4.3zM146.2 162.40h4.3v1.45h-4.3zM150.5 194.30h4.3v1.45h-4.3zM150.5 198.65h4.3v1.45h-4.3zM159.1 27.55h4.3v1.45h-4.3zM159.1 88.45h4.3v1.45h-4.3zM167.7 4.35h4.3v1.45h-4.3zM167.7 191.40h4.3v1.45h-4.3zM184.9 107.30h4.3v1.45h-4.3zM184.9 168.20h4.3v1.45h-4.3zM193.5 159.50h4.3v1.45h-4.3zM197.8 124.70h4.3v1.45h-4.3zM206.4 31.90h4.3v1.45h-4.3zM210.7 158.05h4.3v1.45h-4.3zM215.0 47.85h4.3v1.45h-4.3zM219.3 36.25h4.3v1.45h-4.3zM232.2 52.20h4.3v1.45h-4.3zM236.5 60.90h4.3v1.45h-4.3zM236.5 105.85h4.3v1.45h-4.3zM240.8 158.05h4.3v1.45h-4.3zM245.1 200.10h4.3v1.45h-4.3zM249.4 53.65h4.3v1.45h-4.3zM253.7 52.20h4.3v1.45h-4.3z" fill="#000" fill-opacity="0.125"/><path d="M8.6 13.05h4.3v1.45h-4.3zM34.4 85.55h4.3v1.45h-4.3zM124.7 120.35h4.3v1.45h-4.3zM184.9 84.10h4.3v1.45h-4.3zM210.7 101.50h4.3v1.45h-4.3zM210.7 149.35h4.3v1.45h-4.3zM219.3 102.95h4.3v1.45h-4.3zM219.3 116.00h4.3v1.45h-4.3zM236.5 88.45h4.3v1.45h-4.3z" fill="#000" fill-opacity="0.300"/><path d="M8.6 39.15h4.3v1.45h-4.3zM43.0 171.10h4.3v1.45h-4.3zM73.1 156.60h4.3v1.45h-4.3zM120.4 152.25h4.3v1.45h-4.3zM133.3 216.05h4.3v1.45h-4.3zM172.0 107.30h4.3v1.45h-4.3zM176.3 59.45h4.3v1.45h-4.3zM180.6 2.90h4.3v1.45h-4.3zM193.5 158.05h4.3v1.45h-4.3zM193.5 162.40h4.3v1.45h-4.3zM215.0 165.30h4.3v1.45h-4.3zM227.9 129.05h4.3v1.45h-4.3zM232.2 150.80h4.3v1.45h-4.3zM245.1 85.55h4.3v1.45h-4.3zM245.1 204.45h4.3v1.45h-4.3z" fill="#000" fill-opacity="0.275"/><path d="M8.6 171.10h4.3v1.45h-4.3zM25.8 176.90h4.3v1.45h-4.3zM30.1 27.55h4.3v1.45h-4.3zM51.6 136.30h4.3v1.45h-4.3zM124.7 214.60h4.3v1.45h-4.3zM180.6 136.30h4.3v1.45h-4.3zM189.2 108.75h4.3v1.45h-4.3zM245.1 113.10h4.3v1.45h-4.3z" fill="#000" fill-opacity="0.325"/><path d="M12.9 15.95h4.3v1.45h-4.3zM12.9 124.70h4.3v1.45h-4.3zM12.9 131.95h4.3v1.45h-4.3zM12.9 200.10h4.3v1.45h-4.3zM17.2 79.75h4.3v1.45h-4.3zM17.2 156.60h4.3v1.45h-4.3zM21.5 18.85h4.3v1.45h-4.3zM21.5 47.85h4.3v1.45h-4.3zM21.5 165.30h4.3v1.45h-4.3zM25.8 36.25h4.3v1.45h-4.3zM25.8 65.25h4.3v1.45h-4.3zM25.8 130.50h4.3v1.45h-4.3zM25.8 184.15h4.3v1.45h-4.3zM38.7 30.45h4.3v1.45h-4.3zM43.0 191.40h4.3v1.45h-4.3zM51.6 11.60h4.3v1.45h-4.3zM60.2 104.40h4.3v1.45h-4.3zM68.8 37.70h4.3v1.45h-4.3zM73.1 43.50h4.3v1.45h-4.3zM77.4 121.80h4.3v1.45h-4.3zM90.3 130.50h4.3v1.45h-4.3zM90.3 158.05h4.3v1.45h-4.3zM90.3 213.15h4.3v1.45h-4.3zM98.9 82.65h4.3v1.45h-4.3zM103.2 82.65h4.3v1.45h-4.3zM103.2 136.30h4.3v1.45h-4.3zM103.2 153.70h4.3v1.45h-4.3zM111.8 62.35h4.3v1.45h-4.3zM111.8 84.10h4.3v1.45h-4.3zM111.8 210.25h4.3v1.45h-4.3zM120.4 189.95h4.3v1.45h-4.3zM129.0 129.05h4.3v1.45h-4.3zM129.0 137.75h4.3v1.45h-4.3zM129.0 176.90h4.3v1.45h-4.3zM133.3 200.10h4.3v1.45h-4.3zM141.9 94.25h4.3v1.45h-4.3zM141.9 178.35h4.3v1.45h-4.3zM150.5 189.95h4.3v1.45h-4.3zM154.8 13.05h4.3v1.45h-4.3zM154.8 104.40h4.3v1.45h-4.3zM159.1 44.95h4.3v1.45h-4.3zM159.1 117.45h4.3v1.45h-4.3zM159.1 123.25h4.3v1.45h-4.3zM163.4 20.30h4.3v1.45h-4.3zM163.4 47.85h4.3v1.45h-4.3zM172.0 87.00h4.3v1.45h-4.3zM172.0 108.75h4.3v1.45h-4.3zM172.0 194.30h4.3v1.45h-4.3zM172.0 201.55h4.3v1.45h-4.3zM176.3 63.80h4.3v1.45h-4.3zM180.6 102.95h4.3v1.45h-4.3zM184.9 24.65h4.3v1.45h-4.3zM197.8 105.85h4.3v1.45h-4.3zM202.1 65.25h4.3v1.45h-4.3zM206.4 105.85h4.3v1.45h-4.3zM206.4 133.40h4.3v1.45h-4.3zM210.7 171.10h4.3v1.45h-4.3zM210.7 182.70h4.3v1.45h-4.3zM215.0 33.35h4.3v1.45h-4.3zM215.0 113.10h4.3v1.45h-4.3zM223.6 143.55h4.3v1.45h-4.3zM223.6 179.80h4.3v1.45h-4.3zM223.6 185.60h4.3v1.45h-4.3zM227.9 52.20h4.3v1.45h-4.3zM232.2 13.05h4.3v1.45h-4.3zM232.2 78.30h4.3v1.45h-4.3zM240.8 204.45h4.3v1.45h-4.3zM245.1 7.25h4.3v1.45h-4.3zM245.1 213.15h4.3v1.45h-4.3zM249.4 20.30h4.3v1.45h-4.3zM249.4 174.00h4.3v1.45h-4.3zM253.7 102.95h4.3v1.45h-4.3zM253.7 136.30h4.3v1.45h-4.3z" fill="#000" fill-opacity="0.075"/><path d="M17.2 149.35h4.3v1.45h-4.3zM55.9 13.05h4.3v1.45h-4.3zM81.7 197.20h4.3v1.45h-4.3zM86.0 142.10h4.3v1.45h-4.3zM94.6 184.15h4.3v1.45h-4.3zM107.5 150.80h4.3v1.45h-4.3zM111.8 140.65h4.3v1.45h-4.3zM111.8 205.90h4.3v1.45h-4.3zM120.4 26.10h4.3v1.45h-4.3zM137.6 98.60h4.3v1.45h-4.3zM154.8 110.20h4.3v1.45h-4.3zM176.3 91.35h4.3v1.45h-4.3zM206.4 214.60h4.3v1.45h-4.3z" fill="#000" fill-opacity="0.250"/><path d="M30.1 95.70h4.3v1.45h-4.3zM51.6 88.45h4.3v1.45h-4.3zM86.0 159.50h4.3v1.45h-4.3zM90.3 168.20h4.3v1.45h-4.3zM129.0 82.65h4.3v1.45h-4.3zM129.0 91.35h4.3v1.45h-4.3zM129.0 117.45h4.3v1.45h-4.3zM137.6 81.20h4.3v1.45h-4.3zM137.6 159.50h4.3v1.45h-4.3zM146.2 204.45h4.3v1.45h-4.3zM167.7 126.15h4.3v1.45h-4.3zM184.9 21.75h4.3v1.45h-4.3zM193.5 178.35h4.3v1.45h-4.3zM202.1 171.10h4.3v1.45h-4.3z" fill="#000" fill-opacity="0.350"/><path d="M30.1 107.30h4.3v1.45h-4.3zM73.1 52.20h4.3v1.45h-4.3zM77.4 89.90h4.3v1.45h-4.3zM98.9 46.40h4.3v1.45h-4.3zM120.4 174.00h4.3v1.45h-4.3zM159.1 175.45h4.3v1.45h-4.3zM232.2 101.50h4.3v1.45h-4.3zM232.2 176.90h4.3v1.45h-4.3zM232.2 207.35h4.3v1.45h-4.3z" fill="#000" fill-opacity="0.375"/><path d="M51.6 101.50h4.3v1.45h-4.3zM51.6 147.90h4.3v1.45h-4.3zM60.2 131.95h4.3v1.45h-4.3zM73.1 44.95h4.3v1.45h-4.3zM73.1 158.05h4.3v1.45h-4.3zM103.2 42.05h4.3v1.45h-4.3zM129.0 72.50h4.3v1.45h-4.3zM133.3 101.50h4.3v1.45h-4.3zM141.9 10.15h4.3v1.45h-4.3zM163.4 31.90h4.3v1.45h-4.3zM193.5 137.75h4.3v1.45h-4.3zM206.4 34.80h4.3v1.45h-4.3zM232.2 31.90h4.3v1.45h-4.3zM236.5 40.60h4.3v1.45h-4.3z" fill="#000" fill-opacity="0.400"/></pattern>
<linearGradient id="g1" gradientUnits="userSpaceOnUse" x1="0" y1="440" x2="0" y2="479"><stop offset="0.0000" stop-color="#fff" stop-opacity="0.000"/><stop offset="0.6667" stop-color="#fff" stop-opacity="0.040"/><stop offset="0.8718" stop-color="#fff" stop-opacity="0.100"/><stop offset="1.0000" stop-color="#fff" stop-opacity="0.200"/></linearGradient>
<linearGradient id="g2" gradientUnits="userSpaceOnUse" x1="0" y1="245" x2="0" y2="338"><stop offset="0.0000" stop-color="#808080" stop-opacity="0.000"/><stop offset="0.1075" stop-color="#919191" stop-opacity="0.080"/><stop offset="0.1935" stop-color="#9a9a9a" stop-opacity="0.150"/><stop offset="0.2688" stop-color="#a1a1a1" stop-opacity="0.250"/><stop offset="0.3441" stop-color="#a1a1a1" stop-opacity="0.400"/><stop offset="0.3978" stop-color="#a2a2a2" stop-opacity="0.550"/><stop offset="0.4355" stop-color="#ababab" stop-opacity="0.650"/><stop offset="0.4839" stop-color="#ababab" stop-opacity="0.600"/><stop offset="0.5376" stop-color="#a6a6a6" stop-opacity="0.500"/><stop offset="0.6129" stop-color="#9e9e9e" stop-opacity="0.400"/><stop offset="0.6989" stop-color="#9c9c9c" stop-opacity="0.250"/><stop offset="0.7849" stop-color="#959595" stop-opacity="0.150"/><stop offset="0.8925" stop-color="#8d8d8d" stop-opacity="0.060"/><stop offset="1.0000" stop-color="#808080" stop-opacity="0.000"/></linearGradient>
<linearGradient id="g3" gradientUnits="userSpaceOnUse" x1="0" y1="240" x2="0" y2="335"><stop offset="0.0000" stop-color="#fff" stop-opacity="0.000"/><stop offset="0.2632" stop-color="#fff" stop-opacity="0.500"/><stop offset="0.4947" stop-color="#fff" stop-opacity="1.000"/><stop offset="0.7368" stop-color="#fff" stop-opacity="0.500"/><stop offset="1.0000" stop-color="#fff" stop-opacity="0.000"/></linearGradient>
<linearGradient id="g4" gradientUnits="userSpaceOnUse" x1="0" y1="43" x2="0" y2="479"><stop offset="0.0000" stop-color="#fff" stop-opacity="0.220"/><stop offset="0.1078" stop-color="#fff" stop-opacity="0.260"/><stop offset="0.1651" stop-color="#fff" stop-opacity="0.220"/><stop offset="0.2454" stop-color="#fff" stop-opacity="0.090"/><stop offset="0.4518" stop-color="#fff" stop-opacity="0.080"/><stop offset="0.5436" stop-color="#fff" stop-opacity="0.200"/><stop offset="0.5894" stop-color="#fff" stop-opacity="0.200"/><stop offset="0.6812" stop-color="#fff" stop-opacity="0.100"/><stop offset="0.8188" stop-color="#fff" stop-opacity="0.170"/><stop offset="0.8647" stop-color="#fff" stop-opacity="0.250"/><stop offset="0.9335" stop-color="#fff" stop-opacity="0.500"/><stop offset="1.0000" stop-color="#fff" stop-opacity="1.000"/></linearGradient>
<linearGradient id="g5" gradientUnits="userSpaceOnUse" x1="0" y1="440" x2="0" y2="479"><stop offset="0.0000" stop-color="#fff" stop-opacity="0.000"/><stop offset="0.6410" stop-color="#fff" stop-opacity="0.040"/><stop offset="1.0000" stop-color="#fff" stop-opacity="0.140"/></linearGradient>
<linearGradient id="g6" gradientUnits="userSpaceOnUse" x1="0" y1="43" x2="0" y2="165"><stop offset="0.0000" stop-color="#fff" stop-opacity="0.500"/><stop offset="0.4262" stop-color="#fff" stop-opacity="1.000"/><stop offset="0.6721" stop-color="#fff" stop-opacity="0.600"/><stop offset="1.0000" stop-color="#fff" stop-opacity="0.000"/></linearGradient>
<linearGradient id="g7" gradientUnits="userSpaceOnUse" x1="0" y1="245" x2="0" y2="336"><stop offset="0.0000" stop-color="#808080" stop-opacity="0.000"/><stop offset="0.1429" stop-color="#8a8a8a" stop-opacity="0.120"/><stop offset="0.2527" stop-color="#9a9a9a" stop-opacity="0.250"/><stop offset="0.3407" stop-color="#a0a0a0" stop-opacity="0.400"/><stop offset="0.4176" stop-color="#a2a2a2" stop-opacity="0.550"/><stop offset="0.5055" stop-color="#a5a5a5" stop-opacity="0.600"/><stop offset="0.5934" stop-color="#a2a2a2" stop-opacity="0.550"/><stop offset="0.6703" stop-color="#a3a3a3" stop-opacity="0.400"/><stop offset="0.7582" stop-color="#9f9f9f" stop-opacity="0.250"/><stop offset="0.8681" stop-color="#959595" stop-opacity="0.120"/><stop offset="1.0000" stop-color="#808080" stop-opacity="0.000"/></linearGradient>
<linearGradient id="g8" gradientUnits="userSpaceOnUse" x1="0" y1="222" x2="0" y2="360"><stop offset="0.0000" stop-color="#fff" stop-opacity="0.000"/><stop offset="0.2029" stop-color="#fff" stop-opacity="0.550"/><stop offset="0.4928" stop-color="#fff" stop-opacity="1.000"/><stop offset="0.7826" stop-color="#fff" stop-opacity="0.600"/><stop offset="1.0000" stop-color="#fff" stop-opacity="0.000"/></linearGradient>
<linearGradient id="g9" gradientUnits="userSpaceOnUse" x1="0" y1="222" x2="0" y2="360"><stop offset="0.0000" stop-color="#000" stop-opacity="0.000"/><stop offset="0.2029" stop-color="#000" stop-opacity="0.550"/><stop offset="0.4928" stop-color="#000" stop-opacity="1.000"/><stop offset="0.7826" stop-color="#000" stop-opacity="0.600"/><stop offset="1.0000" stop-color="#000" stop-opacity="0.000"/></linearGradient>
<linearGradient id="g10" gradientUnits="userSpaceOnUse" x1="0" y1="285" x2="0" y2="479"><stop offset="0.0000" stop-color="#808080" stop-opacity="0.000"/><stop offset="0.0773" stop-color="#9c9c9c" stop-opacity="0.150"/><stop offset="0.2320" stop-color="#a1a1a1" stop-opacity="0.300"/><stop offset="0.5928" stop-color="#aeaeae" stop-opacity="0.450"/><stop offset="0.8505" stop-color="#b3b3b3" stop-opacity="0.550"/><stop offset="0.9536" stop-color="#bbbbbb" stop-opacity="0.650"/><stop offset="1.0000" stop-color="#c8c8c8" stop-opacity="0.720"/></linearGradient>
<linearGradient id="g11" gradientUnits="userSpaceOnUse" x1="0" y1="380" x2="0" y2="479"><stop offset="0.0000" stop-color="#808080" stop-opacity="0.000"/><stop offset="0.6061" stop-color="#a3a3a3" stop-opacity="0.100"/><stop offset="0.8586" stop-color="#a5a5a5" stop-opacity="0.250"/><stop offset="1.0000" stop-color="#ababab" stop-opacity="0.450"/></linearGradient>
<linearGradient id="g12" gradientUnits="userSpaceOnUse" x1="0" y1="270" x2="0" y2="292.5"><stop offset="0.0000" stop-color="#fff" stop-opacity="0.000"/><stop offset="0.4444" stop-color="#fff" stop-opacity="0.450"/><stop offset="1.0000" stop-color="#fff" stop-opacity="1.000"/></linearGradient>
<linearGradient id="g13" gradientUnits="userSpaceOnUse" x1="0" y1="258" x2="0" y2="293"><stop offset="0.0000" stop-color="#fff" stop-opacity="0.000"/><stop offset="0.4857" stop-color="#fff" stop-opacity="0.500"/><stop offset="1.0000" stop-color="#fff" stop-opacity="1.000"/></linearGradient>
<linearGradient id="hz" x1="0" y1="0" x2="1" y2="0"><stop offset="0" stop-color="#fff" stop-opacity="0"/><stop offset="0.5" stop-color="#fff" stop-opacity="0.7"/><stop offset="1" stop-color="#fff" stop-opacity="1"/></linearGradient>
</defs>
<rect width="1817" height="560" fill="#fff"/>
<g clip-path="url(#ca)" filter="url(#hot)">
<rect x="89.5" y="43.5" width="344.0" height="435.0"  fill="#777" filter="url(#nza)"/>
<rect x="89.5" y="43.5" width="344.0" height="435.0"  fill="url(#tA)"/>
<rect x="89.5" y="43.5" width="344.0" height="435.0"  fill="url(#tB)"/>
<rect x="89.5" y="43.5" width="344.0" height="435.0"  fill="url(#tO)"/>
<rect x="89.5" y="440" width="344.0" height="40" fill="url(#g1)"/>
<rect x="89.5" y="93.9" width="344.0" height="1.5" fill="#fff" opacity="0.24"/>
<rect x="89.5" y="153.6" width="344.0" height="1.3" fill="#fff" opacity="0.13"/>
<rect x="89.5" y="245" width="344.0" height="93" fill="url(#g2)"/>
<rect x="92" y="240" width="36" height="95" fill="url(#g3)" opacity="0.1"/>
<rect x="262" y="240" width="38" height="95" fill="url(#g3)" opacity="0.09"/>
<rect x="340" y="240" width="12" height="95" fill="url(#g3)" opacity="0.06"/>
<rect x="392" y="240" width="40" height="95" fill="url(#g3)" opacity="0.11"/>
<rect x="89.5" y="285.4" width="344.0" height="3.0" fill="#fff" opacity="0.27"/>
<rect x="102.4" y="255" width="4.30" height="70" fill="#fff" opacity="0.004"/>
<rect x="102.4" y="440" width="4.30" height="40" fill="url(#g1)" opacity="0.065"/>
<rect x="106.7" y="255" width="4.30" height="70" fill="#fff" opacity="0.006"/>
<rect x="106.7" y="440" width="4.30" height="40" fill="url(#g1)" opacity="0.091"/>
<rect x="119.6" y="255" width="4.30" height="70" fill="#fff" opacity="0.023"/>
<rect x="119.6" y="440" width="4.30" height="40" fill="url(#g1)" opacity="0.345"/>
<rect x="132.5" y="255" width="4.30" height="70" fill="#fff" opacity="0.036"/>
<rect x="132.5" y="440" width="4.30" height="40" fill="url(#g1)" opacity="0.535"/>
<rect x="141.1" y="255" width="4.30" height="70" fill="#fff" opacity="0.023"/>
<rect x="141.1" y="440" width="4.30" height="40" fill="url(#g1)" opacity="0.344"/>
<rect x="149.7" y="255" width="4.30" height="70" fill="#fff" opacity="0.007"/>
<rect x="149.7" y="440" width="4.30" height="40" fill="url(#g1)" opacity="0.107"/>
<rect x="158.3" y="255" width="4.30" height="70" fill="#fff" opacity="0.007"/>
<rect x="158.3" y="440" width="4.30" height="40" fill="url(#g1)" opacity="0.102"/>
<rect x="162.6" y="255" width="4.30" height="70" fill="#fff" opacity="0.025"/>
<rect x="162.6" y="440" width="4.30" height="40" fill="url(#g1)" opacity="0.382"/>
<rect x="171.2" y="255" width="4.30" height="70" fill="#fff" opacity="0.015"/>
<rect x="171.2" y="440" width="4.30" height="40" fill="url(#g1)" opacity="0.230"/>
<rect x="175.5" y="255" width="4.30" height="70" fill="#fff" opacity="0.010"/>
<rect x="175.5" y="440" width="4.30" height="40" fill="url(#g1)" opacity="0.146"/>
<rect x="184.1" y="255" width="4.30" height="70" fill="#fff" opacity="0.017"/>
<rect x="184.1" y="440" width="4.30" height="40" fill="url(#g1)" opacity="0.250"/>
<rect x="188.4" y="255" width="4.30" height="70" fill="#fff" opacity="0.003"/>
<rect x="188.4" y="440" width="4.30" height="40" fill="url(#g1)" opacity="0.049"/>
<rect x="201.3" y="255" width="4.30" height="70" fill="#fff" opacity="0.025"/>
<rect x="201.3" y="440" width="4.30" height="40" fill="url(#g1)" opacity="0.379"/>
<rect x="209.9" y="255" width="4.30" height="70" fill="#fff" opacity="0.014"/>
<rect x="209.9" y="440" width="4.30" height="40" fill="url(#g1)" opacity="0.203"/>
<rect x="214.2" y="255" width="4.30" height="70" fill="#fff" opacity="0.026"/>
<rect x="214.2" y="440" width="4.30" height="40" fill="url(#g1)" opacity="0.395"/>
<rect x="218.5" y="255" width="4.30" height="70" fill="#fff" opacity="0.013"/>
<rect x="218.5" y="440" width="4.30" height="40" fill="url(#g1)" opacity="0.197"/>
<rect x="222.8" y="255" width="4.30" height="70" fill="#fff" opacity="0.030"/>
<rect x="222.8" y="440" width="4.30" height="40" fill="url(#g1)" opacity="0.445"/>
<rect x="231.4" y="255" width="4.30" height="70" fill="#fff" opacity="0.020"/>
<rect x="231.4" y="440" width="4.30" height="40" fill="url(#g1)" opacity="0.301"/>
<rect x="240.0" y="255" width="4.30" height="70" fill="#fff" opacity="0.031"/>
<rect x="240.0" y="440" width="4.30" height="40" fill="url(#g1)" opacity="0.463"/>
<rect x="244.3" y="255" width="4.30" height="70" fill="#fff" opacity="0.026"/>
<rect x="244.3" y="440" width="4.30" height="40" fill="url(#g1)" opacity="0.395"/>
<rect x="261.5" y="255" width="4.30" height="70" fill="#fff" opacity="0.033"/>
<rect x="261.5" y="440" width="4.30" height="40" fill="url(#g1)" opacity="0.499"/>
<rect x="270.1" y="255" width="4.30" height="70" fill="#fff" opacity="0.006"/>
<rect x="270.1" y="440" width="4.30" height="40" fill="url(#g1)" opacity="0.092"/>
<rect x="291.6" y="255" width="4.30" height="70" fill="#fff" opacity="0.003"/>
<rect x="291.6" y="440" width="4.30" height="40" fill="url(#g1)" opacity="0.042"/>
<rect x="295.9" y="255" width="4.30" height="70" fill="#fff" opacity="0.003"/>
<rect x="295.9" y="440" width="4.30" height="40" fill="url(#g1)" opacity="0.041"/>
<rect x="300.2" y="255" width="4.30" height="70" fill="#fff" opacity="0.028"/>
<rect x="300.2" y="440" width="4.30" height="40" fill="url(#g1)" opacity="0.425"/>
<rect x="304.5" y="255" width="4.30" height="70" fill="#fff" opacity="0.011"/>
<rect x="304.5" y="440" width="4.30" height="40" fill="url(#g1)" opacity="0.158"/>
<rect x="308.8" y="255" width="4.30" height="70" fill="#fff" opacity="0.030"/>
<rect x="308.8" y="440" width="4.30" height="40" fill="url(#g1)" opacity="0.455"/>
<rect x="313.1" y="255" width="4.30" height="70" fill="#fff" opacity="0.025"/>
<rect x="313.1" y="440" width="4.30" height="40" fill="url(#g1)" opacity="0.368"/>
<rect x="317.4" y="255" width="4.30" height="70" fill="#fff" opacity="0.035"/>
<rect x="317.4" y="440" width="4.30" height="40" fill="url(#g1)" opacity="0.529"/>
<rect x="321.7" y="255" width="4.30" height="70" fill="#fff" opacity="0.010"/>
<rect x="321.7" y="440" width="4.30" height="40" fill="url(#g1)" opacity="0.146"/>
<rect x="330.3" y="255" width="4.30" height="70" fill="#fff" opacity="0.025"/>
<rect x="330.3" y="440" width="4.30" height="40" fill="url(#g1)" opacity="0.373"/>
<rect x="334.6" y="255" width="4.30" height="70" fill="#fff" opacity="0.033"/>
<rect x="334.6" y="440" width="4.30" height="40" fill="url(#g1)" opacity="0.498"/>
<rect x="338.9" y="255" width="4.30" height="70" fill="#fff" opacity="0.028"/>
<rect x="338.9" y="440" width="4.30" height="40" fill="url(#g1)" opacity="0.426"/>
<rect x="343.2" y="255" width="4.30" height="70" fill="#fff" opacity="0.002"/>
<rect x="343.2" y="440" width="4.30" height="40" fill="url(#g1)" opacity="0.023"/>
<rect x="347.5" y="255" width="4.30" height="70" fill="#fff" opacity="0.013"/>
<rect x="347.5" y="440" width="4.30" height="40" fill="url(#g1)" opacity="0.197"/>
<rect x="356.1" y="255" width="4.30" height="70" fill="#fff" opacity="0.023"/>
<rect x="356.1" y="440" width="4.30" height="40" fill="url(#g1)" opacity="0.338"/>
<rect x="360.4" y="255" width="4.30" height="70" fill="#fff" opacity="0.002"/>
<rect x="360.4" y="440" width="4.30" height="40" fill="url(#g1)" opacity="0.028"/>
<rect x="373.3" y="255" width="4.30" height="70" fill="#fff" opacity="0.024"/>
<rect x="373.3" y="440" width="4.30" height="40" fill="url(#g1)" opacity="0.365"/>
<rect x="377.6" y="255" width="4.30" height="70" fill="#fff" opacity="0.035"/>
<rect x="377.6" y="440" width="4.30" height="40" fill="url(#g1)" opacity="0.528"/>
<rect x="386.2" y="255" width="4.30" height="70" fill="#fff" opacity="0.020"/>
<rect x="386.2" y="440" width="4.30" height="40" fill="url(#g1)" opacity="0.301"/>
<rect x="403.4" y="255" width="4.30" height="70" fill="#fff" opacity="0.018"/>
<rect x="403.4" y="440" width="4.30" height="40" fill="url(#g1)" opacity="0.263"/>
<rect x="407.7" y="255" width="4.30" height="70" fill="#fff" opacity="0.026"/>
<rect x="407.7" y="440" width="4.30" height="40" fill="url(#g1)" opacity="0.387"/>
<rect x="416.3" y="255" width="4.30" height="70" fill="#fff" opacity="0.005"/>
<rect x="416.3" y="440" width="4.30" height="40" fill="url(#g1)" opacity="0.077"/>
<rect x="424.9" y="255" width="4.30" height="70" fill="#fff" opacity="0.013"/>
<rect x="424.9" y="440" width="4.30" height="40" fill="url(#g1)" opacity="0.202"/>
</g>
<g clip-path="url(#cb)" filter="url(#hot)">
<rect x="504.5" y="43.5" width="343.5" height="435.5"  fill="#777" filter="url(#nzb)"/>
<rect x="504.5" y="43.5" width="343.5" height="435.5"  fill="url(#tA)"/>
<rect x="504.5" y="43.5" width="343.5" height="435.5"  fill="url(#tB)"/>
<rect x="504.5" y="43.5" width="343.5" height="435.5"  fill="url(#tO)"/>
<rect x="504.5" y="440" width="343.5" height="40" fill="url(#g5)"/>
<rect x="504.5" y="43.5" width="4.59" height="435.5" fill="url(#g4)" opacity="0.175"/>
<rect x="508.8" y="43.5" width="4.59" height="435.5" fill="url(#g4)" opacity="0.155"/>
<rect x="513.1" y="43.5" width="4.59" height="435.5" fill="url(#g4)" opacity="0.158"/>
<rect x="517.4" y="43.5" width="4.59" height="435.5" fill="url(#g4)" opacity="0.276"/>
<rect x="521.7" y="43.5" width="4.59" height="435.5" fill="url(#g4)" opacity="0.022"/>
<rect x="522.3" y="43.5" width="3.01" height="435.5" fill="#000" opacity="0.032"/>
<rect x="526.0" y="43.5" width="4.59" height="435.5" fill="url(#g4)" opacity="0.024"/>
<rect x="526.6" y="43.5" width="3.01" height="435.5" fill="#000" opacity="0.056"/>
<rect x="530.3" y="43.5" width="4.59" height="435.5" fill="url(#g4)" opacity="0.242"/>
<rect x="534.6" y="43.5" width="4.59" height="435.5" fill="url(#g4)" opacity="0.263"/>
<rect x="538.9" y="43.5" width="4.59" height="435.5" fill="url(#g4)" opacity="0.296"/>
<rect x="543.1" y="43.5" width="4.59" height="435.5" fill="url(#g4)" opacity="0.021"/>
<rect x="543.7" y="43.5" width="3.01" height="435.5" fill="#000" opacity="0.050"/>
<rect x="547.4" y="43.5" width="4.59" height="435.5" fill="url(#g4)" opacity="0.137"/>
<rect x="551.7" y="43.5" width="4.59" height="435.5" fill="url(#g4)" opacity="0.180"/>
<rect x="556.0" y="43.5" width="4.59" height="435.5" fill="url(#g4)" opacity="0.162"/>
<rect x="560.3" y="43.5" width="4.59" height="435.5" fill="url(#g4)" opacity="0.275"/>
<rect x="564.6" y="43.5" width="4.59" height="435.5" fill="url(#g4)" opacity="0.019"/>
<rect x="565.2" y="43.5" width="3.01" height="435.5" fill="#000" opacity="0.064"/>
<rect x="568.9" y="43.5" width="4.59" height="435.5" fill="url(#g4)" opacity="0.023"/>
<rect x="569.5" y="43.5" width="3.01" height="435.5" fill="#000" opacity="0.030"/>
<rect x="573.2" y="43.5" width="4.59" height="435.5" fill="url(#g4)" opacity="0.020"/>
<rect x="573.8" y="43.5" width="3.01" height="435.5" fill="#000" opacity="0.069"/>
<rect x="577.5" y="43.5" width="4.59" height="435.5" fill="url(#g4)" opacity="0.316"/>
<rect x="581.8" y="43.5" width="4.59" height="435.5" fill="url(#g4)" opacity="0.250"/>
<rect x="586.1" y="43.5" width="4.59" height="435.5" fill="url(#g4)" opacity="0.017"/>
<rect x="586.7" y="43.5" width="3.01" height="435.5" fill="#000" opacity="0.040"/>
<rect x="590.4" y="43.5" width="4.59" height="435.5" fill="url(#g4)" opacity="0.336"/>
<rect x="594.7" y="43.5" width="4.59" height="435.5" fill="url(#g4)" opacity="0.147"/>
<rect x="599.0" y="43.5" width="4.59" height="435.5" fill="url(#g4)" opacity="0.017"/>
<rect x="599.6" y="43.5" width="3.01" height="435.5" fill="#000" opacity="0.056"/>
<rect x="603.3" y="43.5" width="4.59" height="435.5" fill="url(#g4)" opacity="0.133"/>
<rect x="607.5" y="43.5" width="4.59" height="435.5" fill="url(#g4)" opacity="0.022"/>
<rect x="608.1" y="43.5" width="3.01" height="435.5" fill="#000" opacity="0.042"/>
<rect x="611.8" y="43.5" width="4.59" height="435.5" fill="url(#g4)" opacity="0.018"/>
<rect x="612.4" y="43.5" width="3.01" height="435.5" fill="#000" opacity="0.046"/>
<rect x="616.1" y="43.5" width="4.59" height="435.5" fill="url(#g4)" opacity="0.021"/>
<rect x="616.7" y="43.5" width="3.01" height="435.5" fill="#000" opacity="0.034"/>
<rect x="620.4" y="43.5" width="4.59" height="435.5" fill="url(#g4)" opacity="0.018"/>
<rect x="621.0" y="43.5" width="3.01" height="435.5" fill="#000" opacity="0.040"/>
<rect x="624.7" y="43.5" width="4.59" height="435.5" fill="url(#g4)" opacity="0.276"/>
<rect x="629.0" y="43.5" width="4.59" height="435.5" fill="url(#g4)" opacity="0.310"/>
<rect x="633.3" y="43.5" width="4.59" height="435.5" fill="url(#g4)" opacity="0.142"/>
<rect x="637.6" y="43.5" width="4.59" height="435.5" fill="url(#g4)" opacity="0.020"/>
<rect x="638.2" y="43.5" width="3.01" height="435.5" fill="#000" opacity="0.053"/>
<rect x="641.9" y="43.5" width="4.59" height="435.5" fill="url(#g4)" opacity="0.017"/>
<rect x="642.5" y="43.5" width="3.01" height="435.5" fill="#000" opacity="0.036"/>
<rect x="646.2" y="43.5" width="4.59" height="435.5" fill="url(#g4)" opacity="0.023"/>
<rect x="646.8" y="43.5" width="3.01" height="435.5" fill="#000" opacity="0.040"/>
<rect x="650.5" y="43.5" width="4.59" height="435.5" fill="url(#g4)" opacity="0.024"/>
<rect x="651.1" y="43.5" width="3.01" height="435.5" fill="#000" opacity="0.038"/>
<rect x="654.8" y="43.5" width="4.59" height="435.5" fill="url(#g4)" opacity="0.023"/>
<rect x="655.4" y="43.5" width="3.01" height="435.5" fill="#000" opacity="0.054"/>
<rect x="659.1" y="43.5" width="4.59" height="435.5" fill="url(#g4)" opacity="0.245"/>
<rect x="663.4" y="43.5" width="4.59" height="435.5" fill="url(#g4)" opacity="0.269"/>
<rect x="667.7" y="43.5" width="4.59" height="435.5" fill="url(#g4)" opacity="0.339"/>
<rect x="672.0" y="43.5" width="4.59" height="435.5" fill="url(#g4)" opacity="0.261"/>
<rect x="676.2" y="43.5" width="4.59" height="435.5" fill="url(#g4)" opacity="0.267"/>
<rect x="680.5" y="43.5" width="4.59" height="435.5" fill="url(#g4)" opacity="0.021"/>
<rect x="681.1" y="43.5" width="3.01" height="435.5" fill="#000" opacity="0.041"/>
<rect x="684.8" y="43.5" width="4.59" height="435.5" fill="url(#g4)" opacity="0.018"/>
<rect x="685.4" y="43.5" width="3.01" height="435.5" fill="#000" opacity="0.031"/>
<rect x="689.1" y="43.5" width="4.59" height="435.5" fill="url(#g4)" opacity="0.124"/>
<rect x="693.4" y="43.5" width="4.59" height="435.5" fill="url(#g4)" opacity="0.309"/>
<rect x="697.7" y="43.5" width="4.59" height="435.5" fill="url(#g4)" opacity="0.347"/>
<rect x="702.0" y="43.5" width="4.59" height="435.5" fill="url(#g4)" opacity="0.319"/>
<rect x="706.3" y="43.5" width="4.59" height="435.5" fill="url(#g4)" opacity="0.128"/>
<rect x="710.6" y="43.5" width="4.59" height="435.5" fill="url(#g4)" opacity="0.349"/>
<rect x="714.9" y="43.5" width="4.59" height="435.5" fill="url(#g4)" opacity="0.158"/>
<rect x="719.2" y="43.5" width="4.59" height="435.5" fill="url(#g4)" opacity="0.180"/>
<rect x="723.5" y="43.5" width="4.59" height="435.5" fill="url(#g4)" opacity="0.164"/>
<rect x="727.8" y="43.5" width="4.59" height="435.5" fill="url(#g4)" opacity="0.164"/>
<rect x="732.1" y="43.5" width="4.59" height="435.5" fill="url(#g4)" opacity="0.023"/>
<rect x="732.7" y="43.5" width="3.01" height="435.5" fill="#000" opacity="0.044"/>
<rect x="736.4" y="43.5" width="4.59" height="435.5" fill="url(#g4)" opacity="0.023"/>
<rect x="737.0" y="43.5" width="3.01" height="435.5" fill="#000" opacity="0.047"/>
<rect x="740.7" y="43.5" width="4.59" height="435.5" fill="url(#g4)" opacity="0.021"/>
<rect x="741.3" y="43.5" width="3.01" height="435.5" fill="#000" opacity="0.055"/>
<rect x="745.0" y="43.5" width="4.59" height="435.5" fill="url(#g4)" opacity="0.157"/>
<rect x="749.2" y="43.5" width="4.59" height="435.5" fill="url(#g4)" opacity="0.180"/>
<rect x="753.5" y="43.5" width="4.59" height="435.5" fill="url(#g4)" opacity="0.164"/>
<rect x="757.8" y="43.5" width="4.59" height="435.5" fill="url(#g4)" opacity="0.020"/>
<rect x="758.4" y="43.5" width="3.01" height="435.5" fill="#000" opacity="0.064"/>
<rect x="762.1" y="43.5" width="4.59" height="435.5" fill="url(#g4)" opacity="0.156"/>
<rect x="766.4" y="43.5" width="4.59" height="435.5" fill="url(#g4)" opacity="0.324"/>
<rect x="770.7" y="43.5" width="4.59" height="435.5" fill="url(#g4)" opacity="0.175"/>
<rect x="775.0" y="43.5" width="4.59" height="435.5" fill="url(#g4)" opacity="0.276"/>
<rect x="779.3" y="43.5" width="4.59" height="435.5" fill="url(#g4)" opacity="0.260"/>
<rect x="783.6" y="43.5" width="4.59" height="435.5" fill="url(#g4)" opacity="0.319"/>
<rect x="787.9" y="43.5" width="4.59" height="435.5" fill="url(#g4)" opacity="0.019"/>
<rect x="788.5" y="43.5" width="3.01" height="435.5" fill="#000" opacity="0.057"/>
<rect x="792.2" y="43.5" width="4.59" height="435.5" fill="url(#g4)" opacity="0.168"/>
<rect x="796.5" y="43.5" width="4.59" height="435.5" fill="url(#g4)" opacity="0.173"/>
<rect x="800.8" y="43.5" width="4.59" height="435.5" fill="url(#g4)" opacity="0.139"/>
<rect x="805.1" y="43.5" width="4.59" height="435.5" fill="url(#g4)" opacity="0.170"/>
<rect x="809.4" y="43.5" width="4.59" height="435.5" fill="url(#g4)" opacity="0.163"/>
<rect x="813.7" y="43.5" width="4.59" height="435.5" fill="url(#g4)" opacity="0.137"/>
<rect x="817.9" y="43.5" width="4.59" height="435.5" fill="url(#g4)" opacity="0.137"/>
<rect x="822.2" y="43.5" width="4.59" height="435.5" fill="url(#g4)" opacity="0.158"/>
<rect x="826.5" y="43.5" width="4.59" height="435.5" fill="url(#g4)" opacity="0.341"/>
<rect x="830.8" y="43.5" width="4.59" height="435.5" fill="url(#g4)" opacity="0.294"/>
<rect x="835.1" y="43.5" width="4.59" height="435.5" fill="url(#g4)" opacity="0.345"/>
<rect x="839.4" y="43.5" width="4.59" height="435.5" fill="url(#g4)" opacity="0.154"/>
<rect x="843.7" y="43.5" width="4.59" height="435.5" fill="url(#g4)" opacity="0.128"/>
<rect x="490.0" y="43.5" width="5.7" height="121.5" fill="url(#g6)" opacity="0.148"/>
<rect x="534.4" y="43.5" width="7.5" height="121.5" fill="url(#g6)" opacity="0.134"/>
<rect x="578.8" y="43.5" width="5.9" height="121.5" fill="url(#g6)" opacity="0.155"/>
<rect x="623.1" y="43.5" width="8.2" height="121.5" fill="url(#g6)" opacity="0.136"/>
<rect x="667.5" y="43.5" width="7.0" height="121.5" fill="url(#g6)" opacity="0.117"/>
<rect x="711.8" y="43.5" width="5.0" height="121.5" fill="url(#g6)" opacity="0.126"/>
<rect x="756.1" y="43.5" width="7.3" height="121.5" fill="url(#g6)" opacity="0.105"/>
<rect x="800.5" y="43.5" width="8.2" height="121.5" fill="url(#g6)" opacity="0.116"/>
<rect x="844.8" y="43.5" width="5.9" height="121.5" fill="url(#g6)" opacity="0.103"/>
<rect x="889.2" y="43.5" width="9.0" height="121.5" fill="url(#g6)" opacity="0.152"/>
<polyline points="485.5,107.5 488.0,100.8 490.0,95.5 492.0,93.1 494.5,92.5 497.0,93.2 500.0,95.5 503.0,98.5 506.0,101.5 509.0,104.2 512.0,106.2 515.0,107.2 517.0,107.5 529.9,107.5 532.4,100.8 534.4,95.5 536.4,93.1 538.9,92.5 541.4,93.2 544.4,95.5 547.4,98.5 550.4,101.5 553.4,104.2 556.4,106.2 559.4,107.2 561.4,107.5 574.2,107.5 576.8,100.8 578.8,95.5 580.8,93.1 583.2,92.5 585.8,93.2 588.8,95.5 591.8,98.5 594.8,101.5 597.8,104.2 600.8,106.2 603.8,107.2 605.8,107.5 618.6,107.5 621.1,100.8 623.1,95.5 625.1,93.1 627.6,92.5 630.1,93.2 633.1,95.5 636.1,98.5 639.1,101.5 642.1,104.2 645.1,106.2 648.1,107.2 650.1,107.5 663.0,107.5 665.5,100.8 667.5,95.5 669.5,93.1 672.0,92.5 674.5,93.2 677.5,95.5 680.5,98.5 683.5,101.5 686.5,104.2 689.5,106.2 692.5,107.2 694.5,107.5 707.3,107.5 709.8,100.8 711.8,95.5 713.8,93.1 716.3,92.5 718.8,93.2 721.8,95.5 724.8,98.5 727.8,101.5 730.8,104.2 733.8,106.2 736.8,107.2 738.8,107.5 751.6,107.5 754.1,100.8 756.1,95.5 758.1,93.1 760.6,92.5 763.1,93.2 766.1,95.5 769.1,98.5 772.1,101.5 775.1,104.2 778.1,106.2 781.1,107.2 783.1,107.5 796.0,107.5 798.5,100.8 800.5,95.5 802.5,93.1 805.0,92.5 807.5,93.2 810.5,95.5 813.5,98.5 816.5,101.5 819.5,104.2 822.5,106.2 825.5,107.2 827.5,107.5 840.3,107.5 842.8,100.8 844.8,95.5 846.8,93.1 849.3,92.5 851.8,93.2 854.8,95.5 857.8,98.5 860.8,101.5 863.8,104.2 866.8,106.2 869.8,107.2 871.8,107.5 884.7,107.5 887.2,100.8 889.2,95.5 891.2,93.1 893.7,92.5 896.2,93.2 899.2,95.5 902.2,98.5 905.2,101.5 908.2,104.2 911.2,106.2 914.2,107.2 916.2,107.5" fill="none" stroke="#fff" stroke-width="10" stroke-linejoin="round" opacity="0.08"/>
<polyline points="485.5,111.5 488.0,104.8 490.0,99.5 492.0,97.1 494.5,96.5 497.0,97.2 500.0,99.5 503.0,102.5 506.0,105.5 509.0,108.2 512.0,110.2 515.0,111.2 517.0,111.5 529.9,111.5 532.4,104.8 534.4,99.5 536.4,97.1 538.9,96.5 541.4,97.2 544.4,99.5 547.4,102.5 550.4,105.5 553.4,108.2 556.4,110.2 559.4,111.2 561.4,111.5 574.2,111.5 576.8,104.8 578.8,99.5 580.8,97.1 583.2,96.5 585.8,97.2 588.8,99.5 591.8,102.5 594.8,105.5 597.8,108.2 600.8,110.2 603.8,111.2 605.8,111.5 618.6,111.5 621.1,104.8 623.1,99.5 625.1,97.1 627.6,96.5 630.1,97.2 633.1,99.5 636.1,102.5 639.1,105.5 642.1,108.2 645.1,110.2 648.1,111.2 650.1,111.5 663.0,111.5 665.5,104.8 667.5,99.5 669.5,97.1 672.0,96.5 674.5,97.2 677.5,99.5 680.5,102.5 683.5,105.5 686.5,108.2 689.5,110.2 692.5,111.2 694.5,111.5 707.3,111.5 709.8,104.8 711.8,99.5 713.8,97.1 716.3,96.5 718.8,97.2 721.8,99.5 724.8,102.5 727.8,105.5 730.8,108.2 733.8,110.2 736.8,111.2 738.8,111.5 751.6,111.5 754.1,104.8 756.1,99.5 758.1,97.1 760.6,96.5 763.1,97.2 766.1,99.5 769.1,102.5 772.1,105.5 775.1,108.2 778.1,110.2 781.1,111.2 783.1,111.5 796.0,111.5 798.5,104.8 800.5,99.5 802.5,97.1 805.0,96.5 807.5,97.2 810.5,99.5 813.5,102.5 816.5,105.5 819.5,108.2 822.5,110.2 825.5,111.2 827.5,111.5 840.3,111.5 842.8,104.8 844.8,99.5 846.8,97.1 849.3,96.5 851.8,97.2 854.8,99.5 857.8,102.5 860.8,105.5 863.8,108.2 866.8,110.2 869.8,111.2 871.8,111.5 884.7,111.5 887.2,104.8 889.2,99.5 891.2,97.1 893.7,96.5 896.2,97.2 899.2,99.5 902.2,102.5 905.2,105.5 908.2,108.2 911.2,110.2 914.2,111.2 916.2,111.5" fill="none" stroke="#fff" stroke-width="8" stroke-linejoin="round" opacity="0.06"/>
<polyline points="485.5,107.5 488.0,100.8 490.0,95.5 492.0,93.1 494.5,92.5 497.0,93.2 500.0,95.5 503.0,98.5 506.0,101.5 509.0,104.2 512.0,106.2 515.0,107.2 517.0,107.5 529.9,107.5 532.4,100.8 534.4,95.5 536.4,93.1 538.9,92.5 541.4,93.2 544.4,95.5 547.4,98.5 550.4,101.5 553.4,104.2 556.4,106.2 559.4,107.2 561.4,107.5 574.2,107.5 576.8,100.8 578.8,95.5 580.8,93.1 583.2,92.5 585.8,93.2 588.8,95.5 591.8,98.5 594.8,101.5 597.8,104.2 600.8,106.2 603.8,107.2 605.8,107.5 618.6,107.5 621.1,100.8 623.1,95.5 625.1,93.1 627.6,92.5 630.1,93.2 633.1,95.5 636.1,98.5 639.1,101.5 642.1,104.2 645.1,106.2 648.1,107.2 650.1,107.5 663.0,107.5 665.5,100.8 667.5,95.5 669.5,93.1 672.0,92.5 674.5,93.2 677.5,95.5 680.5,98.5 683.5,101.5 686.5,104.2 689.5,106.2 692.5,107.2 694.5,107.5 707.3,107.5 709.8,100.8 711.8,95.5 713.8,93.1 716.3,92.5 718.8,93.2 721.8,95.5 724.8,98.5 727.8,101.5 730.8,104.2 733.8,106.2 736.8,107.2 738.8,107.5 751.6,107.5 754.1,100.8 756.1,95.5 758.1,93.1 760.6,92.5 763.1,93.2 766.1,95.5 769.1,98.5 772.1,101.5 775.1,104.2 778.1,106.2 781.1,107.2 783.1,107.5 796.0,107.5 798.5,100.8 800.5,95.5 802.5,93.1 805.0,92.5 807.5,93.2 810.5,95.5 813.5,98.5 816.5,101.5 819.5,104.2 822.5,106.2 825.5,107.2 827.5,107.5 840.3,107.5 842.8,100.8 844.8,95.5 846.8,93.1 849.3,92.5 851.8,93.2 854.8,95.5 857.8,98.5 860.8,101.5 863.8,104.2 866.8,106.2 869.8,107.2 871.8,107.5 884.7,107.5 887.2,100.8 889.2,95.5 891.2,93.1 893.7,92.5 896.2,93.2 899.2,95.5 902.2,98.5 905.2,101.5 908.2,104.2 911.2,106.2 914.2,107.2 916.2,107.5" fill="none" stroke="#fff" stroke-width="5.5" stroke-linejoin="round" opacity="0.16"/>
<polyline points="485.5,107.5 488.0,100.8 490.0,95.5 492.0,93.1 494.5,92.5 497.0,93.2 500.0,95.5 503.0,98.5 506.0,101.5 509.0,104.2 512.0,106.2 515.0,107.2 517.0,107.5 529.9,107.5 532.4,100.8 534.4,95.5 536.4,93.1 538.9,92.5 541.4,93.2 544.4,95.5 547.4,98.5 550.4,101.5 553.4,104.2 556.4,106.2 559.4,107.2 561.4,107.5 574.2,107.5 576.8,100.8 578.8,95.5 580.8,93.1 583.2,92.5 585.8,93.2 588.8,95.5 591.8,98.5 594.8,101.5 597.8,104.2 600.8,106.2 603.8,107.2 605.8,107.5 618.6,107.5 621.1,100.8 623.1,95.5 625.1,93.1 627.6,92.5 630.1,93.2 633.1,95.5 636.1,98.5 639.1,101.5 642.1,104.2 645.1,106.2 648.1,107.2 650.1,107.5 663.0,107.5 665.5,100.8 667.5,95.5 669.5,93.1 672.0,92.5 674.5,93.2 677.5,95.5 680.5,98.5 683.5,101.5 686.5,104.2 689.5,106.2 692.5,107.2 694.5,107.5 707.3,107.5 709.8,100.8 711.8,95.5 713.8,93.1 716.3,92.5 718.8,93.2 721.8,95.5 724.8,98.5 727.8,101.5 730.8,104.2 733.8,106.2 736.8,107.2 738.8,107.5 751.6,107.5 754.1,100.8 756.1,95.5 758.1,93.1 760.6,92.5 763.1,93.2 766.1,95.5 769.1,98.5 772.1,101.5 775.1,104.2 778.1,106.2 781.1,107.2 783.1,107.5 796.0,107.5 798.5,100.8 800.5,95.5 802.5,93.1 805.0,92.5 807.5,93.2 810.5,95.5 813.5,98.5 816.5,101.5 819.5,104.2 822.5,106.2 825.5,107.2 827.5,107.5 840.3,107.5 842.8,100.8 844.8,95.5 846.8,93.1 849.3,92.5 851.8,93.2 854.8,95.5 857.8,98.5 860.8,101.5 863.8,104.2 866.8,106.2 869.8,107.2 871.8,107.5 884.7,107.5 887.2,100.8 889.2,95.5 891.2,93.1 893.7,92.5 896.2,93.2 899.2,95.5 902.2,98.5 905.2,101.5 908.2,104.2 911.2,106.2 914.2,107.2 916.2,107.5" fill="none" stroke="#fff" stroke-width="2.4" stroke-linejoin="round" opacity="0.22"/>
<rect x="504.5" y="245" width="343.5" height="91" fill="url(#g7)"/>
<rect x="508" y="222" width="6.0" height="138" fill="url(#g8)" opacity="0.16"/>
<rect x="520" y="222" width="10.0" height="138" fill="url(#g8)" opacity="0.16"/>
<rect x="547" y="222" width="13.0" height="138" fill="url(#g8)" opacity="0.16"/>
<rect x="566" y="222" width="11.0" height="138" fill="url(#g8)" opacity="0.16"/>
<rect x="583" y="222" width="15.0" height="138" fill="url(#g8)" opacity="0.16"/>
<rect x="620" y="222" width="12.0" height="138" fill="url(#g8)" opacity="0.16"/>
<rect x="641" y="222" width="17.0" height="138" fill="url(#g8)" opacity="0.16"/>
<rect x="692.6" y="222" width="15.0" height="138" fill="url(#g8)" opacity="0.16"/>
<rect x="718" y="222" width="19.6" height="138" fill="url(#g8)" opacity="0.16"/>
<rect x="744" y="222" width="15.0" height="138" fill="url(#g8)" opacity="0.16"/>
<rect x="780" y="222" width="7.0" height="138" fill="url(#g8)" opacity="0.16"/>
<rect x="795.5" y="222" width="8.5" height="138" fill="url(#g8)" opacity="0.16"/>
<rect x="823" y="222" width="13.0" height="138" fill="url(#g8)" opacity="0.16"/>
<rect x="535" y="222" width="3.0" height="138" fill="url(#g9)" opacity="0.09"/>
<rect x="561" y="222" width="2.5" height="138" fill="url(#g9)" opacity="0.09"/>
<rect x="577" y="222" width="2.5" height="138" fill="url(#g9)" opacity="0.09"/>
<rect x="601.5" y="222" width="3.5" height="138" fill="url(#g9)" opacity="0.09"/>
<rect x="615.5" y="222" width="2.5" height="138" fill="url(#g9)" opacity="0.09"/>
<rect x="632.6" y="222" width="3.4" height="138" fill="url(#g9)" opacity="0.09"/>
<rect x="660" y="222" width="3.7" height="138" fill="url(#g9)" opacity="0.09"/>
<rect x="675.5" y="222" width="2.5" height="138" fill="url(#g9)" opacity="0.09"/>
<rect x="688" y="222" width="3.5" height="138" fill="url(#g9)" opacity="0.09"/>
<rect x="708.7" y="222" width="4.3" height="138" fill="url(#g9)" opacity="0.09"/>
<rect x="739.7" y="222" width="2.8" height="138" fill="url(#g9)" opacity="0.09"/>
<rect x="761" y="222" width="3.0" height="138" fill="url(#g9)" opacity="0.09"/>
<rect x="774" y="222" width="4.0" height="138" fill="url(#g9)" opacity="0.09"/>
<rect x="789" y="222" width="3.0" height="138" fill="url(#g9)" opacity="0.09"/>
<rect x="806" y="222" width="2.5" height="138" fill="url(#g9)" opacity="0.09"/>
<rect x="819" y="222" width="2.5" height="138" fill="url(#g9)" opacity="0.09"/>
<rect x="838" y="222" width="3.0" height="138" fill="url(#g9)" opacity="0.09"/>
<polyline points="485.5,294.3 488.0,291.0 490.0,288.5 492.0,287.3 494.5,287.0 497.0,287.4 500.0,288.5 503.0,289.9 506.0,291.4 509.0,292.7 512.0,293.6 515.0,294.2 517.0,294.3 529.9,294.3 532.4,291.0 534.4,288.5 536.4,287.3 538.9,287.0 541.4,287.4 544.4,288.5 547.4,289.9 550.4,291.4 553.4,292.7 556.4,293.6 559.4,294.2 561.4,294.3 574.2,294.3 576.8,291.0 578.8,288.5 580.8,287.3 583.2,287.0 585.8,287.4 588.8,288.5 591.8,289.9 594.8,291.4 597.8,292.7 600.8,293.6 603.8,294.2 605.8,294.3 618.6,294.3 621.1,291.0 623.1,288.5 625.1,287.3 627.6,287.0 630.1,287.4 633.1,288.5 636.1,289.9 639.1,291.4 642.1,292.7 645.1,293.6 648.1,294.2 650.1,294.3 663.0,294.3 665.5,291.0 667.5,288.5 669.5,287.3 672.0,287.0 674.5,287.4 677.5,288.5 680.5,289.9 683.5,291.4 686.5,292.7 689.5,293.6 692.5,294.2 694.5,294.3 707.3,294.3 709.8,291.0 711.8,288.5 713.8,287.3 716.3,287.0 718.8,287.4 721.8,288.5 724.8,289.9 727.8,291.4 730.8,292.7 733.8,293.6 736.8,294.2 738.8,294.3 751.6,294.3 754.1,291.0 756.1,288.5 758.1,287.3 760.6,287.0 763.1,287.4 766.1,288.5 769.1,289.9 772.1,291.4 775.1,292.7 778.1,293.6 781.1,294.2 783.1,294.3 796.0,294.3 798.5,291.0 800.5,288.5 802.5,287.3 805.0,287.0 807.5,287.4 810.5,288.5 813.5,289.9 816.5,291.4 819.5,292.7 822.5,293.6 825.5,294.2 827.5,294.3 840.3,294.3 842.8,291.0 844.8,288.5 846.8,287.3 849.3,287.0 851.8,287.4 854.8,288.5 857.8,289.9 860.8,291.4 863.8,292.7 866.8,293.6 869.8,294.2 871.8,294.3 884.7,294.3 887.2,291.0 889.2,288.5 891.2,287.3 893.7,287.0 896.2,287.4 899.2,288.5 902.2,289.9 905.2,291.4 908.2,292.7 911.2,293.6 914.2,294.2 916.2,294.3" fill="none" stroke="#fff" stroke-width="5" stroke-linejoin="round" opacity="0.12"/>
<polyline points="485.5,294.3 488.0,291.0 490.0,288.5 492.0,287.3 494.5,287.0 497.0,287.4 500.0,288.5 503.0,289.9 506.0,291.4 509.0,292.7 512.0,293.6 515.0,294.2 517.0,294.3 529.9,294.3 532.4,291.0 534.4,288.5 536.4,287.3 538.9,287.0 541.4,287.4 544.4,288.5 547.4,289.9 550.4,291.4 553.4,292.7 556.4,293.6 559.4,294.2 561.4,294.3 574.2,294.3 576.8,291.0 578.8,288.5 580.8,287.3 583.2,287.0 585.8,287.4 588.8,288.5 591.8,289.9 594.8,291.4 597.8,292.7 600.8,293.6 603.8,294.2 605.8,294.3 618.6,294.3 621.1,291.0 623.1,288.5 625.1,287.3 627.6,287.0 630.1,287.4 633.1,288.5 636.1,289.9 639.1,291.4 642.1,292.7 645.1,293.6 648.1,294.2 650.1,294.3 663.0,294.3 665.5,291.0 667.5,288.5 669.5,287.3 672.0,287.0 674.5,287.4 677.5,288.5 680.5,289.9 683.5,291.4 686.5,292.7 689.5,293.6 692.5,294.2 694.5,294.3 707.3,294.3 709.8,291.0 711.8,288.5 713.8,287.3 716.3,287.0 718.8,287.4 721.8,288.5 724.8,289.9 727.8,291.4 730.8,292.7 733.8,293.6 736.8,294.2 738.8,294.3 751.6,294.3 754.1,291.0 756.1,288.5 758.1,287.3 760.6,287.0 763.1,287.4 766.1,288.5 769.1,289.9 772.1,291.4 775.1,292.7 778.1,293.6 781.1,294.2 783.1,294.3 796.0,294.3 798.5,291.0 800.5,288.5 802.5,287.3 805.0,287.0 807.5,287.4 810.5,288.5 813.5,289.9 816.5,291.4 819.5,292.7 822.5,293.6 825.5,294.2 827.5,294.3 840.3,294.3 842.8,291.0 844.8,288.5 846.8,287.3 849.3,287.0 851.8,287.4 854.8,288.5 857.8,289.9 860.8,291.4 863.8,292.7 866.8,293.6 869.8,294.2 871.8,294.3 884.7,294.3 887.2,291.0 889.2,288.5 891.2,287.3 893.7,287.0 896.2,287.4 899.2,288.5 902.2,289.9 905.2,291.4 908.2,292.7 911.2,293.6 914.2,294.2 916.2,294.3" fill="none" stroke="#fff" stroke-width="2.4" stroke-linejoin="round" opacity="0.42"/>
</g>
<g clip-path="url(#cc)" filter="url(#hot)">
<rect x="890.5" y="43.5" width="343.0" height="435.5"  fill="#777" filter="url(#nzc)"/>
<rect x="890.5" y="43.5" width="343.0" height="435.5"  fill="url(#tA)"/>
<rect x="890.5" y="43.5" width="343.0" height="435.5"  fill="url(#tB)"/>
<rect x="890.5" y="43.5" width="343.0" height="435.5"  fill="url(#tO)"/>
<rect x="890.5" y="154.2" width="343.0" height="1.3" fill="#fff" opacity="0.2"/>
<rect x="890.5" y="380" width="343.0" height="100" fill="url(#g11)"/>
<polygon points="892.7,285.0 892.0,330.0 891.2,400.0 890.5,479.0 890.5,480.0 905.0,480.0 905.0,479.0 904.3,400.0 903.5,330.0 902.8,285.0" fill="url(#g10)" opacity="0.55"/>
<polygon points="894.9,285.0 894.5,330.0 894.0,400.0 893.3,479.0 893.3,480.0 902.2,480.0 902.2,479.0 901.5,400.0 901.0,330.0 900.6,285.0" fill="url(#g10)" opacity="0.75"/>
<rect x="894.9" y="43.5" width="5.8" height="260" fill="#fff" opacity="0.025"/>
<polygon points="915.4,285.0 914.6,330.0 913.8,400.0 913.0,479.0 913.0,480.0 929.0,480.0 929.0,479.0 928.2,400.0 927.4,330.0 926.6,285.0" fill="url(#g10)" opacity="0.55"/>
<polygon points="917.8,285.0 917.4,330.0 916.8,400.0 916.0,479.0 916.0,480.0 926.0,480.0 926.0,479.0 925.2,400.0 924.6,330.0 924.2,285.0" fill="url(#g10)" opacity="0.75"/>
<rect x="917.8" y="43.5" width="6.4" height="260" fill="#fff" opacity="0.025"/>
<polygon points="934.5,285.0 933.7,330.0 932.9,400.0 932.0,479.0 932.0,480.0 949.0,480.0 949.0,479.0 948.1,400.0 947.3,330.0 946.5,285.0" fill="url(#g10)" opacity="0.55"/>
<polygon points="937.1,285.0 936.7,330.0 936.1,400.0 935.2,479.0 935.2,480.0 945.8,480.0 945.8,479.0 944.9,400.0 944.3,330.0 943.9,285.0" fill="url(#g10)" opacity="0.75"/>
<rect x="937.1" y="43.5" width="6.8" height="260" fill="#fff" opacity="0.025"/>
<polygon points="958.5,285.0 957.7,330.0 956.9,400.0 956.0,479.0 956.0,480.0 973.0,480.0 973.0,479.0 972.1,400.0 971.3,330.0 970.5,285.0" fill="url(#g10)" opacity="0.55"/>
<polygon points="961.1,285.0 960.7,330.0 960.1,400.0 959.2,479.0 959.2,480.0 969.8,480.0 969.8,479.0 968.9,400.0 968.3,330.0 967.9,285.0" fill="url(#g10)" opacity="0.75"/>
<rect x="961.1" y="43.5" width="6.8" height="260" fill="#fff" opacity="0.025"/>
<polygon points="979.5,285.0 978.6,330.0 977.8,400.0 977.0,479.0 977.0,480.0 993.5,480.0 993.5,479.0 992.7,400.0 991.9,330.0 991.0,285.0" fill="url(#g10)" opacity="0.55"/>
<polygon points="982.0,285.0 981.5,330.0 981.0,400.0 980.1,479.0 980.1,480.0 990.4,480.0 990.4,479.0 989.5,400.0 989.0,330.0 988.5,285.0" fill="url(#g10)" opacity="0.75"/>
<rect x="982.0" y="43.5" width="6.6" height="260" fill="#fff" opacity="0.025"/>
<polygon points="1002.4,285.0 1001.6,330.0 1000.8,400.0 1000.0,479.0 1000.0,480.0 1016.0,480.0 1016.0,479.0 1015.2,400.0 1014.4,330.0 1013.6,285.0" fill="url(#g10)" opacity="0.55"/>
<polygon points="1004.8,285.0 1004.4,330.0 1003.8,400.0 1003.0,479.0 1003.0,480.0 1013.0,480.0 1013.0,479.0 1012.2,400.0 1011.6,330.0 1011.2,285.0" fill="url(#g10)" opacity="0.75"/>
<rect x="1004.8" y="43.5" width="6.4" height="260" fill="#fff" opacity="0.025"/>
<polygon points="1023.5,285.0 1022.7,330.0 1021.9,400.0 1021.0,479.0 1021.0,480.0 1038.0,480.0 1038.0,479.0 1037.2,400.0 1036.3,330.0 1035.5,285.0" fill="url(#g10)" opacity="0.55"/>
<polygon points="1026.1,285.0 1025.7,330.0 1025.1,400.0 1024.2,479.0 1024.2,480.0 1034.8,480.0 1034.8,479.0 1033.9,400.0 1033.3,330.0 1032.9,285.0" fill="url(#g10)" opacity="0.75"/>
<rect x="1026.1" y="43.5" width="6.8" height="260" fill="#fff" opacity="0.025"/>
<polygon points="1047.5,285.0 1046.7,330.0 1045.8,400.0 1045.0,479.0 1045.0,480.0 1062.0,480.0 1062.0,479.0 1061.2,400.0 1060.3,330.0 1059.5,285.0" fill="url(#g10)" opacity="0.55"/>
<polygon points="1050.1,285.0 1049.7,330.0 1049.1,400.0 1048.2,479.0 1048.2,480.0 1058.8,480.0 1058.8,479.0 1057.9,400.0 1057.3,330.0 1056.9,285.0" fill="url(#g10)" opacity="0.75"/>
<rect x="1050.1" y="43.5" width="6.8" height="260" fill="#fff" opacity="0.025"/>
<polygon points="1067.5,285.0 1066.7,330.0 1065.8,400.0 1065.0,479.0 1065.0,480.0 1082.0,480.0 1082.0,479.0 1081.2,400.0 1080.3,330.0 1079.5,285.0" fill="url(#g10)" opacity="0.55"/>
<polygon points="1070.1,285.0 1069.7,330.0 1069.1,400.0 1068.2,479.0 1068.2,480.0 1078.8,480.0 1078.8,479.0 1077.9,400.0 1077.3,330.0 1076.9,285.0" fill="url(#g10)" opacity="0.75"/>
<rect x="1070.1" y="43.5" width="6.8" height="260" fill="#fff" opacity="0.025"/>
<polygon points="1090.2,285.0 1089.3,330.0 1088.4,400.0 1087.5,479.0 1087.5,480.0 1105.5,480.0 1105.5,479.0 1104.6,400.0 1103.7,330.0 1102.8,285.0" fill="url(#g10)" opacity="0.55"/>
<polygon points="1092.9,285.0 1092.5,330.0 1091.8,400.0 1090.9,479.0 1090.9,480.0 1102.1,480.0 1102.1,479.0 1101.2,400.0 1100.5,330.0 1100.1,285.0" fill="url(#g10)" opacity="0.75"/>
<rect x="1092.9" y="43.5" width="7.2" height="260" fill="#fff" opacity="0.025"/>
<polygon points="1110.5,285.0 1109.7,330.0 1108.8,400.0 1108.0,479.0 1108.0,480.0 1125.0,480.0 1125.0,479.0 1124.2,400.0 1123.3,330.0 1122.5,285.0" fill="url(#g10)" opacity="0.55"/>
<polygon points="1113.1,285.0 1112.7,330.0 1112.1,400.0 1111.2,479.0 1111.2,480.0 1121.8,480.0 1121.8,479.0 1120.9,400.0 1120.3,330.0 1119.9,285.0" fill="url(#g10)" opacity="0.75"/>
<rect x="1113.1" y="43.5" width="6.8" height="260" fill="#fff" opacity="0.025"/>
<polygon points="1133.7,285.0 1132.8,330.0 1131.9,400.0 1131.0,479.0 1131.0,480.0 1149.0,480.0 1149.0,479.0 1148.1,400.0 1147.2,330.0 1146.3,285.0" fill="url(#g10)" opacity="0.55"/>
<polygon points="1136.4,285.0 1136.0,330.0 1135.3,400.0 1134.4,479.0 1134.4,480.0 1145.6,480.0 1145.6,479.0 1144.7,400.0 1144.0,330.0 1143.6,285.0" fill="url(#g10)" opacity="0.75"/>
<rect x="1136.4" y="43.5" width="7.2" height="260" fill="#fff" opacity="0.025"/>
<polygon points="1154.5,285.0 1153.7,330.0 1152.8,400.0 1152.0,479.0 1152.0,480.0 1169.0,480.0 1169.0,479.0 1168.2,400.0 1167.3,330.0 1166.5,285.0" fill="url(#g10)" opacity="0.55"/>
<polygon points="1157.1,285.0 1156.7,330.0 1156.1,400.0 1155.2,479.0 1155.2,480.0 1165.8,480.0 1165.8,479.0 1164.9,400.0 1164.3,330.0 1163.9,285.0" fill="url(#g10)" opacity="0.75"/>
<rect x="1157.1" y="43.5" width="6.8" height="260" fill="#fff" opacity="0.025"/>
<polygon points="1178.5,285.0 1177.7,330.0 1176.8,400.0 1176.0,479.0 1176.0,480.0 1193.0,480.0 1193.0,479.0 1192.2,400.0 1191.3,330.0 1190.5,285.0" fill="url(#g10)" opacity="0.55"/>
<polygon points="1181.1,285.0 1180.7,330.0 1180.1,400.0 1179.2,479.0 1179.2,480.0 1189.8,480.0 1189.8,479.0 1188.9,400.0 1188.3,330.0 1187.9,285.0" fill="url(#g10)" opacity="0.75"/>
<rect x="1181.1" y="43.5" width="6.8" height="260" fill="#fff" opacity="0.025"/>
<polygon points="1199.4,285.0 1198.6,330.0 1197.8,400.0 1197.0,479.0 1197.0,480.0 1213.0,480.0 1213.0,479.0 1212.2,400.0 1211.4,330.0 1210.6,285.0" fill="url(#g10)" opacity="0.55"/>
<polygon points="1201.8,285.0 1201.4,330.0 1200.8,400.0 1200.0,479.0 1200.0,480.0 1210.0,480.0 1210.0,479.0 1209.2,400.0 1208.6,330.0 1208.2,285.0" fill="url(#g10)" opacity="0.75"/>
<rect x="1201.8" y="43.5" width="6.4" height="260" fill="#fff" opacity="0.025"/>
<polygon points="1222.0,285.0 1221.3,330.0 1220.7,400.0 1220.0,479.0 1220.0,480.0 1233.5,480.0 1233.5,479.0 1232.8,400.0 1232.2,330.0 1231.5,285.0" fill="url(#g10)" opacity="0.55"/>
<polygon points="1224.0,285.0 1223.7,330.0 1223.2,400.0 1222.6,479.0 1222.6,480.0 1230.9,480.0 1230.9,479.0 1230.3,400.0 1229.8,330.0 1229.5,285.0" fill="url(#g10)" opacity="0.75"/>
<rect x="1224.0" y="43.5" width="5.4" height="260" fill="#fff" opacity="0.025"/>
<rect x="903.0" y="291.6" width="18.5" height="2.2" fill="url(#hz)" opacity="0.375"/>
<rect x="921.0" y="270" width="6" height="23.5" fill="url(#g12)" opacity="0.390"/>
<rect x="927.0" y="258" width="1.6" height="35" fill="url(#g13)" opacity="0.240"/>
<rect x="946.3" y="291.6" width="18.5" height="2.2" fill="url(#hz)" opacity="0.325"/>
<rect x="964.3" y="270" width="6" height="23.5" fill="url(#g12)" opacity="0.338"/>
<rect x="970.3" y="258" width="1.6" height="35" fill="url(#g13)" opacity="0.208"/>
<rect x="989.6" y="291.6" width="18.5" height="2.2" fill="url(#hz)" opacity="0.300"/>
<rect x="1007.6" y="270" width="6" height="23.5" fill="url(#g12)" opacity="0.312"/>
<rect x="1013.6" y="258" width="1.6" height="35" fill="url(#g13)" opacity="0.192"/>
<rect x="1032.9" y="291.6" width="18.5" height="2.2" fill="url(#hz)" opacity="0.500"/>
<rect x="1050.9" y="270" width="6" height="23.5" fill="url(#g12)" opacity="0.520"/>
<rect x="1056.9" y="258" width="1.6" height="35" fill="url(#g13)" opacity="0.320"/>
<rect x="1076.2" y="291.6" width="18.5" height="2.2" fill="url(#hz)" opacity="0.400"/>
<rect x="1094.2" y="270" width="6" height="23.5" fill="url(#g12)" opacity="0.416"/>
<rect x="1100.2" y="258" width="1.6" height="35" fill="url(#g13)" opacity="0.256"/>
<rect x="1119.5" y="291.6" width="18.5" height="2.2" fill="url(#hz)" opacity="0.475"/>
<rect x="1137.5" y="270" width="6" height="23.5" fill="url(#g12)" opacity="0.494"/>
<rect x="1143.5" y="258" width="1.6" height="35" fill="url(#g13)" opacity="0.304"/>
<rect x="1162.8" y="291.6" width="18.5" height="2.2" fill="url(#hz)" opacity="0.500"/>
<rect x="1180.8" y="270" width="6" height="23.5" fill="url(#g12)" opacity="0.520"/>
<rect x="1186.8" y="258" width="1.6" height="35" fill="url(#g13)" opacity="0.320"/>
<rect x="1206.1" y="291.6" width="18.5" height="2.2" fill="url(#hz)" opacity="0.425"/>
<rect x="1224.1" y="270" width="6" height="23.5" fill="url(#g12)" opacity="0.442"/>
<rect x="1230.1" y="258" width="1.6" height="35" fill="url(#g13)" opacity="0.272"/>
</g>
<g shape-rendering="crispEdges">
<path d="M1372.5 43.5h22.5v4.3h-22.5zM1372.5 471.1h22.5v5.0h-22.5zM1429.4 182.3h11.5v5.0h-11.5zM1486.7 102.6h11.5v5.0h-11.5zM1532.5 371.5h11.5v5.0h-11.5zM1544.0 102.6h11.5v5.0h-11.5zM1555.4 172.3h11.5v5.0h-11.5zM1589.8 87.6h11.5v5.0h-11.5zM1601.3 47.8h11.5v5.0h-11.5zM1670.0 237.0h11.5v5.0h-11.5zM1681.5 301.8h11.5v5.0h-11.5z" fill="#ff1d00"/>
<path d="M1372.5 47.8h22.5v5.0h-22.5zM1417.9 242.0h11.5v5.0h-11.5zM1475.2 102.6h11.5v5.0h-11.5zM1521.1 47.8h11.5v5.0h-11.5zM1532.5 441.2h11.5v5.0h-11.5zM1578.4 162.3h11.5v5.0h-11.5zM1589.8 122.5h11.5v5.0h-11.5zM1635.7 57.8h11.5v5.0h-11.5zM1635.7 62.7h11.5v5.0h-11.5zM1670.0 286.8h11.5v5.0h-11.5zM1693.0 117.5h11.5v5.0h-11.5zM1704.4 212.1h11.6v5.0h-11.6z" fill="#ff2400"/>
<path d="M1372.5 52.8h22.5v5.0h-22.5zM1601.3 43.5h11.5v4.3h-11.5zM1670.0 446.2h11.5v5.0h-11.5z" fill="#ff0d00"/>
<path d="M1372.5 57.8h22.5v5.0h-22.5zM1372.5 237.0h22.5v5.0h-22.5zM1406.5 416.3h11.5v5.0h-11.5zM1475.2 446.2h11.5v5.0h-11.5zM1555.4 177.3h11.5v5.0h-11.5zM1566.9 102.6h11.5v5.0h-11.5zM1624.2 117.5h11.5v5.0h-11.5z" fill="#ff1a00"/>
<path d="M1372.5 62.7h22.5v5.0h-22.5zM1395.0 336.6h11.5v5.0h-11.5zM1395.0 431.3h11.5v5.0h-11.5zM1440.8 291.8h11.5v5.0h-11.5zM1475.2 172.3h11.5v5.0h-11.5zM1475.2 336.6h11.5v5.0h-11.5zM1475.2 426.3h11.5v5.0h-11.5zM1498.1 371.5h11.5v5.0h-11.5zM1509.6 227.1h11.5v5.0h-11.5zM1532.5 207.2h11.5v5.0h-11.5zM1532.5 242.0h11.5v5.0h-11.5zM1566.9 107.6h11.5v5.0h-11.5zM1578.4 331.7h11.5v5.0h-11.5zM1589.8 92.6h11.5v5.0h-11.5zM1612.7 192.2h11.5v5.0h-11.5zM1624.2 331.7h11.5v5.0h-11.5zM1635.7 67.7h11.5v5.0h-11.5zM1693.0 67.7h11.5v5.0h-11.5zM1704.4 157.4h11.6v5.0h-11.6z" fill="#ff2300"/>
<path d="M1372.5 67.7h22.5v5.0h-22.5zM1395.0 316.7h11.5v5.0h-11.5zM1395.0 456.2h11.5v5.0h-11.5zM1417.9 466.1h11.5v5.0h-11.5zM1532.5 436.2h11.5v5.0h-11.5zM1544.0 87.6h11.5v5.0h-11.5zM1612.7 296.8h11.5v5.0h-11.5zM1635.7 162.3h11.5v5.0h-11.5zM1693.0 242.0h11.5v5.0h-11.5zM1704.4 426.3h11.6v5.0h-11.6z" fill="#ff1e00"/>
<path d="M1372.5 72.7h22.5v5.0h-22.5zM1372.5 127.5h22.5v5.0h-22.5zM1372.5 202.2h22.5v5.0h-22.5zM1372.5 257.0h22.5v5.0h-22.5zM1372.5 266.9h22.5v5.0h-22.5zM1372.5 271.9h22.5v5.0h-22.5zM1406.5 47.8h11.5v5.0h-11.5zM1406.5 197.2h11.5v5.0h-11.5zM1417.9 62.7h11.5v5.0h-11.5zM1417.9 257.0h11.5v5.0h-11.5zM1417.9 266.9h11.5v5.0h-11.5zM1429.4 232.1h11.5v5.0h-11.5zM1452.3 157.4h11.5v5.0h-11.5zM1452.3 187.2h11.5v5.0h-11.5zM1475.2 67.7h11.5v5.0h-11.5zM1475.2 381.5h11.5v5.0h-11.5zM1486.7 326.7h11.5v5.0h-11.5zM1486.7 416.3h11.5v5.0h-11.5zM1498.1 47.8h11.5v5.0h-11.5zM1498.1 127.5h11.5v5.0h-11.5zM1498.1 132.5h11.5v5.0h-11.5zM1498.1 421.3h11.5v5.0h-11.5zM1509.6 67.7h11.5v5.0h-11.5zM1509.6 102.6h11.5v5.0h-11.5zM1521.1 127.5h11.5v5.0h-11.5zM1521.1 242.0h11.5v5.0h-11.5zM1544.0 376.5h11.5v5.0h-11.5zM1555.4 212.1h11.5v5.0h-11.5zM1555.4 257.0h11.5v5.0h-11.5zM1555.4 341.6h11.5v5.0h-11.5zM1555.4 426.3h11.5v5.0h-11.5zM1578.4 212.1h11.5v5.0h-11.5zM1589.8 247.0h11.5v5.0h-11.5zM1601.3 62.7h11.5v5.0h-11.5zM1601.3 266.9h11.5v5.0h-11.5zM1601.3 296.8h11.5v5.0h-11.5zM1658.6 87.6h11.5v5.0h-11.5zM1658.6 102.6h11.5v5.0h-11.5zM1658.6 117.5h11.5v5.0h-11.5zM1658.6 162.3h11.5v5.0h-11.5zM1681.5 77.7h11.5v5.0h-11.5zM1681.5 92.6h11.5v5.0h-11.5zM1681.5 102.6h11.5v5.0h-11.5zM1693.0 47.8h11.5v5.0h-11.5z" fill="#ff4100"/>
<path d="M1372.5 77.7h22.5v5.0h-22.5zM1372.5 177.3h22.5v5.0h-22.5zM1395.0 47.8h11.5v5.0h-11.5zM1406.5 162.3h11.5v5.0h-11.5zM1417.9 142.4h11.5v5.0h-11.5zM1429.4 92.6h11.5v5.0h-11.5zM1429.4 237.0h11.5v5.0h-11.5zM1429.4 271.9h11.5v5.0h-11.5zM1429.4 476.1h11.5v2.9h-11.5zM1475.2 371.5h11.5v5.0h-11.5zM1475.2 396.4h11.5v5.0h-11.5zM1475.2 471.1h11.5v5.0h-11.5zM1486.7 87.6h11.5v5.0h-11.5zM1486.7 401.4h11.5v5.0h-11.5zM1486.7 471.1h11.5v5.0h-11.5zM1498.1 152.4h11.5v5.0h-11.5zM1521.1 237.0h11.5v5.0h-11.5zM1521.1 371.5h11.5v5.0h-11.5zM1532.5 102.6h11.5v5.0h-11.5zM1532.5 351.6h11.5v5.0h-11.5zM1532.5 451.2h11.5v5.0h-11.5zM1544.0 456.2h11.5v5.0h-11.5zM1555.4 252.0h11.5v5.0h-11.5zM1555.4 261.9h11.5v5.0h-11.5zM1555.4 266.9h11.5v5.0h-11.5zM1566.9 72.7h11.5v5.0h-11.5zM1566.9 202.2h11.5v5.0h-11.5zM1566.9 257.0h11.5v5.0h-11.5zM1601.3 72.7h11.5v5.0h-11.5zM1624.2 182.3h11.5v5.0h-11.5zM1624.2 436.2h11.5v5.0h-11.5zM1635.7 306.8h11.5v5.0h-11.5zM1658.6 177.3h11.5v5.0h-11.5zM1670.0 82.7h11.5v5.0h-11.5zM1681.5 172.3h11.5v5.0h-11.5zM1693.0 87.6h11.5v5.0h-11.5zM1693.0 341.6h11.5v5.0h-11.5zM1693.0 346.6h11.5v5.0h-11.5zM1693.0 386.4h11.5v5.0h-11.5zM1704.4 67.7h11.6v5.0h-11.6zM1704.4 306.8h11.6v5.0h-11.6zM1704.4 436.2h11.6v5.0h-11.6z" fill="#ff4900"/>
<path d="M1372.5 82.7h22.5v5.0h-22.5zM1429.4 266.9h11.5v5.0h-11.5zM1440.8 192.2h11.5v5.0h-11.5zM1440.8 416.3h11.5v5.0h-11.5zM1475.2 57.8h11.5v5.0h-11.5zM1486.7 252.0h11.5v5.0h-11.5zM1498.1 187.2h11.5v5.0h-11.5zM1509.6 57.8h11.5v5.0h-11.5zM1532.5 336.6h11.5v5.0h-11.5zM1555.4 227.1h11.5v5.0h-11.5zM1566.9 366.5h11.5v5.0h-11.5zM1578.4 316.7h11.5v5.0h-11.5zM1601.3 331.7h11.5v5.0h-11.5zM1601.3 336.6h11.5v5.0h-11.5zM1612.7 132.5h11.5v5.0h-11.5zM1624.2 207.2h11.5v5.0h-11.5zM1658.6 152.4h11.5v5.0h-11.5zM1658.6 237.0h11.5v5.0h-11.5zM1658.6 261.9h11.5v5.0h-11.5zM1658.6 371.5h11.5v5.0h-11.5zM1670.0 92.6h11.5v5.0h-11.5zM1681.5 192.2h11.5v5.0h-11.5zM1693.0 142.4h11.5v5.0h-11.5zM1693.0 157.4h11.5v5.0h-11.5zM1693.0 276.9h11.5v5.0h-11.5zM1693.0 451.2h11.5v5.0h-11.5zM1704.4 471.1h11.6v5.0h-11.6z" fill="#ff4f00"/>
<path d="M1372.5 87.6h22.5v5.0h-22.5zM1372.5 167.3h22.5v5.0h-22.5zM1406.5 476.1h11.5v2.9h-11.5zM1429.4 276.9h11.5v5.0h-11.5zM1429.4 291.8h11.5v5.0h-11.5zM1440.8 122.5h11.5v5.0h-11.5zM1440.8 212.1h11.5v5.0h-11.5zM1440.8 227.1h11.5v5.0h-11.5zM1452.3 52.8h11.5v5.0h-11.5zM1452.3 87.6h11.5v5.0h-11.5zM1452.3 162.3h11.5v5.0h-11.5zM1452.3 182.3h11.5v5.0h-11.5zM1475.2 77.7h11.5v5.0h-11.5zM1475.2 237.0h11.5v5.0h-11.5zM1475.2 252.0h11.5v5.0h-11.5zM1486.7 441.2h11.5v5.0h-11.5zM1498.1 296.8h11.5v5.0h-11.5zM1498.1 366.5h11.5v5.0h-11.5zM1498.1 451.2h11.5v5.0h-11.5zM1509.6 87.6h11.5v5.0h-11.5zM1509.6 162.3h11.5v5.0h-11.5zM1509.6 276.9h11.5v5.0h-11.5zM1509.6 446.2h11.5v5.0h-11.5zM1521.1 167.3h11.5v5.0h-11.5zM1521.1 177.3h11.5v5.0h-11.5zM1532.5 227.1h11.5v5.0h-11.5zM1532.5 232.1h11.5v5.0h-11.5zM1544.0 271.9h11.5v5.0h-11.5zM1544.0 341.6h11.5v5.0h-11.5zM1544.0 371.5h11.5v5.0h-11.5zM1544.0 381.5h11.5v5.0h-11.5zM1544.0 441.2h11.5v5.0h-11.5zM1555.4 311.7h11.5v5.0h-11.5zM1555.4 326.7h11.5v5.0h-11.5zM1566.9 142.4h11.5v5.0h-11.5zM1578.4 132.5h11.5v5.0h-11.5zM1589.8 147.4h11.5v5.0h-11.5zM1589.8 192.2h11.5v5.0h-11.5zM1589.8 301.8h11.5v5.0h-11.5zM1612.7 72.7h11.5v5.0h-11.5zM1612.7 142.4h11.5v5.0h-11.5zM1612.7 371.5h11.5v5.0h-11.5zM1624.2 52.8h11.5v5.0h-11.5zM1624.2 371.5h11.5v5.0h-11.5zM1635.7 247.0h11.5v5.0h-11.5zM1658.6 57.8h11.5v5.0h-11.5zM1681.5 67.7h11.5v5.0h-11.5zM1681.5 281.9h11.5v5.0h-11.5zM1693.0 247.0h11.5v5.0h-11.5zM1693.0 446.2h11.5v5.0h-11.5zM1704.4 57.8h11.6v5.0h-11.6zM1704.4 237.0h11.6v5.0h-11.6z" fill="#ff3f00"/>
<path d="M1372.5 92.6h22.5v5.0h-22.5zM1395.0 286.8h11.5v5.0h-11.5zM1417.9 476.1h11.5v2.9h-11.5zM1532.5 217.1h11.5v5.0h-11.5zM1532.5 237.0h11.5v5.0h-11.5z" fill="#ff0900"/>
<path d="M1372.5 97.6h22.5v5.0h-22.5zM1406.5 451.2h11.5v5.0h-11.5zM1532.5 286.8h11.5v5.0h-11.5zM1544.0 296.8h11.5v5.0h-11.5zM1693.0 107.6h11.5v5.0h-11.5z" fill="#ff1000"/>
<path d="M1372.5 102.6h22.5v5.0h-22.5zM1395.0 252.0h11.5v5.0h-11.5zM1406.5 376.5h11.5v5.0h-11.5zM1429.4 197.2h11.5v5.0h-11.5zM1440.8 57.8h11.5v5.0h-11.5zM1475.2 132.5h11.5v5.0h-11.5zM1486.7 43.5h11.5v4.3h-11.5zM1486.7 431.3h11.5v5.0h-11.5zM1498.1 391.4h11.5v5.0h-11.5zM1498.1 441.2h11.5v5.0h-11.5zM1498.1 456.2h11.5v5.0h-11.5zM1509.6 391.4h11.5v5.0h-11.5zM1521.1 346.6h11.5v5.0h-11.5zM1521.1 361.5h11.5v5.0h-11.5zM1521.1 386.4h11.5v5.0h-11.5zM1544.0 306.8h11.5v5.0h-11.5zM1555.4 52.8h11.5v5.0h-11.5zM1555.4 187.2h11.5v5.0h-11.5zM1555.4 401.4h11.5v5.0h-11.5zM1566.9 286.8h11.5v5.0h-11.5zM1578.4 222.1h11.5v5.0h-11.5zM1601.3 167.3h11.5v5.0h-11.5zM1624.2 77.7h11.5v5.0h-11.5zM1670.0 326.7h11.5v5.0h-11.5zM1681.5 466.1h11.5v5.0h-11.5zM1693.0 102.6h11.5v5.0h-11.5zM1693.0 311.7h11.5v5.0h-11.5zM1693.0 366.5h11.5v5.0h-11.5zM1693.0 421.3h11.5v5.0h-11.5zM1693.0 431.3h11.5v5.0h-11.5zM1704.4 261.9h11.6v5.0h-11.6zM1704.4 346.6h11.6v5.0h-11.6z" fill="#ff2f00"/>
<path d="M1372.5 107.6h22.5v5.0h-22.5zM1372.5 157.4h22.5v5.0h-22.5zM1395.0 167.3h11.5v5.0h-11.5zM1395.0 426.3h11.5v5.0h-11.5zM1406.5 182.3h11.5v5.0h-11.5zM1406.5 461.1h11.5v5.0h-11.5zM1417.9 172.3h11.5v5.0h-11.5zM1417.9 177.3h11.5v5.0h-11.5zM1417.9 376.5h11.5v5.0h-11.5zM1429.4 147.4h11.5v5.0h-11.5zM1429.4 296.8h11.5v5.0h-11.5zM1452.3 77.7h11.5v5.0h-11.5zM1452.3 82.7h11.5v5.0h-11.5zM1475.2 43.5h11.5v4.3h-11.5zM1475.2 436.2h11.5v5.0h-11.5zM1486.7 107.6h11.5v5.0h-11.5zM1486.7 132.5h11.5v5.0h-11.5zM1486.7 142.4h11.5v5.0h-11.5zM1498.1 72.7h11.5v5.0h-11.5zM1498.1 311.7h11.5v5.0h-11.5zM1509.6 217.1h11.5v5.0h-11.5zM1521.1 77.7h11.5v5.0h-11.5zM1521.1 252.0h11.5v5.0h-11.5zM1532.5 311.7h11.5v5.0h-11.5zM1544.0 281.9h11.5v5.0h-11.5zM1555.4 406.4h11.5v5.0h-11.5zM1566.9 182.3h11.5v5.0h-11.5zM1578.4 67.7h11.5v5.0h-11.5zM1589.8 291.8h11.5v5.0h-11.5zM1612.7 67.7h11.5v5.0h-11.5zM1612.7 232.1h11.5v5.0h-11.5zM1624.2 127.5h11.5v5.0h-11.5zM1624.2 162.3h11.5v5.0h-11.5zM1624.2 197.2h11.5v5.0h-11.5zM1624.2 232.1h11.5v5.0h-11.5zM1624.2 341.6h11.5v5.0h-11.5zM1635.7 261.9h11.5v5.0h-11.5zM1670.0 192.2h11.5v5.0h-11.5zM1670.0 252.0h11.5v5.0h-11.5zM1681.5 197.2h11.5v5.0h-11.5zM1681.5 261.9h11.5v5.0h-11.5zM1681.5 421.3h11.5v5.0h-11.5zM1693.0 97.6h11.5v5.0h-11.5zM1693.0 261.9h11.5v5.0h-11.5zM1693.0 441.2h11.5v5.0h-11.5zM1693.0 456.2h11.5v5.0h-11.5zM1704.4 122.5h11.6v5.0h-11.6zM1704.4 271.9h11.6v5.0h-11.6zM1704.4 336.6h11.6v5.0h-11.6zM1704.4 421.3h11.6v5.0h-11.6z" fill="#ff3200"/>
<path d="M1372.5 112.5h22.5v5.0h-22.5zM1395.0 321.7h11.5v5.0h-11.5zM1395.0 376.5h11.5v5.0h-11.5zM1406.5 232.1h11.5v5.0h-11.5zM1406.5 301.8h11.5v5.0h-11.5zM1406.5 336.6h11.5v5.0h-11.5zM1417.9 192.2h11.5v5.0h-11.5zM1417.9 371.5h11.5v5.0h-11.5zM1475.2 281.9h11.5v5.0h-11.5zM1475.2 301.8h11.5v5.0h-11.5zM1475.2 316.7h11.5v5.0h-11.5zM1498.1 142.4h11.5v5.0h-11.5zM1521.1 87.6h11.5v5.0h-11.5zM1521.1 341.6h11.5v5.0h-11.5zM1532.5 271.9h11.5v5.0h-11.5zM1555.4 192.2h11.5v5.0h-11.5zM1578.4 227.1h11.5v5.0h-11.5zM1578.4 276.9h11.5v5.0h-11.5zM1589.8 261.9h11.5v5.0h-11.5zM1670.0 257.0h11.5v5.0h-11.5zM1670.0 281.9h11.5v5.0h-11.5zM1693.0 316.7h11.5v5.0h-11.5zM1704.4 356.6h11.6v5.0h-11.6zM1704.4 366.5h11.6v5.0h-11.6zM1704.4 381.5h11.6v5.0h-11.6zM1704.4 401.4h11.6v5.0h-11.6zM1704.4 416.3h11.6v5.0h-11.6z" fill="#ff2900"/>
<path d="M1372.5 117.5h22.5v5.0h-22.5zM1395.0 117.5h11.5v5.0h-11.5zM1395.0 261.9h11.5v5.0h-11.5zM1406.5 102.6h11.5v5.0h-11.5zM1417.9 182.3h11.5v5.0h-11.5zM1417.9 301.8h11.5v5.0h-11.5zM1429.4 127.5h11.5v5.0h-11.5zM1429.4 281.9h11.5v5.0h-11.5zM1440.8 162.3h11.5v5.0h-11.5zM1440.8 261.9h11.5v5.0h-11.5zM1475.2 117.5h11.5v5.0h-11.5zM1486.7 122.5h11.5v5.0h-11.5zM1486.7 167.3h11.5v5.0h-11.5zM1486.7 177.3h11.5v5.0h-11.5zM1498.1 62.7h11.5v5.0h-11.5zM1498.1 247.0h11.5v5.0h-11.5zM1498.1 426.3h11.5v5.0h-11.5zM1498.1 436.2h11.5v5.0h-11.5zM1509.6 421.3h11.5v5.0h-11.5zM1521.1 281.9h11.5v5.0h-11.5zM1521.1 416.3h11.5v5.0h-11.5zM1532.5 142.4h11.5v5.0h-11.5zM1532.5 252.0h11.5v5.0h-11.5zM1532.5 421.3h11.5v5.0h-11.5zM1544.0 72.7h11.5v5.0h-11.5zM1544.0 426.3h11.5v5.0h-11.5zM1555.4 132.5h11.5v5.0h-11.5zM1555.4 361.5h11.5v5.0h-11.5zM1566.9 232.1h11.5v5.0h-11.5zM1589.8 97.6h11.5v5.0h-11.5zM1589.8 167.3h11.5v5.0h-11.5zM1589.8 281.9h11.5v5.0h-11.5zM1624.2 227.1h11.5v5.0h-11.5zM1624.2 257.0h11.5v5.0h-11.5zM1624.2 386.4h11.5v5.0h-11.5zM1635.7 197.2h11.5v5.0h-11.5zM1635.7 266.9h11.5v5.0h-11.5zM1635.7 271.9h11.5v5.0h-11.5zM1670.0 77.7h11.5v5.0h-11.5zM1670.0 107.6h11.5v5.0h-11.5zM1670.0 232.1h11.5v5.0h-11.5zM1670.0 242.0h11.5v5.0h-11.5zM1670.0 271.9h11.5v5.0h-11.5zM1681.5 72.7h11.5v5.0h-11.5zM1681.5 82.7h11.5v5.0h-11.5zM1681.5 212.1h11.5v5.0h-11.5zM1681.5 411.3h11.5v5.0h-11.5zM1693.0 321.7h11.5v5.0h-11.5zM1704.4 266.9h11.6v5.0h-11.6z" fill="#ff3400"/>
<path d="M1372.5 122.5h22.5v5.0h-22.5zM1372.5 261.9h22.5v5.0h-22.5zM1372.5 356.6h22.5v5.0h-22.5zM1395.0 446.2h11.5v5.0h-11.5zM1406.5 261.9h11.5v5.0h-11.5zM1406.5 386.4h11.5v5.0h-11.5zM1440.8 92.6h11.5v5.0h-11.5zM1440.8 97.6h11.5v5.0h-11.5zM1440.8 112.5h11.5v5.0h-11.5zM1452.3 202.2h11.5v5.0h-11.5zM1475.2 182.3h11.5v5.0h-11.5zM1475.2 192.2h11.5v5.0h-11.5zM1475.2 266.9h11.5v5.0h-11.5zM1475.2 271.9h11.5v5.0h-11.5zM1498.1 306.8h11.5v5.0h-11.5zM1509.6 92.6h11.5v5.0h-11.5zM1509.6 127.5h11.5v5.0h-11.5zM1509.6 351.6h11.5v5.0h-11.5zM1544.0 177.3h11.5v5.0h-11.5zM1544.0 192.2h11.5v5.0h-11.5zM1555.4 142.4h11.5v5.0h-11.5zM1555.4 316.7h11.5v5.0h-11.5zM1555.4 441.2h11.5v5.0h-11.5zM1555.4 451.2h11.5v5.0h-11.5zM1555.4 456.2h11.5v5.0h-11.5zM1578.4 87.6h11.5v5.0h-11.5zM1578.4 127.5h11.5v5.0h-11.5zM1578.4 207.2h11.5v5.0h-11.5zM1578.4 306.8h11.5v5.0h-11.5zM1578.4 346.6h11.5v5.0h-11.5zM1589.8 306.8h11.5v5.0h-11.5zM1589.8 366.5h11.5v5.0h-11.5zM1601.3 252.0h11.5v5.0h-11.5zM1601.3 257.0h11.5v5.0h-11.5zM1612.7 227.1h11.5v5.0h-11.5zM1612.7 286.8h11.5v5.0h-11.5zM1635.7 107.6h11.5v5.0h-11.5zM1658.6 182.3h11.5v5.0h-11.5zM1658.6 406.4h11.5v5.0h-11.5zM1670.0 67.7h11.5v5.0h-11.5zM1670.0 187.2h11.5v5.0h-11.5zM1681.5 356.6h11.5v5.0h-11.5zM1704.4 82.7h11.6v5.0h-11.6zM1704.4 177.3h11.6v5.0h-11.6z" fill="#ff4200"/>
<path d="M1372.5 132.5h22.5v5.0h-22.5zM1372.5 441.2h22.5v5.0h-22.5zM1395.0 192.2h11.5v5.0h-11.5zM1395.0 411.3h11.5v5.0h-11.5zM1406.5 207.2h11.5v5.0h-11.5zM1429.4 102.6h11.5v5.0h-11.5zM1429.4 157.4h11.5v5.0h-11.5zM1440.8 107.6h11.5v5.0h-11.5zM1440.8 247.0h11.5v5.0h-11.5zM1452.3 142.4h11.5v5.0h-11.5zM1475.2 212.1h11.5v5.0h-11.5zM1475.2 331.7h11.5v5.0h-11.5zM1486.7 346.6h11.5v5.0h-11.5zM1486.7 436.2h11.5v5.0h-11.5zM1509.6 247.0h11.5v5.0h-11.5zM1509.6 461.1h11.5v5.0h-11.5zM1521.1 62.7h11.5v5.0h-11.5zM1532.5 137.4h11.5v5.0h-11.5zM1555.4 271.9h11.5v5.0h-11.5zM1555.4 336.6h11.5v5.0h-11.5zM1578.4 107.6h11.5v5.0h-11.5zM1589.8 43.5h11.5v4.3h-11.5zM1589.8 162.3h11.5v5.0h-11.5zM1601.3 77.7h11.5v5.0h-11.5zM1612.7 356.6h11.5v5.0h-11.5zM1612.7 361.5h11.5v5.0h-11.5zM1624.2 62.7h11.5v5.0h-11.5zM1635.7 137.4h11.5v5.0h-11.5zM1658.6 147.4h11.5v5.0h-11.5zM1658.6 157.4h11.5v5.0h-11.5zM1658.6 356.6h11.5v5.0h-11.5zM1670.0 47.8h11.5v5.0h-11.5zM1681.5 97.6h11.5v5.0h-11.5zM1693.0 82.7h11.5v5.0h-11.5zM1693.0 147.4h11.5v5.0h-11.5zM1704.4 72.7h11.6v5.0h-11.6z" fill="#ff4400"/>
<path d="M1372.5 137.4h22.5v5.0h-22.5zM1429.4 62.7h11.5v5.0h-11.5zM1440.8 356.6h11.5v5.0h-11.5zM1440.8 361.5h11.5v5.0h-11.5zM1440.8 436.2h11.5v5.0h-11.5zM1440.8 461.1h11.5v5.0h-11.5zM1463.8 107.6h11.5v5.0h-11.5zM1463.8 127.5h11.5v5.0h-11.5zM1498.1 207.2h11.5v5.0h-11.5zM1532.5 87.6h11.5v5.0h-11.5zM1532.5 92.6h11.5v5.0h-11.5zM1532.5 122.5h11.5v5.0h-11.5zM1555.4 87.6h11.5v5.0h-11.5zM1555.4 92.6h11.5v5.0h-11.5zM1555.4 222.1h11.5v5.0h-11.5zM1566.9 446.2h11.5v5.0h-11.5zM1578.4 416.3h11.5v5.0h-11.5zM1635.7 336.6h11.5v5.0h-11.5zM1647.1 47.8h11.5v5.0h-11.5zM1670.0 87.6h11.5v5.0h-11.5z" fill="#ff5800"/>
<path d="M1372.5 142.4h22.5v5.0h-22.5zM1372.5 197.2h22.5v5.0h-22.5zM1372.5 286.8h22.5v5.0h-22.5zM1372.5 296.8h22.5v5.0h-22.5zM1395.0 67.7h11.5v5.0h-11.5zM1395.0 72.7h11.5v5.0h-11.5zM1395.0 306.8h11.5v5.0h-11.5zM1395.0 326.7h11.5v5.0h-11.5zM1395.0 356.6h11.5v5.0h-11.5zM1395.0 361.5h11.5v5.0h-11.5zM1395.0 406.4h11.5v5.0h-11.5zM1406.5 242.0h11.5v5.0h-11.5zM1406.5 257.0h11.5v5.0h-11.5zM1417.9 207.2h11.5v5.0h-11.5zM1429.4 177.3h11.5v5.0h-11.5zM1475.2 386.4h11.5v5.0h-11.5zM1475.2 391.4h11.5v5.0h-11.5zM1475.2 476.1h11.5v2.9h-11.5zM1498.1 217.1h11.5v5.0h-11.5zM1498.1 346.6h11.5v5.0h-11.5zM1509.6 52.8h11.5v5.0h-11.5zM1509.6 77.7h11.5v5.0h-11.5zM1509.6 132.5h11.5v5.0h-11.5zM1509.6 261.9h11.5v5.0h-11.5zM1509.6 376.5h11.5v5.0h-11.5zM1521.1 72.7h11.5v5.0h-11.5zM1521.1 222.1h11.5v5.0h-11.5zM1532.5 331.7h11.5v5.0h-11.5zM1544.0 137.4h11.5v5.0h-11.5zM1544.0 446.2h11.5v5.0h-11.5zM1566.9 331.7h11.5v5.0h-11.5zM1578.4 202.2h11.5v5.0h-11.5zM1589.8 451.2h11.5v5.0h-11.5zM1601.3 192.2h11.5v5.0h-11.5zM1601.3 381.5h11.5v5.0h-11.5zM1612.7 182.3h11.5v5.0h-11.5zM1612.7 441.2h11.5v5.0h-11.5zM1624.2 97.6h11.5v5.0h-11.5zM1658.6 82.7h11.5v5.0h-11.5zM1658.6 416.3h11.5v5.0h-11.5zM1670.0 147.4h11.5v5.0h-11.5zM1670.0 167.3h11.5v5.0h-11.5zM1681.5 162.3h11.5v5.0h-11.5zM1681.5 276.9h11.5v5.0h-11.5zM1681.5 291.8h11.5v5.0h-11.5zM1681.5 346.6h11.5v5.0h-11.5zM1681.5 446.2h11.5v5.0h-11.5zM1704.4 77.7h11.6v5.0h-11.6zM1704.4 127.5h11.6v5.0h-11.6z" fill="#ff4500"/>
<path d="M1372.5 147.4h22.5v5.0h-22.5zM1372.5 152.4h22.5v5.0h-22.5zM1372.5 252.0h22.5v5.0h-22.5zM1395.0 257.0h11.5v5.0h-11.5zM1406.5 331.7h11.5v5.0h-11.5zM1406.5 346.6h11.5v5.0h-11.5zM1417.9 316.7h11.5v5.0h-11.5zM1417.9 341.6h11.5v5.0h-11.5zM1429.4 107.6h11.5v5.0h-11.5zM1440.8 266.9h11.5v5.0h-11.5zM1475.2 157.4h11.5v5.0h-11.5zM1475.2 376.5h11.5v5.0h-11.5zM1475.2 461.1h11.5v5.0h-11.5zM1486.7 182.3h11.5v5.0h-11.5zM1486.7 192.2h11.5v5.0h-11.5zM1509.6 47.8h11.5v5.0h-11.5zM1509.6 331.7h11.5v5.0h-11.5zM1509.6 401.4h11.5v5.0h-11.5zM1521.1 107.6h11.5v5.0h-11.5zM1532.5 197.2h11.5v5.0h-11.5zM1532.5 381.5h11.5v5.0h-11.5zM1532.5 386.4h11.5v5.0h-11.5zM1544.0 82.7h11.5v5.0h-11.5zM1544.0 421.3h11.5v5.0h-11.5zM1555.4 296.8h11.5v5.0h-11.5zM1578.4 341.6h11.5v5.0h-11.5zM1601.3 127.5h11.5v5.0h-11.5zM1612.7 212.1h11.5v5.0h-11.5zM1612.7 237.0h11.5v5.0h-11.5zM1612.7 351.6h11.5v5.0h-11.5zM1670.0 266.9h11.5v5.0h-11.5zM1670.0 396.4h11.5v5.0h-11.5zM1681.5 326.7h11.5v5.0h-11.5zM1681.5 431.3h11.5v5.0h-11.5zM1704.4 247.0h11.6v5.0h-11.6zM1704.4 396.4h11.6v5.0h-11.6z" fill="#ff3700"/>
<path d="M1372.5 162.3h22.5v5.0h-22.5zM1395.0 112.5h11.5v5.0h-11.5zM1395.0 266.9h11.5v5.0h-11.5zM1417.9 222.1h11.5v5.0h-11.5zM1417.9 237.0h11.5v5.0h-11.5zM1429.4 43.5h11.5v4.3h-11.5zM1452.3 222.1h11.5v5.0h-11.5zM1475.2 97.6h11.5v5.0h-11.5zM1475.2 122.5h11.5v5.0h-11.5zM1486.7 147.4h11.5v5.0h-11.5zM1486.7 371.5h11.5v5.0h-11.5zM1498.1 117.5h11.5v5.0h-11.5zM1498.1 316.7h11.5v5.0h-11.5zM1509.6 107.6h11.5v5.0h-11.5zM1521.1 182.3h11.5v5.0h-11.5zM1521.1 301.8h11.5v5.0h-11.5zM1532.5 326.7h11.5v5.0h-11.5zM1544.0 237.0h11.5v5.0h-11.5zM1555.4 77.7h11.5v5.0h-11.5zM1555.4 291.8h11.5v5.0h-11.5zM1566.9 291.8h11.5v5.0h-11.5zM1566.9 301.8h11.5v5.0h-11.5zM1589.8 77.7h11.5v5.0h-11.5zM1589.8 132.5h11.5v5.0h-11.5zM1589.8 202.2h11.5v5.0h-11.5zM1589.8 361.5h11.5v5.0h-11.5zM1601.3 291.8h11.5v5.0h-11.5zM1635.7 122.5h11.5v5.0h-11.5zM1635.7 152.4h11.5v5.0h-11.5zM1635.7 401.4h11.5v5.0h-11.5zM1658.6 52.8h11.5v5.0h-11.5zM1658.6 401.4h11.5v5.0h-11.5zM1670.0 102.6h11.5v5.0h-11.5zM1670.0 316.7h11.5v5.0h-11.5zM1681.5 182.3h11.5v5.0h-11.5zM1681.5 336.6h11.5v5.0h-11.5z" fill="#ff3500"/>
<path d="M1372.5 172.3h22.5v5.0h-22.5zM1372.5 227.1h22.5v5.0h-22.5zM1395.0 217.1h11.5v5.0h-11.5zM1406.5 252.0h11.5v5.0h-11.5zM1406.5 276.9h11.5v5.0h-11.5zM1440.8 331.7h11.5v5.0h-11.5zM1440.8 411.3h11.5v5.0h-11.5zM1452.3 266.9h11.5v5.0h-11.5zM1452.3 296.8h11.5v5.0h-11.5zM1463.8 52.8h11.5v5.0h-11.5zM1463.8 102.6h11.5v5.0h-11.5zM1486.7 227.1h11.5v5.0h-11.5zM1521.1 266.9h11.5v5.0h-11.5zM1544.0 122.5h11.5v5.0h-11.5zM1544.0 202.2h11.5v5.0h-11.5zM1566.9 57.8h11.5v5.0h-11.5zM1566.9 351.6h11.5v5.0h-11.5zM1589.8 431.3h11.5v5.0h-11.5zM1601.3 431.3h11.5v5.0h-11.5zM1601.3 451.2h11.5v5.0h-11.5zM1601.3 461.1h11.5v5.0h-11.5zM1612.7 451.2h11.5v5.0h-11.5zM1612.7 456.2h11.5v5.0h-11.5zM1635.7 446.2h11.5v5.0h-11.5zM1658.6 252.0h11.5v5.0h-11.5zM1658.6 311.7h11.5v5.0h-11.5zM1658.6 346.6h11.5v5.0h-11.5zM1658.6 476.1h11.5v2.9h-11.5zM1681.5 396.4h11.5v5.0h-11.5z" fill="#ff5600"/>
<path d="M1372.5 182.3h22.5v5.0h-22.5zM1372.5 376.5h22.5v5.0h-22.5zM1395.0 157.4h11.5v5.0h-11.5zM1406.5 471.1h11.5v5.0h-11.5zM1417.9 252.0h11.5v5.0h-11.5zM1417.9 361.5h11.5v5.0h-11.5zM1417.9 446.2h11.5v5.0h-11.5zM1463.8 67.7h11.5v5.0h-11.5zM1498.1 52.8h11.5v5.0h-11.5zM1509.6 62.7h11.5v5.0h-11.5zM1509.6 82.7h11.5v5.0h-11.5zM1509.6 142.4h11.5v5.0h-11.5zM1509.6 356.6h11.5v5.0h-11.5zM1509.6 416.3h11.5v5.0h-11.5zM1521.1 232.1h11.5v5.0h-11.5zM1555.4 232.1h11.5v5.0h-11.5zM1566.9 172.3h11.5v5.0h-11.5zM1566.9 227.1h11.5v5.0h-11.5zM1578.4 102.6h11.5v5.0h-11.5zM1589.8 252.0h11.5v5.0h-11.5zM1601.3 82.7h11.5v5.0h-11.5zM1601.3 207.2h11.5v5.0h-11.5zM1612.7 57.8h11.5v5.0h-11.5zM1612.7 152.4h11.5v5.0h-11.5zM1658.6 97.6h11.5v5.0h-11.5zM1658.6 222.1h11.5v5.0h-11.5zM1658.6 257.0h11.5v5.0h-11.5zM1670.0 137.4h11.5v5.0h-11.5zM1704.4 187.2h11.6v5.0h-11.6zM1704.4 286.8h11.6v5.0h-11.6z" fill="#ff4800"/>
<path d="M1372.5 187.2h22.5v5.0h-22.5zM1395.0 197.2h11.5v5.0h-11.5zM1395.0 386.4h11.5v5.0h-11.5zM1417.9 67.7h11.5v5.0h-11.5zM1417.9 431.3h11.5v5.0h-11.5zM1429.4 67.7h11.5v5.0h-11.5zM1429.4 167.3h11.5v5.0h-11.5zM1429.4 471.1h11.5v5.0h-11.5zM1440.8 197.2h11.5v5.0h-11.5zM1440.8 306.8h11.5v5.0h-11.5zM1463.8 57.8h11.5v5.0h-11.5zM1463.8 461.1h11.5v5.0h-11.5zM1486.7 242.0h11.5v5.0h-11.5zM1486.7 361.5h11.5v5.0h-11.5zM1486.7 421.3h11.5v5.0h-11.5zM1498.1 97.6h11.5v5.0h-11.5zM1498.1 401.4h11.5v5.0h-11.5zM1509.6 97.6h11.5v5.0h-11.5zM1521.1 436.2h11.5v5.0h-11.5zM1544.0 451.2h11.5v5.0h-11.5zM1566.9 306.8h11.5v5.0h-11.5zM1566.9 421.3h11.5v5.0h-11.5zM1566.9 426.3h11.5v5.0h-11.5zM1566.9 436.2h11.5v5.0h-11.5zM1589.8 351.6h11.5v5.0h-11.5zM1589.8 456.2h11.5v5.0h-11.5zM1601.3 326.7h11.5v5.0h-11.5zM1601.3 341.6h11.5v5.0h-11.5zM1601.3 426.3h11.5v5.0h-11.5zM1612.7 252.0h11.5v5.0h-11.5zM1624.2 356.6h11.5v5.0h-11.5zM1635.7 252.0h11.5v5.0h-11.5zM1635.7 431.3h11.5v5.0h-11.5zM1635.7 471.1h11.5v5.0h-11.5zM1635.7 476.1h11.5v2.9h-11.5zM1658.6 192.2h11.5v5.0h-11.5zM1658.6 242.0h11.5v5.0h-11.5zM1681.5 112.5h11.5v5.0h-11.5zM1693.0 162.3h11.5v5.0h-11.5zM1704.4 87.6h11.6v5.0h-11.6zM1704.4 132.5h11.6v5.0h-11.6z" fill="#ff5100"/>
<path d="M1372.5 192.2h22.5v5.0h-22.5zM1395.0 147.4h11.5v5.0h-11.5zM1417.9 117.5h11.5v5.0h-11.5zM1417.9 436.2h11.5v5.0h-11.5zM1429.4 306.8h11.5v5.0h-11.5zM1429.4 441.2h11.5v5.0h-11.5zM1440.8 346.6h11.5v5.0h-11.5zM1440.8 351.6h11.5v5.0h-11.5zM1440.8 366.5h11.5v5.0h-11.5zM1440.8 371.5h11.5v5.0h-11.5zM1452.3 132.5h11.5v5.0h-11.5zM1452.3 281.9h11.5v5.0h-11.5zM1452.3 421.3h11.5v5.0h-11.5zM1452.3 446.2h11.5v5.0h-11.5zM1463.8 471.1h11.5v5.0h-11.5zM1475.2 406.4h11.5v5.0h-11.5zM1521.1 271.9h11.5v5.0h-11.5zM1566.9 152.4h11.5v5.0h-11.5zM1566.9 321.7h11.5v5.0h-11.5zM1566.9 381.5h11.5v5.0h-11.5zM1589.8 421.3h11.5v5.0h-11.5zM1589.8 461.1h11.5v5.0h-11.5zM1601.3 466.1h11.5v5.0h-11.5zM1635.7 371.5h11.5v5.0h-11.5zM1647.1 411.3h11.5v5.0h-11.5zM1647.1 476.1h11.5v2.9h-11.5zM1658.6 227.1h11.5v5.0h-11.5z" fill="#ff5a00"/>
<path d="M1372.5 207.2h22.5v5.0h-22.5zM1372.5 436.2h22.5v5.0h-22.5zM1406.5 62.7h11.5v5.0h-11.5zM1406.5 72.7h11.5v5.0h-11.5zM1406.5 167.3h11.5v5.0h-11.5zM1417.9 356.6h11.5v5.0h-11.5zM1429.4 217.1h11.5v5.0h-11.5zM1429.4 341.6h11.5v5.0h-11.5zM1429.4 351.6h11.5v5.0h-11.5zM1452.3 43.5h11.5v4.3h-11.5zM1463.8 77.7h11.5v5.0h-11.5zM1475.2 366.5h11.5v5.0h-11.5zM1475.2 401.4h11.5v5.0h-11.5zM1486.7 232.1h11.5v5.0h-11.5zM1486.7 247.0h11.5v5.0h-11.5zM1498.1 301.8h11.5v5.0h-11.5zM1532.5 127.5h11.5v5.0h-11.5zM1532.5 356.6h11.5v5.0h-11.5zM1555.4 301.8h11.5v5.0h-11.5zM1555.4 306.8h11.5v5.0h-11.5zM1566.9 431.3h11.5v5.0h-11.5zM1589.8 441.2h11.5v5.0h-11.5zM1601.3 436.2h11.5v5.0h-11.5zM1601.3 441.2h11.5v5.0h-11.5zM1612.7 162.3h11.5v5.0h-11.5zM1612.7 421.3h11.5v5.0h-11.5zM1624.2 92.6h11.5v5.0h-11.5zM1624.2 212.1h11.5v5.0h-11.5zM1647.1 87.6h11.5v5.0h-11.5zM1647.1 92.6h11.5v5.0h-11.5zM1658.6 167.3h11.5v5.0h-11.5zM1658.6 187.2h11.5v5.0h-11.5zM1670.0 62.7h11.5v5.0h-11.5zM1670.0 416.3h11.5v5.0h-11.5zM1681.5 266.9h11.5v5.0h-11.5zM1693.0 152.4h11.5v5.0h-11.5zM1693.0 406.4h11.5v5.0h-11.5z" fill="#ff5200"/>
<path d="M1372.5 212.1h22.5v5.0h-22.5zM1372.5 242.0h22.5v5.0h-22.5zM1372.5 247.0h22.5v5.0h-22.5zM1372.5 341.6h22.5v5.0h-22.5zM1395.0 451.2h11.5v5.0h-11.5zM1406.5 227.1h11.5v5.0h-11.5zM1406.5 321.7h11.5v5.0h-11.5zM1417.9 197.2h11.5v5.0h-11.5zM1429.4 47.8h11.5v5.0h-11.5zM1475.2 431.3h11.5v5.0h-11.5zM1486.7 72.7h11.5v5.0h-11.5zM1486.7 296.8h11.5v5.0h-11.5zM1486.7 376.5h11.5v5.0h-11.5zM1486.7 391.4h11.5v5.0h-11.5zM1509.6 212.1h11.5v5.0h-11.5zM1509.6 237.0h11.5v5.0h-11.5zM1509.6 466.1h11.5v5.0h-11.5zM1521.1 52.8h11.5v5.0h-11.5zM1521.1 296.8h11.5v5.0h-11.5zM1532.5 147.4h11.5v5.0h-11.5zM1532.5 212.1h11.5v5.0h-11.5zM1544.0 212.1h11.5v5.0h-11.5zM1544.0 247.0h11.5v5.0h-11.5zM1544.0 471.1h11.5v5.0h-11.5zM1555.4 202.2h11.5v5.0h-11.5zM1555.4 386.4h11.5v5.0h-11.5zM1578.4 192.2h11.5v5.0h-11.5zM1578.4 361.5h11.5v5.0h-11.5zM1578.4 381.5h11.5v5.0h-11.5zM1601.3 237.0h11.5v5.0h-11.5zM1601.3 371.5h11.5v5.0h-11.5zM1612.7 207.2h11.5v5.0h-11.5zM1612.7 291.8h11.5v5.0h-11.5zM1624.2 72.7h11.5v5.0h-11.5zM1624.2 167.3h11.5v5.0h-11.5zM1624.2 237.0h11.5v5.0h-11.5zM1635.7 82.7h11.5v5.0h-11.5zM1635.7 112.5h11.5v5.0h-11.5zM1681.5 137.4h11.5v5.0h-11.5zM1693.0 43.5h11.5v4.3h-11.5zM1693.0 461.1h11.5v5.0h-11.5zM1693.0 471.1h11.5v5.0h-11.5zM1704.4 276.9h11.6v5.0h-11.6z" fill="#ff3300"/>
<path d="M1372.5 217.1h22.5v5.0h-22.5zM1566.9 376.5h11.5v5.0h-11.5z" fill="#f60000"/>
<path d="M1372.5 222.1h22.5v5.0h-22.5zM1372.5 461.1h22.5v5.0h-22.5zM1395.0 102.6h11.5v5.0h-11.5zM1395.0 466.1h11.5v5.0h-11.5zM1417.9 52.8h11.5v5.0h-11.5zM1417.9 77.7h11.5v5.0h-11.5zM1429.4 336.6h11.5v5.0h-11.5zM1429.4 416.3h11.5v5.0h-11.5zM1452.3 271.9h11.5v5.0h-11.5zM1463.8 72.7h11.5v5.0h-11.5zM1463.8 426.3h11.5v5.0h-11.5zM1475.2 202.2h11.5v5.0h-11.5zM1486.7 237.0h11.5v5.0h-11.5zM1498.1 177.3h11.5v5.0h-11.5zM1498.1 476.1h11.5v2.9h-11.5zM1509.6 371.5h11.5v5.0h-11.5zM1521.1 112.5h11.5v5.0h-11.5zM1521.1 261.9h11.5v5.0h-11.5zM1532.5 57.8h11.5v5.0h-11.5zM1532.5 62.7h11.5v5.0h-11.5zM1544.0 127.5h11.5v5.0h-11.5zM1544.0 157.4h11.5v5.0h-11.5zM1544.0 172.3h11.5v5.0h-11.5zM1544.0 187.2h11.5v5.0h-11.5zM1555.4 237.0h11.5v5.0h-11.5zM1566.9 441.2h11.5v5.0h-11.5zM1578.4 97.6h11.5v5.0h-11.5zM1578.4 257.0h11.5v5.0h-11.5zM1589.8 436.2h11.5v5.0h-11.5zM1612.7 276.9h11.5v5.0h-11.5zM1612.7 336.6h11.5v5.0h-11.5zM1624.2 172.3h11.5v5.0h-11.5zM1624.2 187.2h11.5v5.0h-11.5zM1624.2 426.3h11.5v5.0h-11.5zM1635.7 451.2h11.5v5.0h-11.5zM1670.0 346.6h11.5v5.0h-11.5zM1693.0 137.4h11.5v5.0h-11.5zM1704.4 167.3h11.6v5.0h-11.6z" fill="#ff4d00"/>
<path d="M1372.5 232.1h22.5v5.0h-22.5zM1372.5 306.8h22.5v5.0h-22.5zM1395.0 247.0h11.5v5.0h-11.5zM1395.0 291.8h11.5v5.0h-11.5zM1406.5 97.6h11.5v5.0h-11.5zM1406.5 222.1h11.5v5.0h-11.5zM1406.5 326.7h11.5v5.0h-11.5zM1417.9 43.5h11.5v4.3h-11.5zM1417.9 381.5h11.5v5.0h-11.5zM1429.4 132.5h11.5v5.0h-11.5zM1429.4 247.0h11.5v5.0h-11.5zM1440.8 67.7h11.5v5.0h-11.5zM1440.8 172.3h11.5v5.0h-11.5zM1452.3 102.6h11.5v5.0h-11.5zM1452.3 237.0h11.5v5.0h-11.5zM1475.2 286.8h11.5v5.0h-11.5zM1509.6 316.7h11.5v5.0h-11.5zM1509.6 336.6h11.5v5.0h-11.5zM1509.6 451.2h11.5v5.0h-11.5zM1521.1 162.3h11.5v5.0h-11.5zM1521.1 426.3h11.5v5.0h-11.5zM1532.5 316.7h11.5v5.0h-11.5zM1532.5 376.5h11.5v5.0h-11.5zM1544.0 47.8h11.5v5.0h-11.5zM1544.0 311.7h11.5v5.0h-11.5zM1544.0 406.4h11.5v5.0h-11.5zM1555.4 62.7h11.5v5.0h-11.5zM1555.4 157.4h11.5v5.0h-11.5zM1555.4 436.2h11.5v5.0h-11.5zM1578.4 152.4h11.5v5.0h-11.5zM1578.4 172.3h11.5v5.0h-11.5zM1578.4 177.3h11.5v5.0h-11.5zM1578.4 261.9h11.5v5.0h-11.5zM1589.8 127.5h11.5v5.0h-11.5zM1589.8 157.4h11.5v5.0h-11.5zM1601.3 281.9h11.5v5.0h-11.5zM1635.7 281.9h11.5v5.0h-11.5zM1658.6 107.6h11.5v5.0h-11.5zM1658.6 426.3h11.5v5.0h-11.5zM1658.6 441.2h11.5v5.0h-11.5zM1670.0 43.5h11.5v4.3h-11.5zM1681.5 321.7h11.5v5.0h-11.5zM1693.0 77.7h11.5v5.0h-11.5zM1693.0 177.3h11.5v5.0h-11.5zM1693.0 207.2h11.5v5.0h-11.5zM1693.0 476.1h11.5v2.9h-11.5zM1704.4 52.8h11.6v5.0h-11.6zM1704.4 227.1h11.6v5.0h-11.6z" fill="#ff3000"/>
<path d="M1372.5 276.9h22.5v5.0h-22.5zM1395.0 152.4h11.5v5.0h-11.5zM1395.0 276.9h11.5v5.0h-11.5zM1406.5 361.5h11.5v5.0h-11.5zM1429.4 316.7h11.5v5.0h-11.5zM1452.3 431.3h11.5v5.0h-11.5zM1452.3 461.1h11.5v5.0h-11.5zM1463.8 43.5h11.5v4.3h-11.5zM1532.5 52.8h11.5v5.0h-11.5zM1566.9 62.7h11.5v5.0h-11.5zM1566.9 137.4h11.5v5.0h-11.5zM1566.9 461.1h11.5v5.0h-11.5zM1578.4 237.0h11.5v5.0h-11.5zM1578.4 456.2h11.5v5.0h-11.5zM1601.3 152.4h11.5v5.0h-11.5zM1612.7 97.6h11.5v5.0h-11.5zM1624.2 311.7h11.5v5.0h-11.5zM1624.2 461.1h11.5v5.0h-11.5zM1635.7 351.6h11.5v5.0h-11.5zM1647.1 431.3h11.5v5.0h-11.5zM1647.1 456.2h11.5v5.0h-11.5zM1658.6 132.5h11.5v5.0h-11.5zM1658.6 271.9h11.5v5.0h-11.5zM1658.6 291.8h11.5v5.0h-11.5zM1658.6 301.8h11.5v5.0h-11.5zM1658.6 316.7h11.5v5.0h-11.5zM1658.6 331.7h11.5v5.0h-11.5zM1670.0 177.3h11.5v5.0h-11.5zM1704.4 456.2h11.6v5.0h-11.6z" fill="#ff5500"/>
<path d="M1372.5 281.9h22.5v5.0h-22.5zM1372.5 451.2h22.5v5.0h-22.5zM1417.9 416.3h11.5v5.0h-11.5zM1429.4 431.3h11.5v5.0h-11.5zM1452.3 247.0h11.5v5.0h-11.5zM1452.3 291.8h11.5v5.0h-11.5zM1452.3 416.3h11.5v5.0h-11.5zM1452.3 476.1h11.5v2.9h-11.5zM1463.8 87.6h11.5v5.0h-11.5zM1463.8 112.5h11.5v5.0h-11.5zM1498.1 212.1h11.5v5.0h-11.5zM1566.9 127.5h11.5v5.0h-11.5zM1566.9 252.0h11.5v5.0h-11.5zM1566.9 411.3h11.5v5.0h-11.5zM1589.8 446.2h11.5v5.0h-11.5zM1601.3 456.2h11.5v5.0h-11.5zM1612.7 43.5h11.5v4.3h-11.5zM1612.7 471.1h11.5v5.0h-11.5zM1624.2 451.2h11.5v5.0h-11.5zM1624.2 471.1h11.5v5.0h-11.5zM1624.2 476.1h11.5v2.9h-11.5zM1635.7 257.0h11.5v5.0h-11.5zM1635.7 286.8h11.5v5.0h-11.5zM1658.6 137.4h11.5v5.0h-11.5zM1658.6 376.5h11.5v5.0h-11.5zM1704.4 441.2h11.6v5.0h-11.6z" fill="#ff5700"/>
<path d="M1372.5 291.8h22.5v5.0h-22.5zM1372.5 331.7h22.5v5.0h-22.5zM1406.5 202.2h11.5v5.0h-11.5zM1406.5 286.8h11.5v5.0h-11.5zM1417.9 232.1h11.5v5.0h-11.5zM1417.9 247.0h11.5v5.0h-11.5zM1417.9 386.4h11.5v5.0h-11.5zM1417.9 406.4h11.5v5.0h-11.5zM1429.4 72.7h11.5v5.0h-11.5zM1429.4 77.7h11.5v5.0h-11.5zM1429.4 87.6h11.5v5.0h-11.5zM1429.4 202.2h11.5v5.0h-11.5zM1429.4 222.1h11.5v5.0h-11.5zM1429.4 242.0h11.5v5.0h-11.5zM1440.8 232.1h11.5v5.0h-11.5zM1452.3 47.8h11.5v5.0h-11.5zM1452.3 57.8h11.5v5.0h-11.5zM1452.3 67.7h11.5v5.0h-11.5zM1452.3 212.1h11.5v5.0h-11.5zM1475.2 296.8h11.5v5.0h-11.5zM1486.7 112.5h11.5v5.0h-11.5zM1486.7 366.5h11.5v5.0h-11.5zM1486.7 386.4h11.5v5.0h-11.5zM1486.7 461.1h11.5v5.0h-11.5zM1498.1 227.1h11.5v5.0h-11.5zM1498.1 281.9h11.5v5.0h-11.5zM1498.1 351.6h11.5v5.0h-11.5zM1509.6 72.7h11.5v5.0h-11.5zM1509.6 187.2h11.5v5.0h-11.5zM1509.6 286.8h11.5v5.0h-11.5zM1532.5 476.1h11.5v2.9h-11.5zM1544.0 207.2h11.5v5.0h-11.5zM1544.0 301.8h11.5v5.0h-11.5zM1544.0 326.7h11.5v5.0h-11.5zM1555.4 72.7h11.5v5.0h-11.5zM1555.4 82.7h11.5v5.0h-11.5zM1578.4 62.7h11.5v5.0h-11.5zM1612.7 117.5h11.5v5.0h-11.5zM1612.7 321.7h11.5v5.0h-11.5zM1612.7 346.6h11.5v5.0h-11.5zM1624.2 67.7h11.5v5.0h-11.5zM1624.2 192.2h11.5v5.0h-11.5zM1624.2 202.2h11.5v5.0h-11.5zM1624.2 242.0h11.5v5.0h-11.5zM1635.7 217.1h11.5v5.0h-11.5zM1635.7 227.1h11.5v5.0h-11.5zM1635.7 242.0h11.5v5.0h-11.5zM1670.0 391.4h11.5v5.0h-11.5zM1670.0 421.3h11.5v5.0h-11.5zM1681.5 157.4h11.5v5.0h-11.5zM1693.0 57.8h11.5v5.0h-11.5zM1693.0 167.3h11.5v5.0h-11.5zM1693.0 371.5h11.5v5.0h-11.5zM1704.4 162.3h11.6v5.0h-11.6zM1704.4 411.3h11.6v5.0h-11.6z" fill="#ff3d00"/>
<path d="M1372.5 301.8h22.5v5.0h-22.5zM1395.0 162.3h11.5v5.0h-11.5zM1406.5 157.4h11.5v5.0h-11.5zM1406.5 172.3h11.5v5.0h-11.5zM1406.5 212.1h11.5v5.0h-11.5zM1417.9 311.7h11.5v5.0h-11.5zM1440.8 257.0h11.5v5.0h-11.5zM1475.2 52.8h11.5v5.0h-11.5zM1486.7 62.7h11.5v5.0h-11.5zM1486.7 67.7h11.5v5.0h-11.5zM1486.7 281.9h11.5v5.0h-11.5zM1486.7 341.6h11.5v5.0h-11.5zM1486.7 426.3h11.5v5.0h-11.5zM1509.6 242.0h11.5v5.0h-11.5zM1521.1 57.8h11.5v5.0h-11.5zM1532.5 132.5h11.5v5.0h-11.5zM1532.5 187.2h11.5v5.0h-11.5zM1532.5 461.1h11.5v5.0h-11.5zM1555.4 351.6h11.5v5.0h-11.5zM1566.9 222.1h11.5v5.0h-11.5zM1578.4 82.7h11.5v5.0h-11.5zM1578.4 217.1h11.5v5.0h-11.5zM1601.3 112.5h11.5v5.0h-11.5zM1601.3 217.1h11.5v5.0h-11.5zM1601.3 386.4h11.5v5.0h-11.5zM1612.7 167.3h11.5v5.0h-11.5zM1612.7 242.0h11.5v5.0h-11.5zM1635.7 212.1h11.5v5.0h-11.5zM1670.0 142.4h11.5v5.0h-11.5zM1670.0 431.3h11.5v5.0h-11.5zM1670.0 456.2h11.5v5.0h-11.5zM1693.0 266.9h11.5v5.0h-11.5zM1693.0 331.7h11.5v5.0h-11.5zM1704.4 281.9h11.6v5.0h-11.6zM1704.4 391.4h11.6v5.0h-11.6z" fill="#ff4000"/>
<path d="M1372.5 311.7h22.5v5.0h-22.5zM1395.0 57.8h11.5v5.0h-11.5zM1395.0 381.5h11.5v5.0h-11.5zM1406.5 177.3h11.5v5.0h-11.5zM1417.9 127.5h11.5v5.0h-11.5zM1417.9 212.1h11.5v5.0h-11.5zM1417.9 366.5h11.5v5.0h-11.5zM1417.9 426.3h11.5v5.0h-11.5zM1429.4 137.4h11.5v5.0h-11.5zM1429.4 286.8h11.5v5.0h-11.5zM1440.8 217.1h11.5v5.0h-11.5zM1452.3 147.4h11.5v5.0h-11.5zM1486.7 92.6h11.5v5.0h-11.5zM1486.7 406.4h11.5v5.0h-11.5zM1498.1 82.7h11.5v5.0h-11.5zM1498.1 147.4h11.5v5.0h-11.5zM1509.6 172.3h11.5v5.0h-11.5zM1509.6 207.2h11.5v5.0h-11.5zM1509.6 311.7h11.5v5.0h-11.5zM1532.5 177.3h11.5v5.0h-11.5zM1555.4 117.5h11.5v5.0h-11.5zM1566.9 82.7h11.5v5.0h-11.5zM1566.9 242.0h11.5v5.0h-11.5zM1566.9 261.9h11.5v5.0h-11.5zM1578.4 157.4h11.5v5.0h-11.5zM1578.4 376.5h11.5v5.0h-11.5zM1601.3 92.6h11.5v5.0h-11.5zM1601.3 177.3h11.5v5.0h-11.5zM1624.2 137.4h11.5v5.0h-11.5zM1635.7 102.6h11.5v5.0h-11.5zM1658.6 411.3h11.5v5.0h-11.5zM1670.0 406.4h11.5v5.0h-11.5zM1681.5 311.7h11.5v5.0h-11.5zM1693.0 197.2h11.5v5.0h-11.5zM1693.0 356.6h11.5v5.0h-11.5zM1704.4 296.8h11.6v5.0h-11.6z" fill="#ff3600"/>
<path d="M1372.5 316.7h22.5v5.0h-22.5zM1372.5 371.5h22.5v5.0h-22.5zM1395.0 137.4h11.5v5.0h-11.5zM1417.9 112.5h11.5v5.0h-11.5zM1417.9 122.5h11.5v5.0h-11.5zM1417.9 421.3h11.5v5.0h-11.5zM1440.8 202.2h11.5v5.0h-11.5zM1452.3 107.6h11.5v5.0h-11.5zM1452.3 257.0h11.5v5.0h-11.5zM1475.2 321.7h11.5v5.0h-11.5zM1486.7 202.2h11.5v5.0h-11.5zM1532.5 82.7h11.5v5.0h-11.5zM1532.5 346.6h11.5v5.0h-11.5zM1532.5 456.2h11.5v5.0h-11.5zM1566.9 77.7h11.5v5.0h-11.5zM1566.9 247.0h11.5v5.0h-11.5zM1589.8 137.4h11.5v5.0h-11.5zM1589.8 271.9h11.5v5.0h-11.5zM1589.8 346.6h11.5v5.0h-11.5zM1612.7 217.1h11.5v5.0h-11.5zM1612.7 222.1h11.5v5.0h-11.5zM1612.7 326.7h11.5v5.0h-11.5zM1612.7 411.3h11.5v5.0h-11.5zM1658.6 67.7h11.5v5.0h-11.5zM1658.6 281.9h11.5v5.0h-11.5zM1658.6 351.6h11.5v5.0h-11.5zM1658.6 451.2h11.5v5.0h-11.5zM1681.5 87.6h11.5v5.0h-11.5zM1681.5 361.5h11.5v5.0h-11.5zM1693.0 92.6h11.5v5.0h-11.5zM1693.0 202.2h11.5v5.0h-11.5zM1693.0 232.1h11.5v5.0h-11.5z" fill="#ff4600"/>
<path d="M1372.5 321.7h22.5v5.0h-22.5zM1417.9 321.7h11.5v5.0h-11.5zM1429.4 52.8h11.5v5.0h-11.5zM1452.3 152.4h11.5v5.0h-11.5zM1452.3 177.3h11.5v5.0h-11.5zM1498.1 57.8h11.5v5.0h-11.5zM1498.1 356.6h11.5v5.0h-11.5zM1509.6 152.4h11.5v5.0h-11.5zM1509.6 167.3h11.5v5.0h-11.5zM1509.6 192.2h11.5v5.0h-11.5zM1521.1 202.2h11.5v5.0h-11.5zM1521.1 306.8h11.5v5.0h-11.5zM1521.1 316.7h11.5v5.0h-11.5zM1521.1 466.1h11.5v5.0h-11.5zM1544.0 182.3h11.5v5.0h-11.5zM1544.0 227.1h11.5v5.0h-11.5zM1555.4 67.7h11.5v5.0h-11.5zM1555.4 112.5h11.5v5.0h-11.5zM1555.4 286.8h11.5v5.0h-11.5zM1566.9 112.5h11.5v5.0h-11.5zM1566.9 177.3h11.5v5.0h-11.5zM1566.9 217.1h11.5v5.0h-11.5zM1589.8 62.7h11.5v5.0h-11.5zM1601.3 107.6h11.5v5.0h-11.5zM1601.3 137.4h11.5v5.0h-11.5zM1601.3 182.3h11.5v5.0h-11.5zM1612.7 177.3h11.5v5.0h-11.5zM1624.2 346.6h11.5v5.0h-11.5zM1635.7 92.6h11.5v5.0h-11.5zM1635.7 192.2h11.5v5.0h-11.5zM1670.0 97.6h11.5v5.0h-11.5zM1693.0 132.5h11.5v5.0h-11.5zM1693.0 222.1h11.5v5.0h-11.5z" fill="#ff3e00"/>
<path d="M1372.5 326.7h22.5v5.0h-22.5zM1372.5 336.6h22.5v5.0h-22.5zM1372.5 361.5h22.5v5.0h-22.5zM1395.0 391.4h11.5v5.0h-11.5zM1406.5 77.7h11.5v5.0h-11.5zM1406.5 356.6h11.5v5.0h-11.5zM1406.5 381.5h11.5v5.0h-11.5zM1417.9 92.6h11.5v5.0h-11.5zM1417.9 217.1h11.5v5.0h-11.5zM1475.2 127.5h11.5v5.0h-11.5zM1475.2 167.3h11.5v5.0h-11.5zM1486.7 207.2h11.5v5.0h-11.5zM1498.1 67.7h11.5v5.0h-11.5zM1498.1 87.6h11.5v5.0h-11.5zM1509.6 147.4h11.5v5.0h-11.5zM1509.6 346.6h11.5v5.0h-11.5zM1509.6 386.4h11.5v5.0h-11.5zM1509.6 406.4h11.5v5.0h-11.5zM1521.1 152.4h11.5v5.0h-11.5zM1521.1 276.9h11.5v5.0h-11.5zM1521.1 286.8h11.5v5.0h-11.5zM1521.1 291.8h11.5v5.0h-11.5zM1532.5 291.8h11.5v5.0h-11.5zM1532.5 301.8h11.5v5.0h-11.5zM1532.5 361.5h11.5v5.0h-11.5zM1532.5 416.3h11.5v5.0h-11.5zM1544.0 316.7h11.5v5.0h-11.5zM1555.4 281.9h11.5v5.0h-11.5zM1578.4 187.2h11.5v5.0h-11.5zM1589.8 72.7h11.5v5.0h-11.5zM1589.8 142.4h11.5v5.0h-11.5zM1601.3 247.0h11.5v5.0h-11.5zM1612.7 137.4h11.5v5.0h-11.5zM1624.2 152.4h11.5v5.0h-11.5zM1624.2 247.0h11.5v5.0h-11.5zM1635.7 77.7h11.5v5.0h-11.5zM1635.7 222.1h11.5v5.0h-11.5zM1635.7 232.1h11.5v5.0h-11.5zM1658.6 112.5h11.5v5.0h-11.5zM1670.0 321.7h11.5v5.0h-11.5zM1670.0 356.6h11.5v5.0h-11.5zM1693.0 411.3h11.5v5.0h-11.5zM1704.4 386.4h11.6v5.0h-11.6z" fill="#ff3900"/>
<path d="M1372.5 346.6h22.5v5.0h-22.5zM1395.0 461.1h11.5v5.0h-11.5zM1406.5 406.4h11.5v5.0h-11.5zM1406.5 421.3h11.5v5.0h-11.5zM1417.9 152.4h11.5v5.0h-11.5zM1440.8 77.7h11.5v5.0h-11.5zM1452.3 72.7h11.5v5.0h-11.5zM1475.2 47.8h11.5v5.0h-11.5zM1486.7 152.4h11.5v5.0h-11.5zM1498.1 237.0h11.5v5.0h-11.5zM1509.6 177.3h11.5v5.0h-11.5zM1509.6 471.1h11.5v5.0h-11.5zM1521.1 421.3h11.5v5.0h-11.5zM1555.4 182.3h11.5v5.0h-11.5zM1555.4 321.7h11.5v5.0h-11.5zM1555.4 376.5h11.5v5.0h-11.5zM1589.8 207.2h11.5v5.0h-11.5zM1589.8 286.8h11.5v5.0h-11.5zM1589.8 371.5h11.5v5.0h-11.5zM1601.3 102.6h11.5v5.0h-11.5zM1612.7 107.6h11.5v5.0h-11.5zM1624.2 147.4h11.5v5.0h-11.5zM1635.7 202.2h11.5v5.0h-11.5zM1635.7 207.2h11.5v5.0h-11.5zM1670.0 436.2h11.5v5.0h-11.5zM1681.5 376.5h11.5v5.0h-11.5zM1681.5 386.4h11.5v5.0h-11.5zM1693.0 127.5h11.5v5.0h-11.5zM1693.0 212.1h11.5v5.0h-11.5zM1693.0 296.8h11.5v5.0h-11.5zM1704.4 217.1h11.6v5.0h-11.6zM1704.4 222.1h11.6v5.0h-11.6zM1704.4 232.1h11.6v5.0h-11.6zM1704.4 376.5h11.6v5.0h-11.6z" fill="#ff2b00"/>
<path d="M1372.5 351.6h22.5v5.0h-22.5zM1395.0 471.1h11.5v5.0h-11.5zM1429.4 97.6h11.5v5.0h-11.5zM1440.8 43.5h11.5v4.3h-11.5zM1440.8 127.5h11.5v5.0h-11.5zM1440.8 157.4h11.5v5.0h-11.5zM1452.3 62.7h11.5v5.0h-11.5zM1463.8 47.8h11.5v5.0h-11.5zM1463.8 62.7h11.5v5.0h-11.5zM1475.2 62.7h11.5v5.0h-11.5zM1475.2 72.7h11.5v5.0h-11.5zM1475.2 326.7h11.5v5.0h-11.5zM1486.7 222.1h11.5v5.0h-11.5zM1509.6 281.9h11.5v5.0h-11.5zM1521.1 122.5h11.5v5.0h-11.5zM1521.1 441.2h11.5v5.0h-11.5zM1544.0 366.5h11.5v5.0h-11.5zM1544.0 391.4h11.5v5.0h-11.5zM1566.9 117.5h11.5v5.0h-11.5zM1566.9 326.7h11.5v5.0h-11.5zM1566.9 471.1h11.5v5.0h-11.5zM1578.4 431.3h11.5v5.0h-11.5zM1624.2 57.8h11.5v5.0h-11.5zM1647.1 52.8h11.5v5.0h-11.5zM1658.6 92.6h11.5v5.0h-11.5zM1658.6 142.4h11.5v5.0h-11.5zM1670.0 122.5h11.5v5.0h-11.5zM1681.5 132.5h11.5v5.0h-11.5zM1681.5 286.8h11.5v5.0h-11.5zM1693.0 52.8h11.5v5.0h-11.5zM1693.0 237.0h11.5v5.0h-11.5z" fill="#ff4a00"/>
<path d="M1372.5 366.5h22.5v5.0h-22.5zM1395.0 301.8h11.5v5.0h-11.5zM1395.0 416.3h11.5v5.0h-11.5zM1406.5 431.3h11.5v5.0h-11.5zM1417.9 137.4h11.5v5.0h-11.5zM1440.8 167.3h11.5v5.0h-11.5zM1452.3 122.5h11.5v5.0h-11.5zM1452.3 207.2h11.5v5.0h-11.5zM1486.7 197.2h11.5v5.0h-11.5zM1486.7 212.1h11.5v5.0h-11.5zM1486.7 217.1h11.5v5.0h-11.5zM1498.1 92.6h11.5v5.0h-11.5zM1498.1 172.3h11.5v5.0h-11.5zM1498.1 182.3h11.5v5.0h-11.5zM1498.1 331.7h11.5v5.0h-11.5zM1509.6 411.3h11.5v5.0h-11.5zM1521.1 366.5h11.5v5.0h-11.5zM1521.1 401.4h11.5v5.0h-11.5zM1532.5 222.1h11.5v5.0h-11.5zM1544.0 351.6h11.5v5.0h-11.5zM1555.4 331.7h11.5v5.0h-11.5zM1555.4 346.6h11.5v5.0h-11.5zM1555.4 366.5h11.5v5.0h-11.5zM1566.9 52.8h11.5v5.0h-11.5zM1566.9 167.3h11.5v5.0h-11.5zM1566.9 356.6h11.5v5.0h-11.5zM1566.9 361.5h11.5v5.0h-11.5zM1601.3 87.6h11.5v5.0h-11.5zM1601.3 202.2h11.5v5.0h-11.5zM1612.7 157.4h11.5v5.0h-11.5zM1612.7 331.7h11.5v5.0h-11.5zM1624.2 266.9h11.5v5.0h-11.5zM1624.2 271.9h11.5v5.0h-11.5zM1647.1 77.7h11.5v5.0h-11.5zM1647.1 112.5h11.5v5.0h-11.5zM1658.6 212.1h11.5v5.0h-11.5zM1658.6 341.6h11.5v5.0h-11.5zM1670.0 117.5h11.5v5.0h-11.5zM1670.0 132.5h11.5v5.0h-11.5zM1670.0 351.6h11.5v5.0h-11.5zM1681.5 476.1h11.5v2.9h-11.5zM1704.4 182.3h11.6v5.0h-11.6z" fill="#ff4700"/>
<path d="M1372.5 381.5h22.5v5.0h-22.5zM1395.0 202.2h11.5v5.0h-11.5zM1395.0 207.2h11.5v5.0h-11.5zM1429.4 386.4h11.5v5.0h-11.5zM1463.8 476.1h11.5v2.9h-11.5zM1566.9 43.5h11.5v4.3h-11.5zM1589.8 466.1h11.5v5.0h-11.5zM1589.8 471.1h11.5v5.0h-11.5zM1601.3 411.3h11.5v5.0h-11.5zM1601.3 421.3h11.5v5.0h-11.5zM1612.7 341.6h11.5v5.0h-11.5zM1612.7 466.1h11.5v5.0h-11.5zM1624.2 441.2h11.5v5.0h-11.5zM1624.2 466.1h11.5v5.0h-11.5zM1635.7 331.7h11.5v5.0h-11.5zM1635.7 356.6h11.5v5.0h-11.5zM1635.7 411.3h11.5v5.0h-11.5zM1647.1 82.7h11.5v5.0h-11.5zM1658.6 266.9h11.5v5.0h-11.5zM1670.0 162.3h11.5v5.0h-11.5zM1670.0 182.3h11.5v5.0h-11.5zM1670.0 227.1h11.5v5.0h-11.5zM1704.4 446.2h11.6v5.0h-11.6z" fill="#ff5900"/>
<path d="M1372.5 386.4h22.5v5.0h-22.5zM1429.4 376.5h11.5v5.0h-11.5zM1440.8 321.7h11.5v5.0h-11.5zM1452.3 301.8h11.5v5.0h-11.5zM1463.8 152.4h11.5v5.0h-11.5zM1463.8 192.2h11.5v5.0h-11.5zM1566.9 316.7h11.5v5.0h-11.5zM1566.9 386.4h11.5v5.0h-11.5zM1566.9 451.2h11.5v5.0h-11.5zM1578.4 247.0h11.5v5.0h-11.5zM1635.7 426.3h11.5v5.0h-11.5zM1647.1 406.4h11.5v5.0h-11.5zM1670.0 157.4h11.5v5.0h-11.5z" fill="#ff6700"/>
<path d="M1372.5 391.4h22.5v5.0h-22.5zM1429.4 361.5h11.5v5.0h-11.5zM1452.3 321.7h11.5v5.0h-11.5zM1452.3 411.3h11.5v5.0h-11.5zM1452.3 451.2h11.5v5.0h-11.5zM1452.3 471.1h11.5v5.0h-11.5zM1601.3 471.1h11.5v5.0h-11.5zM1635.7 441.2h11.5v5.0h-11.5z" fill="#ff6400"/>
<path d="M1372.5 396.4h22.5v5.0h-22.5zM1429.4 301.8h11.5v5.0h-11.5zM1429.4 346.6h11.5v5.0h-11.5zM1452.3 306.8h11.5v5.0h-11.5zM1463.8 451.2h11.5v5.0h-11.5z" fill="#ff6a00"/>
<path d="M1372.5 401.4h22.5v5.0h-22.5zM1429.4 311.7h11.5v5.0h-11.5zM1440.8 446.2h11.5v5.0h-11.5zM1440.8 451.2h11.5v5.0h-11.5zM1440.8 471.1h11.5v5.0h-11.5zM1463.8 97.6h11.5v5.0h-11.5zM1463.8 162.3h11.5v5.0h-11.5zM1498.1 157.4h11.5v5.0h-11.5zM1635.7 291.8h11.5v5.0h-11.5zM1635.7 366.5h11.5v5.0h-11.5zM1635.7 376.5h11.5v5.0h-11.5zM1635.7 416.3h11.5v5.0h-11.5zM1647.1 127.5h11.5v5.0h-11.5zM1658.6 217.1h11.5v5.0h-11.5zM1704.4 97.6h11.6v5.0h-11.6z" fill="#ff5d00"/>
<path d="M1372.5 406.4h22.5v5.0h-22.5zM1395.0 62.7h11.5v5.0h-11.5zM1406.5 57.8h11.5v5.0h-11.5zM1406.5 142.4h11.5v5.0h-11.5zM1406.5 366.5h11.5v5.0h-11.5zM1417.9 82.7h11.5v5.0h-11.5zM1417.9 276.9h11.5v5.0h-11.5zM1417.9 351.6h11.5v5.0h-11.5zM1417.9 461.1h11.5v5.0h-11.5zM1429.4 82.7h11.5v5.0h-11.5zM1440.8 102.6h11.5v5.0h-11.5zM1440.8 187.2h11.5v5.0h-11.5zM1440.8 281.9h11.5v5.0h-11.5zM1452.3 197.2h11.5v5.0h-11.5zM1475.2 87.6h11.5v5.0h-11.5zM1475.2 247.0h11.5v5.0h-11.5zM1486.7 117.5h11.5v5.0h-11.5zM1486.7 137.4h11.5v5.0h-11.5zM1486.7 257.0h11.5v5.0h-11.5zM1498.1 261.9h11.5v5.0h-11.5zM1509.6 157.4h11.5v5.0h-11.5zM1509.6 182.3h11.5v5.0h-11.5zM1509.6 266.9h11.5v5.0h-11.5zM1521.1 43.5h11.5v4.3h-11.5zM1521.1 102.6h11.5v5.0h-11.5zM1521.1 142.4h11.5v5.0h-11.5zM1521.1 257.0h11.5v5.0h-11.5zM1532.5 247.0h11.5v5.0h-11.5zM1544.0 57.8h11.5v5.0h-11.5zM1544.0 232.1h11.5v5.0h-11.5zM1544.0 321.7h11.5v5.0h-11.5zM1566.9 237.0h11.5v5.0h-11.5zM1578.4 232.1h11.5v5.0h-11.5zM1589.8 57.8h11.5v5.0h-11.5zM1589.8 257.0h11.5v5.0h-11.5zM1589.8 331.7h11.5v5.0h-11.5zM1601.3 286.8h11.5v5.0h-11.5zM1624.2 82.7h11.5v5.0h-11.5zM1635.7 276.9h11.5v5.0h-11.5zM1670.0 401.4h11.5v5.0h-11.5zM1670.0 426.3h11.5v5.0h-11.5zM1681.5 152.4h11.5v5.0h-11.5zM1681.5 296.8h11.5v5.0h-11.5zM1681.5 341.6h11.5v5.0h-11.5zM1693.0 62.7h11.5v5.0h-11.5zM1693.0 326.7h11.5v5.0h-11.5zM1704.4 406.4h11.6v5.0h-11.6z" fill="#ff3a00"/>
<path d="M1372.5 411.3h22.5v5.0h-22.5zM1406.5 311.7h11.5v5.0h-11.5zM1440.8 296.8h11.5v5.0h-11.5zM1521.1 217.1h11.5v5.0h-11.5zM1624.2 102.6h11.5v5.0h-11.5zM1624.2 157.4h11.5v5.0h-11.5zM1624.2 306.8h11.5v5.0h-11.5zM1624.2 326.7h11.5v5.0h-11.5zM1704.4 207.2h11.6v5.0h-11.6zM1704.4 326.7h11.6v5.0h-11.6z" fill="#ff1400"/>
<path d="M1372.5 416.3h22.5v5.0h-22.5zM1372.5 426.3h22.5v5.0h-22.5zM1395.0 52.8h11.5v5.0h-11.5zM1395.0 77.7h11.5v5.0h-11.5zM1395.0 311.7h11.5v5.0h-11.5zM1406.5 147.4h11.5v5.0h-11.5zM1406.5 466.1h11.5v5.0h-11.5zM1417.9 456.2h11.5v5.0h-11.5zM1429.4 122.5h11.5v5.0h-11.5zM1440.8 47.8h11.5v5.0h-11.5zM1440.8 237.0h11.5v5.0h-11.5zM1452.3 232.1h11.5v5.0h-11.5zM1475.2 162.3h11.5v5.0h-11.5zM1475.2 276.9h11.5v5.0h-11.5zM1475.2 421.3h11.5v5.0h-11.5zM1486.7 291.8h11.5v5.0h-11.5zM1486.7 316.7h11.5v5.0h-11.5zM1486.7 321.7h11.5v5.0h-11.5zM1486.7 411.3h11.5v5.0h-11.5zM1498.1 77.7h11.5v5.0h-11.5zM1498.1 446.2h11.5v5.0h-11.5zM1509.6 112.5h11.5v5.0h-11.5zM1509.6 202.2h11.5v5.0h-11.5zM1509.6 321.7h11.5v5.0h-11.5zM1521.1 192.2h11.5v5.0h-11.5zM1521.1 197.2h11.5v5.0h-11.5zM1532.5 162.3h11.5v5.0h-11.5zM1566.9 157.4h11.5v5.0h-11.5zM1578.4 182.3h11.5v5.0h-11.5zM1578.4 197.2h11.5v5.0h-11.5zM1601.3 57.8h11.5v5.0h-11.5zM1624.2 296.8h11.5v5.0h-11.5zM1624.2 301.8h11.5v5.0h-11.5zM1635.7 177.3h11.5v5.0h-11.5zM1635.7 237.0h11.5v5.0h-11.5zM1670.0 72.7h11.5v5.0h-11.5zM1681.5 257.0h11.5v5.0h-11.5zM1681.5 471.1h11.5v5.0h-11.5zM1704.4 117.5h11.6v5.0h-11.6z" fill="#ff3800"/>
<path d="M1372.5 421.3h22.5v5.0h-22.5zM1429.4 187.2h11.5v5.0h-11.5zM1440.8 276.9h11.5v5.0h-11.5zM1498.1 381.5h11.5v5.0h-11.5zM1498.1 396.4h11.5v5.0h-11.5zM1509.6 117.5h11.5v5.0h-11.5zM1521.1 356.6h11.5v5.0h-11.5zM1532.5 77.7h11.5v5.0h-11.5zM1544.0 107.6h11.5v5.0h-11.5zM1578.4 137.4h11.5v5.0h-11.5zM1589.8 112.5h11.5v5.0h-11.5zM1589.8 376.5h11.5v5.0h-11.5zM1601.3 52.8h11.5v5.0h-11.5zM1601.3 366.5h11.5v5.0h-11.5zM1612.7 306.8h11.5v5.0h-11.5zM1670.0 371.5h11.5v5.0h-11.5zM1670.0 451.2h11.5v5.0h-11.5z" fill="#ff2800"/>
<path d="M1372.5 431.3h22.5v5.0h-22.5zM1532.5 341.6h11.5v5.0h-11.5zM1589.8 326.7h11.5v5.0h-11.5z" fill="#ff0200"/>
<path d="M1372.5 446.2h22.5v5.0h-22.5zM1544.0 217.1h11.5v5.0h-11.5zM1566.9 271.9h11.5v5.0h-11.5zM1704.4 172.3h11.6v5.0h-11.6z" fill="#ff0000"/>
<path d="M1372.5 456.2h22.5v5.0h-22.5zM1429.4 406.4h11.5v5.0h-11.5zM1440.8 421.3h11.5v5.0h-11.5zM1440.8 441.2h11.5v5.0h-11.5zM1452.3 137.4h11.5v5.0h-11.5zM1452.3 242.0h11.5v5.0h-11.5zM1498.1 102.6h11.5v5.0h-11.5zM1498.1 202.2h11.5v5.0h-11.5zM1509.6 252.0h11.5v5.0h-11.5zM1532.5 107.6h11.5v5.0h-11.5zM1555.4 217.1h11.5v5.0h-11.5zM1555.4 461.1h11.5v5.0h-11.5zM1578.4 311.7h11.5v5.0h-11.5zM1578.4 421.3h11.5v5.0h-11.5zM1601.3 212.1h11.5v5.0h-11.5zM1612.7 82.7h11.5v5.0h-11.5zM1612.7 436.2h11.5v5.0h-11.5zM1624.2 316.7h11.5v5.0h-11.5zM1647.1 62.7h11.5v5.0h-11.5zM1658.6 232.1h11.5v5.0h-11.5zM1658.6 247.0h11.5v5.0h-11.5zM1658.6 336.6h11.5v5.0h-11.5zM1693.0 401.4h11.5v5.0h-11.5z" fill="#ff5300"/>
<path d="M1372.5 466.1h22.5v5.0h-22.5zM1406.5 187.2h11.5v5.0h-11.5zM1406.5 217.1h11.5v5.0h-11.5zM1406.5 456.2h11.5v5.0h-11.5zM1417.9 87.6h11.5v5.0h-11.5zM1417.9 451.2h11.5v5.0h-11.5zM1429.4 227.1h11.5v5.0h-11.5zM1440.8 87.6h11.5v5.0h-11.5zM1440.8 252.0h11.5v5.0h-11.5zM1452.3 167.3h11.5v5.0h-11.5zM1452.3 217.1h11.5v5.0h-11.5zM1452.3 227.1h11.5v5.0h-11.5zM1475.2 112.5h11.5v5.0h-11.5zM1475.2 291.8h11.5v5.0h-11.5zM1475.2 361.5h11.5v5.0h-11.5zM1498.1 192.2h11.5v5.0h-11.5zM1498.1 361.5h11.5v5.0h-11.5zM1498.1 411.3h11.5v5.0h-11.5zM1509.6 441.2h11.5v5.0h-11.5zM1521.1 227.1h11.5v5.0h-11.5zM1521.1 376.5h11.5v5.0h-11.5zM1521.1 391.4h11.5v5.0h-11.5zM1521.1 451.2h11.5v5.0h-11.5zM1532.5 471.1h11.5v5.0h-11.5zM1544.0 112.5h11.5v5.0h-11.5zM1544.0 356.6h11.5v5.0h-11.5zM1544.0 431.3h11.5v5.0h-11.5zM1555.4 207.2h11.5v5.0h-11.5zM1555.4 416.3h11.5v5.0h-11.5zM1555.4 421.3h11.5v5.0h-11.5zM1566.9 197.2h11.5v5.0h-11.5zM1578.4 291.8h11.5v5.0h-11.5zM1578.4 321.7h11.5v5.0h-11.5zM1578.4 326.7h11.5v5.0h-11.5zM1578.4 366.5h11.5v5.0h-11.5zM1589.8 182.3h11.5v5.0h-11.5zM1589.8 356.6h11.5v5.0h-11.5zM1601.3 162.3h11.5v5.0h-11.5zM1601.3 197.2h11.5v5.0h-11.5zM1601.3 271.9h11.5v5.0h-11.5zM1601.3 311.7h11.5v5.0h-11.5zM1624.2 43.5h11.5v4.3h-11.5zM1624.2 107.6h11.5v5.0h-11.5zM1624.2 217.1h11.5v5.0h-11.5zM1635.7 97.6h11.5v5.0h-11.5zM1670.0 247.0h11.5v5.0h-11.5zM1681.5 187.2h11.5v5.0h-11.5zM1681.5 222.1h11.5v5.0h-11.5zM1681.5 371.5h11.5v5.0h-11.5zM1693.0 252.0h11.5v5.0h-11.5zM1704.4 112.5h11.6v5.0h-11.6zM1704.4 147.4h11.6v5.0h-11.6zM1704.4 291.8h11.6v5.0h-11.6z" fill="#ff3c00"/>
<path d="M1372.5 476.1h22.5v2.9h-22.5zM1417.9 291.8h11.5v5.0h-11.5zM1475.2 451.2h11.5v5.0h-11.5zM1509.6 431.3h11.5v5.0h-11.5zM1578.4 271.9h11.5v5.0h-11.5zM1693.0 72.7h11.5v5.0h-11.5z" fill="#ff1500"/>
<path d="M1395.0 43.5h11.5v4.3h-11.5zM1395.0 421.3h11.5v5.0h-11.5zM1395.0 476.1h11.5v2.9h-11.5zM1417.9 97.6h11.5v5.0h-11.5zM1440.8 72.7h11.5v5.0h-11.5zM1486.7 187.2h11.5v5.0h-11.5zM1498.1 326.7h11.5v5.0h-11.5zM1509.6 122.5h11.5v5.0h-11.5zM1521.1 326.7h11.5v5.0h-11.5zM1532.5 391.4h11.5v5.0h-11.5zM1532.5 401.4h11.5v5.0h-11.5zM1532.5 411.3h11.5v5.0h-11.5zM1544.0 276.9h11.5v5.0h-11.5zM1555.4 396.4h11.5v5.0h-11.5zM1578.4 147.4h11.5v5.0h-11.5zM1578.4 351.6h11.5v5.0h-11.5zM1589.8 117.5h11.5v5.0h-11.5zM1589.8 172.3h11.5v5.0h-11.5zM1612.7 202.2h11.5v5.0h-11.5zM1624.2 47.8h11.5v5.0h-11.5zM1624.2 222.1h11.5v5.0h-11.5zM1624.2 336.6h11.5v5.0h-11.5zM1635.7 167.3h11.5v5.0h-11.5zM1658.6 47.8h11.5v5.0h-11.5zM1670.0 301.8h11.5v5.0h-11.5zM1670.0 306.8h11.5v5.0h-11.5zM1670.0 361.5h11.5v5.0h-11.5zM1693.0 286.8h11.5v5.0h-11.5zM1693.0 291.8h11.5v5.0h-11.5zM1704.4 257.0h11.6v5.0h-11.6zM1704.4 371.5h11.6v5.0h-11.6z" fill="#ff2c00"/>
<path d="M1395.0 82.7h11.5v5.0h-11.5zM1406.5 127.5h11.5v5.0h-11.5zM1406.5 291.8h11.5v5.0h-11.5zM1406.5 411.3h11.5v5.0h-11.5zM1417.9 57.8h11.5v5.0h-11.5zM1417.9 286.8h11.5v5.0h-11.5zM1440.8 177.3h11.5v5.0h-11.5zM1486.7 97.6h11.5v5.0h-11.5zM1486.7 451.2h11.5v5.0h-11.5zM1521.1 351.6h11.5v5.0h-11.5zM1532.5 431.3h11.5v5.0h-11.5zM1601.3 97.6h11.5v5.0h-11.5zM1612.7 197.2h11.5v5.0h-11.5zM1670.0 311.7h11.5v5.0h-11.5zM1670.0 336.6h11.5v5.0h-11.5z" fill="#ff1b00"/>
<path d="M1395.0 87.6h11.5v5.0h-11.5zM1475.2 177.3h11.5v5.0h-11.5zM1532.5 281.9h11.5v5.0h-11.5z" fill="#ff0a00"/>
<path d="M1395.0 92.6h11.5v5.0h-11.5zM1406.5 92.6h11.5v5.0h-11.5zM1406.5 152.4h11.5v5.0h-11.5zM1406.5 237.0h11.5v5.0h-11.5zM1406.5 351.6h11.5v5.0h-11.5zM1406.5 371.5h11.5v5.0h-11.5zM1417.9 296.8h11.5v5.0h-11.5zM1452.3 92.6h11.5v5.0h-11.5zM1475.2 147.4h11.5v5.0h-11.5zM1475.2 341.6h11.5v5.0h-11.5zM1486.7 52.8h11.5v5.0h-11.5zM1486.7 261.9h11.5v5.0h-11.5zM1509.6 222.1h11.5v5.0h-11.5zM1521.1 157.4h11.5v5.0h-11.5zM1521.1 187.2h11.5v5.0h-11.5zM1521.1 456.2h11.5v5.0h-11.5zM1532.5 261.9h11.5v5.0h-11.5zM1544.0 67.7h11.5v5.0h-11.5zM1544.0 222.1h11.5v5.0h-11.5zM1555.4 167.3h11.5v5.0h-11.5zM1555.4 356.6h11.5v5.0h-11.5zM1555.4 431.3h11.5v5.0h-11.5zM1566.9 296.8h11.5v5.0h-11.5zM1578.4 336.6h11.5v5.0h-11.5zM1578.4 371.5h11.5v5.0h-11.5zM1578.4 386.4h11.5v5.0h-11.5zM1589.8 242.0h11.5v5.0h-11.5zM1589.8 311.7h11.5v5.0h-11.5zM1589.8 336.6h11.5v5.0h-11.5zM1612.7 311.7h11.5v5.0h-11.5zM1624.2 286.8h11.5v5.0h-11.5zM1624.2 291.8h11.5v5.0h-11.5zM1624.2 321.7h11.5v5.0h-11.5zM1635.7 157.4h11.5v5.0h-11.5zM1681.5 202.2h11.5v5.0h-11.5zM1681.5 227.1h11.5v5.0h-11.5zM1681.5 252.0h11.5v5.0h-11.5zM1681.5 331.7h11.5v5.0h-11.5zM1681.5 381.5h11.5v5.0h-11.5zM1693.0 122.5h11.5v5.0h-11.5zM1693.0 416.3h11.5v5.0h-11.5zM1704.4 47.8h11.6v5.0h-11.6zM1704.4 301.8h11.6v5.0h-11.6zM1704.4 341.6h11.6v5.0h-11.6z" fill="#ff2e00"/>
<path d="M1395.0 97.6h11.5v5.0h-11.5zM1406.5 192.2h11.5v5.0h-11.5zM1406.5 281.9h11.5v5.0h-11.5zM1417.9 47.8h11.5v5.0h-11.5zM1417.9 102.6h11.5v5.0h-11.5zM1417.9 107.6h11.5v5.0h-11.5zM1417.9 306.8h11.5v5.0h-11.5zM1429.4 152.4h11.5v5.0h-11.5zM1452.3 112.5h11.5v5.0h-11.5zM1452.3 261.9h11.5v5.0h-11.5zM1475.2 466.1h11.5v5.0h-11.5zM1486.7 396.4h11.5v5.0h-11.5zM1498.1 167.3h11.5v5.0h-11.5zM1498.1 222.1h11.5v5.0h-11.5zM1498.1 416.3h11.5v5.0h-11.5zM1498.1 471.1h11.5v5.0h-11.5zM1509.6 301.8h11.5v5.0h-11.5zM1521.1 147.4h11.5v5.0h-11.5zM1521.1 172.3h11.5v5.0h-11.5zM1532.5 152.4h11.5v5.0h-11.5zM1532.5 172.3h11.5v5.0h-11.5zM1532.5 192.2h11.5v5.0h-11.5zM1544.0 386.4h11.5v5.0h-11.5zM1555.4 371.5h11.5v5.0h-11.5zM1566.9 122.5h11.5v5.0h-11.5zM1578.4 92.6h11.5v5.0h-11.5zM1612.7 47.8h11.5v5.0h-11.5zM1612.7 62.7h11.5v5.0h-11.5zM1612.7 376.5h11.5v5.0h-11.5zM1624.2 361.5h11.5v5.0h-11.5zM1624.2 366.5h11.5v5.0h-11.5zM1647.1 72.7h11.5v5.0h-11.5zM1658.6 122.5h11.5v5.0h-11.5zM1658.6 421.3h11.5v5.0h-11.5zM1670.0 217.1h11.5v5.0h-11.5zM1670.0 381.5h11.5v5.0h-11.5zM1681.5 147.4h11.5v5.0h-11.5zM1681.5 316.7h11.5v5.0h-11.5zM1681.5 406.4h11.5v5.0h-11.5zM1681.5 426.3h11.5v5.0h-11.5zM1704.4 192.2h11.6v5.0h-11.6z" fill="#ff4300"/>
<path d="M1395.0 107.6h11.5v5.0h-11.5z" fill="#dc0000"/>
<path d="M1395.0 122.5h11.5v5.0h-11.5zM1395.0 127.5h11.5v5.0h-11.5zM1440.8 62.7h11.5v5.0h-11.5zM1475.2 356.6h11.5v5.0h-11.5zM1498.1 137.4h11.5v5.0h-11.5zM1509.6 426.3h11.5v5.0h-11.5zM1544.0 261.9h11.5v5.0h-11.5zM1670.0 197.2h11.5v5.0h-11.5z" fill="#ff2000"/>
<path d="M1395.0 132.5h11.5v5.0h-11.5zM1395.0 351.6h11.5v5.0h-11.5zM1406.5 82.7h11.5v5.0h-11.5zM1417.9 187.2h11.5v5.0h-11.5zM1475.2 222.1h11.5v5.0h-11.5zM1486.7 57.8h11.5v5.0h-11.5zM1486.7 466.1h11.5v5.0h-11.5zM1509.6 232.1h11.5v5.0h-11.5zM1532.5 321.7h11.5v5.0h-11.5zM1555.4 127.5h11.5v5.0h-11.5zM1566.9 192.2h11.5v5.0h-11.5zM1566.9 266.9h11.5v5.0h-11.5zM1578.4 47.8h11.5v5.0h-11.5zM1578.4 52.8h11.5v5.0h-11.5zM1578.4 286.8h11.5v5.0h-11.5zM1578.4 356.6h11.5v5.0h-11.5zM1589.8 222.1h11.5v5.0h-11.5zM1601.3 361.5h11.5v5.0h-11.5zM1624.2 122.5h11.5v5.0h-11.5zM1624.2 376.5h11.5v5.0h-11.5zM1658.6 396.4h11.5v5.0h-11.5zM1681.5 62.7h11.5v5.0h-11.5z" fill="#ff2a00"/>
<path d="M1395.0 142.4h11.5v5.0h-11.5zM1429.4 326.7h11.5v5.0h-11.5zM1429.4 421.3h11.5v5.0h-11.5zM1440.8 456.2h11.5v5.0h-11.5zM1452.3 341.6h11.5v5.0h-11.5zM1463.8 132.5h11.5v5.0h-11.5zM1486.7 336.6h11.5v5.0h-11.5zM1509.6 366.5h11.5v5.0h-11.5zM1566.9 311.7h11.5v5.0h-11.5zM1589.8 416.3h11.5v5.0h-11.5zM1624.2 411.3h11.5v5.0h-11.5zM1635.7 301.8h11.5v5.0h-11.5zM1647.1 137.4h11.5v5.0h-11.5zM1647.1 436.2h11.5v5.0h-11.5zM1647.1 451.2h11.5v5.0h-11.5zM1647.1 461.1h11.5v5.0h-11.5zM1704.4 466.1h11.6v5.0h-11.6z" fill="#ff5f00"/>
<path d="M1395.0 172.3h11.5v5.0h-11.5zM1395.0 227.1h11.5v5.0h-11.5zM1601.3 187.2h11.5v5.0h-11.5z" fill="#da0000"/>
<path d="M1395.0 177.3h11.5v5.0h-11.5zM1475.2 187.2h11.5v5.0h-11.5zM1498.1 271.9h11.5v5.0h-11.5zM1635.7 43.5h11.5v4.3h-11.5z" fill="#ff0f00"/>
<path d="M1395.0 182.3h11.5v5.0h-11.5zM1498.1 376.5h11.5v5.0h-11.5zM1544.0 92.6h11.5v5.0h-11.5zM1544.0 97.6h11.5v5.0h-11.5zM1544.0 411.3h11.5v5.0h-11.5zM1670.0 441.2h11.5v5.0h-11.5z" fill="#ff1700"/>
<path d="M1395.0 187.2h11.5v5.0h-11.5zM1395.0 242.0h11.5v5.0h-11.5zM1406.5 306.8h11.5v5.0h-11.5zM1417.9 162.3h11.5v5.0h-11.5zM1429.4 112.5h11.5v5.0h-11.5zM1475.2 227.1h11.5v5.0h-11.5zM1475.2 306.8h11.5v5.0h-11.5zM1509.6 436.2h11.5v5.0h-11.5zM1509.6 476.1h11.5v2.9h-11.5zM1532.5 406.4h11.5v5.0h-11.5zM1532.5 426.3h11.5v5.0h-11.5zM1544.0 416.3h11.5v5.0h-11.5zM1555.4 381.5h11.5v5.0h-11.5zM1658.6 431.3h11.5v5.0h-11.5zM1693.0 182.3h11.5v5.0h-11.5z" fill="#ff2500"/>
<path d="M1395.0 212.1h11.5v5.0h-11.5zM1395.0 232.1h11.5v5.0h-11.5zM1395.0 366.5h11.5v5.0h-11.5zM1406.5 446.2h11.5v5.0h-11.5zM1429.4 212.1h11.5v5.0h-11.5zM1440.8 132.5h11.5v5.0h-11.5zM1440.8 137.4h11.5v5.0h-11.5zM1440.8 142.4h11.5v5.0h-11.5zM1452.3 252.0h11.5v5.0h-11.5zM1475.2 441.2h11.5v5.0h-11.5zM1486.7 82.7h11.5v5.0h-11.5zM1486.7 351.6h11.5v5.0h-11.5zM1509.6 296.8h11.5v5.0h-11.5zM1509.6 361.5h11.5v5.0h-11.5zM1521.1 207.2h11.5v5.0h-11.5zM1521.1 311.7h11.5v5.0h-11.5zM1544.0 132.5h11.5v5.0h-11.5zM1544.0 142.4h11.5v5.0h-11.5zM1544.0 147.4h11.5v5.0h-11.5zM1544.0 167.3h11.5v5.0h-11.5zM1544.0 197.2h11.5v5.0h-11.5zM1555.4 247.0h11.5v5.0h-11.5zM1555.4 446.2h11.5v5.0h-11.5zM1566.9 67.7h11.5v5.0h-11.5zM1566.9 371.5h11.5v5.0h-11.5zM1566.9 406.4h11.5v5.0h-11.5zM1578.4 43.5h11.5v4.3h-11.5zM1589.8 321.7h11.5v5.0h-11.5zM1601.3 117.5h11.5v5.0h-11.5zM1601.3 157.4h11.5v5.0h-11.5zM1601.3 321.7h11.5v5.0h-11.5zM1612.7 52.8h11.5v5.0h-11.5zM1612.7 281.9h11.5v5.0h-11.5zM1612.7 431.3h11.5v5.0h-11.5zM1624.2 261.9h11.5v5.0h-11.5zM1624.2 421.3h11.5v5.0h-11.5zM1647.1 43.5h11.5v4.3h-11.5zM1658.6 197.2h11.5v5.0h-11.5zM1658.6 471.1h11.5v5.0h-11.5zM1670.0 112.5h11.5v5.0h-11.5zM1681.5 391.4h11.5v5.0h-11.5zM1681.5 401.4h11.5v5.0h-11.5zM1704.4 142.4h11.6v5.0h-11.6z" fill="#ff4b00"/>
<path d="M1395.0 222.1h11.5v5.0h-11.5zM1429.4 456.2h11.5v5.0h-11.5zM1440.8 311.7h11.5v5.0h-11.5zM1463.8 406.4h11.5v5.0h-11.5zM1463.8 411.3h11.5v5.0h-11.5zM1463.8 436.2h11.5v5.0h-11.5zM1521.1 132.5h11.5v5.0h-11.5zM1566.9 132.5h11.5v5.0h-11.5zM1589.8 476.1h11.5v2.9h-11.5zM1601.3 476.1h11.5v2.9h-11.5zM1612.7 476.1h11.5v2.9h-11.5zM1624.2 431.3h11.5v5.0h-11.5zM1635.7 326.7h11.5v5.0h-11.5zM1635.7 361.5h11.5v5.0h-11.5zM1647.1 132.5h11.5v5.0h-11.5zM1658.6 296.8h11.5v5.0h-11.5zM1693.0 391.4h11.5v5.0h-11.5zM1704.4 461.1h11.6v5.0h-11.6z" fill="#ff5e00"/>
<path d="M1395.0 237.0h11.5v5.0h-11.5z" fill="#cf0000"/>
<path d="M1395.0 271.9h11.5v5.0h-11.5zM1395.0 441.2h11.5v5.0h-11.5zM1406.5 52.8h11.5v5.0h-11.5zM1417.9 227.1h11.5v5.0h-11.5zM1417.9 281.9h11.5v5.0h-11.5zM1417.9 346.6h11.5v5.0h-11.5zM1429.4 142.4h11.5v5.0h-11.5zM1429.4 252.0h11.5v5.0h-11.5zM1429.4 257.0h11.5v5.0h-11.5zM1475.2 142.4h11.5v5.0h-11.5zM1486.7 381.5h11.5v5.0h-11.5zM1498.1 242.0h11.5v5.0h-11.5zM1498.1 286.8h11.5v5.0h-11.5zM1498.1 466.1h11.5v5.0h-11.5zM1521.1 471.1h11.5v5.0h-11.5zM1532.5 157.4h11.5v5.0h-11.5zM1532.5 257.0h11.5v5.0h-11.5zM1532.5 366.5h11.5v5.0h-11.5zM1544.0 52.8h11.5v5.0h-11.5zM1544.0 331.7h11.5v5.0h-11.5zM1555.4 391.4h11.5v5.0h-11.5zM1566.9 162.3h11.5v5.0h-11.5zM1589.8 152.4h11.5v5.0h-11.5zM1589.8 237.0h11.5v5.0h-11.5zM1612.7 316.7h11.5v5.0h-11.5zM1635.7 72.7h11.5v5.0h-11.5zM1635.7 117.5h11.5v5.0h-11.5zM1635.7 127.5h11.5v5.0h-11.5zM1658.6 391.4h11.5v5.0h-11.5zM1658.6 436.2h11.5v5.0h-11.5zM1670.0 212.1h11.5v5.0h-11.5zM1670.0 261.9h11.5v5.0h-11.5zM1681.5 122.5h11.5v5.0h-11.5zM1681.5 207.2h11.5v5.0h-11.5zM1693.0 172.3h11.5v5.0h-11.5zM1693.0 376.5h11.5v5.0h-11.5zM1693.0 426.3h11.5v5.0h-11.5zM1693.0 466.1h11.5v5.0h-11.5zM1704.4 152.4h11.6v5.0h-11.6zM1704.4 197.2h11.6v5.0h-11.6zM1704.4 331.7h11.6v5.0h-11.6zM1704.4 351.6h11.6v5.0h-11.6zM1704.4 361.5h11.6v5.0h-11.6z" fill="#ff2d00"/>
<path d="M1395.0 281.9h11.5v5.0h-11.5zM1417.9 72.7h11.5v5.0h-11.5zM1429.4 162.3h11.5v5.0h-11.5zM1440.8 301.8h11.5v5.0h-11.5zM1440.8 466.1h11.5v5.0h-11.5zM1452.3 286.8h11.5v5.0h-11.5zM1463.8 421.3h11.5v5.0h-11.5zM1463.8 466.1h11.5v5.0h-11.5zM1521.1 212.1h11.5v5.0h-11.5zM1566.9 147.4h11.5v5.0h-11.5zM1578.4 411.3h11.5v5.0h-11.5zM1578.4 426.3h11.5v5.0h-11.5zM1578.4 441.2h11.5v5.0h-11.5zM1578.4 471.1h11.5v5.0h-11.5zM1601.3 416.3h11.5v5.0h-11.5zM1612.7 461.1h11.5v5.0h-11.5zM1635.7 461.1h11.5v5.0h-11.5zM1647.1 57.8h11.5v5.0h-11.5zM1647.1 97.6h11.5v5.0h-11.5zM1647.1 107.6h11.5v5.0h-11.5zM1658.6 202.2h11.5v5.0h-11.5zM1670.0 172.3h11.5v5.0h-11.5z" fill="#ff5400"/>
<path d="M1395.0 296.8h11.5v5.0h-11.5zM1395.0 331.7h11.5v5.0h-11.5zM1395.0 371.5h11.5v5.0h-11.5zM1417.9 132.5h11.5v5.0h-11.5zM1440.8 222.1h11.5v5.0h-11.5zM1440.8 286.8h11.5v5.0h-11.5zM1452.3 117.5h11.5v5.0h-11.5zM1452.3 192.2h11.5v5.0h-11.5zM1475.2 82.7h11.5v5.0h-11.5zM1475.2 152.4h11.5v5.0h-11.5zM1475.2 197.2h11.5v5.0h-11.5zM1486.7 47.8h11.5v5.0h-11.5zM1486.7 77.7h11.5v5.0h-11.5zM1486.7 286.8h11.5v5.0h-11.5zM1486.7 306.8h11.5v5.0h-11.5zM1498.1 122.5h11.5v5.0h-11.5zM1498.1 386.4h11.5v5.0h-11.5zM1498.1 406.4h11.5v5.0h-11.5zM1509.6 381.5h11.5v5.0h-11.5zM1509.6 396.4h11.5v5.0h-11.5zM1509.6 456.2h11.5v5.0h-11.5zM1521.1 92.6h11.5v5.0h-11.5zM1521.1 97.6h11.5v5.0h-11.5zM1521.1 247.0h11.5v5.0h-11.5zM1521.1 381.5h11.5v5.0h-11.5zM1521.1 431.3h11.5v5.0h-11.5zM1532.5 296.8h11.5v5.0h-11.5zM1544.0 62.7h11.5v5.0h-11.5zM1544.0 117.5h11.5v5.0h-11.5zM1544.0 436.2h11.5v5.0h-11.5zM1544.0 461.1h11.5v5.0h-11.5zM1555.4 476.1h11.5v2.9h-11.5zM1566.9 92.6h11.5v5.0h-11.5zM1578.4 296.8h11.5v5.0h-11.5zM1601.3 122.5h11.5v5.0h-11.5zM1601.3 172.3h11.5v5.0h-11.5zM1601.3 232.1h11.5v5.0h-11.5zM1601.3 276.9h11.5v5.0h-11.5zM1601.3 346.6h11.5v5.0h-11.5zM1612.7 147.4h11.5v5.0h-11.5zM1612.7 187.2h11.5v5.0h-11.5zM1612.7 257.0h11.5v5.0h-11.5zM1635.7 172.3h11.5v5.0h-11.5zM1635.7 182.3h11.5v5.0h-11.5zM1658.6 386.4h11.5v5.0h-11.5zM1670.0 127.5h11.5v5.0h-11.5zM1670.0 376.5h11.5v5.0h-11.5zM1681.5 142.4h11.5v5.0h-11.5zM1681.5 306.8h11.5v5.0h-11.5zM1693.0 281.9h11.5v5.0h-11.5z" fill="#ff3b00"/>
<path d="M1395.0 341.6h11.5v5.0h-11.5z" fill="#ec0000"/>
<path d="M1395.0 346.6h11.5v5.0h-11.5zM1406.5 122.5h11.5v5.0h-11.5zM1417.9 147.4h11.5v5.0h-11.5zM1452.3 97.6h11.5v5.0h-11.5zM1486.7 446.2h11.5v5.0h-11.5zM1532.5 466.1h11.5v5.0h-11.5zM1544.0 257.0h11.5v5.0h-11.5zM1555.4 137.4h11.5v5.0h-11.5zM1566.9 281.9h11.5v5.0h-11.5zM1589.8 276.9h11.5v5.0h-11.5zM1589.8 381.5h11.5v5.0h-11.5zM1681.5 237.0h11.5v5.0h-11.5zM1693.0 187.2h11.5v5.0h-11.5zM1704.4 202.2h11.6v5.0h-11.6z" fill="#ff1c00"/>
<path d="M1395.0 396.4h11.5v5.0h-11.5zM1452.3 361.5h11.5v5.0h-11.5zM1463.8 182.3h11.5v5.0h-11.5zM1532.5 47.8h11.5v5.0h-11.5z" fill="#ff7000"/>
<path d="M1395.0 401.4h11.5v5.0h-11.5zM1452.3 391.4h11.5v5.0h-11.5z" fill="#ffa400"/>
<path d="M1395.0 436.2h11.5v5.0h-11.5z" fill="#d80000"/>
<path d="M1406.5 43.5h11.5v4.3h-11.5zM1440.8 426.3h11.5v5.0h-11.5zM1452.3 436.2h11.5v5.0h-11.5z" fill="#ff6c00"/>
<path d="M1406.5 67.7h11.5v5.0h-11.5z" fill="#e80000"/>
<path d="M1406.5 87.6h11.5v5.0h-11.5zM1406.5 117.5h11.5v5.0h-11.5zM1475.2 107.6h11.5v5.0h-11.5zM1601.3 242.0h11.5v5.0h-11.5zM1612.7 301.8h11.5v5.0h-11.5zM1670.0 276.9h11.5v5.0h-11.5zM1670.0 331.7h11.5v5.0h-11.5zM1681.5 57.8h11.5v5.0h-11.5zM1681.5 242.0h11.5v5.0h-11.5zM1681.5 416.3h11.5v5.0h-11.5zM1681.5 436.2h11.5v5.0h-11.5zM1704.4 252.0h11.6v5.0h-11.6z" fill="#ff2200"/>
<path d="M1406.5 107.6h11.5v5.0h-11.5zM1417.9 167.3h11.5v5.0h-11.5zM1475.2 137.4h11.5v5.0h-11.5zM1475.2 311.7h11.5v5.0h-11.5zM1486.7 127.5h11.5v5.0h-11.5zM1498.1 291.8h11.5v5.0h-11.5zM1498.1 321.7h11.5v5.0h-11.5zM1532.5 72.7h11.5v5.0h-11.5zM1532.5 266.9h11.5v5.0h-11.5zM1532.5 276.9h11.5v5.0h-11.5zM1532.5 396.4h11.5v5.0h-11.5zM1544.0 266.9h11.5v5.0h-11.5zM1544.0 291.8h11.5v5.0h-11.5zM1544.0 476.1h11.5v2.9h-11.5zM1578.4 281.9h11.5v5.0h-11.5zM1589.8 177.3h11.5v5.0h-11.5zM1589.8 341.6h11.5v5.0h-11.5zM1601.3 227.1h11.5v5.0h-11.5zM1624.2 112.5h11.5v5.0h-11.5zM1624.2 142.4h11.5v5.0h-11.5zM1681.5 117.5h11.5v5.0h-11.5zM1693.0 112.5h11.5v5.0h-11.5zM1693.0 217.1h11.5v5.0h-11.5zM1693.0 257.0h11.5v5.0h-11.5zM1693.0 361.5h11.5v5.0h-11.5zM1704.4 321.7h11.6v5.0h-11.6z" fill="#ff2600"/>
<path d="M1406.5 112.5h11.5v5.0h-11.5zM1406.5 137.4h11.5v5.0h-11.5zM1417.9 157.4h11.5v5.0h-11.5zM1440.8 242.0h11.5v5.0h-11.5zM1475.2 217.1h11.5v5.0h-11.5zM1475.2 351.6h11.5v5.0h-11.5zM1486.7 162.3h11.5v5.0h-11.5zM1498.1 431.3h11.5v5.0h-11.5zM1521.1 82.7h11.5v5.0h-11.5zM1532.5 202.2h11.5v5.0h-11.5zM1532.5 306.8h11.5v5.0h-11.5zM1544.0 252.0h11.5v5.0h-11.5zM1544.0 286.8h11.5v5.0h-11.5zM1544.0 336.6h11.5v5.0h-11.5zM1566.9 276.9h11.5v5.0h-11.5zM1578.4 57.8h11.5v5.0h-11.5zM1578.4 142.4h11.5v5.0h-11.5zM1589.8 82.7h11.5v5.0h-11.5zM1589.8 212.1h11.5v5.0h-11.5zM1589.8 296.8h11.5v5.0h-11.5zM1601.3 351.6h11.5v5.0h-11.5zM1612.7 266.9h11.5v5.0h-11.5zM1658.6 62.7h11.5v5.0h-11.5zM1670.0 291.8h11.5v5.0h-11.5zM1670.0 366.5h11.5v5.0h-11.5zM1670.0 466.1h11.5v5.0h-11.5zM1681.5 52.8h11.5v5.0h-11.5zM1681.5 232.1h11.5v5.0h-11.5zM1693.0 436.2h11.5v5.0h-11.5zM1704.4 43.5h11.6v4.3h-11.6z" fill="#ff2700"/>
<path d="M1406.5 132.5h11.5v5.0h-11.5zM1406.5 316.7h11.5v5.0h-11.5zM1498.1 461.1h11.5v5.0h-11.5zM1521.1 336.6h11.5v5.0h-11.5zM1624.2 276.9h11.5v5.0h-11.5zM1635.7 52.8h11.5v5.0h-11.5zM1681.5 247.0h11.5v5.0h-11.5z" fill="#ff1f00"/>
<path d="M1406.5 247.0h11.5v5.0h-11.5zM1429.4 381.5h11.5v5.0h-11.5zM1429.4 426.3h11.5v5.0h-11.5zM1429.4 461.1h11.5v5.0h-11.5zM1440.8 336.6h11.5v5.0h-11.5zM1440.8 376.5h11.5v5.0h-11.5zM1440.8 386.4h11.5v5.0h-11.5zM1452.3 456.2h11.5v5.0h-11.5zM1452.3 466.1h11.5v5.0h-11.5zM1463.8 142.4h11.5v5.0h-11.5zM1463.8 441.2h11.5v5.0h-11.5zM1589.8 411.3h11.5v5.0h-11.5zM1624.2 416.3h11.5v5.0h-11.5zM1635.7 456.2h11.5v5.0h-11.5zM1681.5 461.1h11.5v5.0h-11.5z" fill="#ff6000"/>
<path d="M1406.5 266.9h11.5v5.0h-11.5z" fill="#e30000"/>
<path d="M1406.5 271.9h11.5v5.0h-11.5zM1417.9 326.7h11.5v5.0h-11.5zM1429.4 57.8h11.5v5.0h-11.5zM1429.4 371.5h11.5v5.0h-11.5zM1440.8 326.7h11.5v5.0h-11.5zM1440.8 341.6h11.5v5.0h-11.5zM1440.8 476.1h11.5v2.9h-11.5zM1475.2 411.3h11.5v5.0h-11.5zM1486.7 476.1h11.5v2.9h-11.5zM1589.8 426.3h11.5v5.0h-11.5zM1601.3 446.2h11.5v5.0h-11.5zM1612.7 122.5h11.5v5.0h-11.5zM1647.1 466.1h11.5v5.0h-11.5zM1647.1 471.1h11.5v5.0h-11.5zM1658.6 461.1h11.5v5.0h-11.5z" fill="#ff5c00"/>
<path d="M1406.5 296.8h11.5v5.0h-11.5zM1406.5 341.6h11.5v5.0h-11.5zM1417.9 271.9h11.5v5.0h-11.5zM1440.8 82.7h11.5v5.0h-11.5zM1440.8 271.9h11.5v5.0h-11.5zM1452.3 172.3h11.5v5.0h-11.5zM1486.7 311.7h11.5v5.0h-11.5zM1509.6 197.2h11.5v5.0h-11.5zM1521.1 321.7h11.5v5.0h-11.5zM1521.1 406.4h11.5v5.0h-11.5zM1532.5 182.3h11.5v5.0h-11.5zM1555.4 57.8h11.5v5.0h-11.5zM1555.4 122.5h11.5v5.0h-11.5zM1555.4 152.4h11.5v5.0h-11.5zM1555.4 162.3h11.5v5.0h-11.5zM1555.4 197.2h11.5v5.0h-11.5zM1578.4 72.7h11.5v5.0h-11.5zM1578.4 301.8h11.5v5.0h-11.5zM1589.8 102.6h11.5v5.0h-11.5zM1589.8 217.1h11.5v5.0h-11.5zM1589.8 316.7h11.5v5.0h-11.5zM1601.3 132.5h11.5v5.0h-11.5zM1612.7 261.9h11.5v5.0h-11.5zM1635.7 87.6h11.5v5.0h-11.5zM1635.7 132.5h11.5v5.0h-11.5zM1635.7 187.2h11.5v5.0h-11.5zM1670.0 296.8h11.5v5.0h-11.5zM1670.0 461.1h11.5v5.0h-11.5zM1681.5 43.5h11.5v4.3h-11.5zM1681.5 217.1h11.5v5.0h-11.5zM1693.0 381.5h11.5v5.0h-11.5zM1704.4 316.7h11.6v5.0h-11.6z" fill="#ff3100"/>
<path d="M1406.5 391.4h11.5v5.0h-11.5zM1406.5 436.2h11.5v5.0h-11.5zM1429.4 207.2h11.5v5.0h-11.5zM1440.8 207.2h11.5v5.0h-11.5zM1486.7 356.6h11.5v5.0h-11.5zM1498.1 197.2h11.5v5.0h-11.5zM1498.1 266.9h11.5v5.0h-11.5zM1498.1 276.9h11.5v5.0h-11.5zM1498.1 341.6h11.5v5.0h-11.5zM1509.6 257.0h11.5v5.0h-11.5zM1509.6 291.8h11.5v5.0h-11.5zM1544.0 152.4h11.5v5.0h-11.5zM1544.0 346.6h11.5v5.0h-11.5zM1555.4 242.0h11.5v5.0h-11.5zM1566.9 47.8h11.5v5.0h-11.5zM1566.9 346.6h11.5v5.0h-11.5zM1566.9 416.3h11.5v5.0h-11.5zM1566.9 476.1h11.5v2.9h-11.5zM1578.4 451.2h11.5v5.0h-11.5zM1612.7 87.6h11.5v5.0h-11.5zM1612.7 92.6h11.5v5.0h-11.5zM1612.7 271.9h11.5v5.0h-11.5zM1658.6 321.7h11.5v5.0h-11.5zM1658.6 326.7h11.5v5.0h-11.5zM1658.6 366.5h11.5v5.0h-11.5zM1681.5 167.3h11.5v5.0h-11.5zM1693.0 351.6h11.5v5.0h-11.5zM1704.4 137.4h11.6v5.0h-11.6zM1704.4 476.1h11.6v2.9h-11.6z" fill="#ff4e00"/>
<path d="M1406.5 396.4h11.5v5.0h-11.5zM1463.8 187.2h11.5v5.0h-11.5zM1647.1 177.3h11.5v5.0h-11.5zM1647.1 192.2h11.5v5.0h-11.5zM1647.1 212.1h11.5v5.0h-11.5z" fill="#ff7a00"/>
<path d="M1406.5 401.4h11.5v5.0h-11.5z" fill="#ffaf00"/>
<path d="M1406.5 426.3h11.5v5.0h-11.5z" fill="#f50000"/>
<path d="M1406.5 441.2h11.5v5.0h-11.5zM1417.9 261.9h11.5v5.0h-11.5zM1417.9 336.6h11.5v5.0h-11.5zM1429.4 172.3h11.5v5.0h-11.5zM1452.3 127.5h11.5v5.0h-11.5zM1475.2 257.0h11.5v5.0h-11.5zM1475.2 416.3h11.5v5.0h-11.5zM1486.7 271.9h11.5v5.0h-11.5zM1486.7 331.7h11.5v5.0h-11.5zM1498.1 107.6h11.5v5.0h-11.5zM1498.1 112.5h11.5v5.0h-11.5zM1521.1 117.5h11.5v5.0h-11.5zM1521.1 137.4h11.5v5.0h-11.5zM1532.5 97.6h11.5v5.0h-11.5zM1555.4 97.6h11.5v5.0h-11.5zM1555.4 107.6h11.5v5.0h-11.5zM1566.9 207.2h11.5v5.0h-11.5zM1566.9 336.6h11.5v5.0h-11.5zM1566.9 341.6h11.5v5.0h-11.5zM1578.4 117.5h11.5v5.0h-11.5zM1578.4 122.5h11.5v5.0h-11.5zM1578.4 436.2h11.5v5.0h-11.5zM1578.4 461.1h11.5v5.0h-11.5zM1578.4 476.1h11.5v2.9h-11.5zM1601.3 316.7h11.5v5.0h-11.5zM1612.7 366.5h11.5v5.0h-11.5zM1612.7 426.3h11.5v5.0h-11.5zM1624.2 351.6h11.5v5.0h-11.5zM1624.2 456.2h11.5v5.0h-11.5zM1635.7 421.3h11.5v5.0h-11.5zM1647.1 67.7h11.5v5.0h-11.5zM1647.1 426.3h11.5v5.0h-11.5zM1658.6 77.7h11.5v5.0h-11.5zM1658.6 286.8h11.5v5.0h-11.5zM1658.6 361.5h11.5v5.0h-11.5zM1658.6 381.5h11.5v5.0h-11.5zM1681.5 271.9h11.5v5.0h-11.5zM1681.5 351.6h11.5v5.0h-11.5zM1704.4 107.6h11.6v5.0h-11.6zM1704.4 451.2h11.6v5.0h-11.6z" fill="#ff5000"/>
<path d="M1417.9 202.2h11.5v5.0h-11.5z" fill="#d90000"/>
<path d="M1417.9 331.7h11.5v5.0h-11.5zM1429.4 411.3h11.5v5.0h-11.5zM1440.8 152.4h11.5v5.0h-11.5zM1440.8 316.7h11.5v5.0h-11.5zM1452.3 441.2h11.5v5.0h-11.5zM1463.8 137.4h11.5v5.0h-11.5zM1463.8 416.3h11.5v5.0h-11.5zM1612.7 127.5h11.5v5.0h-11.5zM1647.1 102.6h11.5v5.0h-11.5zM1658.6 456.2h11.5v5.0h-11.5zM1681.5 451.2h11.5v5.0h-11.5z" fill="#ff6200"/>
<path d="M1417.9 391.4h11.5v5.0h-11.5zM1475.2 207.2h11.5v5.0h-11.5zM1475.2 261.9h11.5v5.0h-11.5zM1486.7 266.9h11.5v5.0h-11.5zM1486.7 456.2h11.5v5.0h-11.5zM1498.1 162.3h11.5v5.0h-11.5zM1498.1 336.6h11.5v5.0h-11.5zM1509.6 137.4h11.5v5.0h-11.5zM1521.1 67.7h11.5v5.0h-11.5zM1521.1 446.2h11.5v5.0h-11.5zM1544.0 162.3h11.5v5.0h-11.5zM1544.0 361.5h11.5v5.0h-11.5zM1544.0 396.4h11.5v5.0h-11.5zM1555.4 102.6h11.5v5.0h-11.5zM1566.9 212.1h11.5v5.0h-11.5zM1589.8 47.8h11.5v5.0h-11.5zM1589.8 187.2h11.5v5.0h-11.5zM1601.3 67.7h11.5v5.0h-11.5zM1601.3 261.9h11.5v5.0h-11.5zM1612.7 77.7h11.5v5.0h-11.5zM1612.7 172.3h11.5v5.0h-11.5zM1612.7 381.5h11.5v5.0h-11.5zM1624.2 446.2h11.5v5.0h-11.5zM1658.6 172.3h11.5v5.0h-11.5zM1658.6 306.8h11.5v5.0h-11.5zM1681.5 107.6h11.5v5.0h-11.5zM1693.0 227.1h11.5v5.0h-11.5zM1693.0 271.9h11.5v5.0h-11.5zM1693.0 336.6h11.5v5.0h-11.5zM1693.0 396.4h11.5v5.0h-11.5zM1704.4 62.7h11.6v5.0h-11.6zM1704.4 242.0h11.6v5.0h-11.6z" fill="#ff4c00"/>
<path d="M1417.9 396.4h11.5v5.0h-11.5zM1452.3 311.7h11.5v5.0h-11.5zM1647.1 157.4h11.5v5.0h-11.5zM1647.1 172.3h11.5v5.0h-11.5zM1647.1 207.2h11.5v5.0h-11.5z" fill="#ff7100"/>
<path d="M1417.9 401.4h11.5v5.0h-11.5z" fill="#ffa600"/>
<path d="M1417.9 411.3h11.5v5.0h-11.5zM1658.6 446.2h11.5v5.0h-11.5z" fill="#fa0000"/>
<path d="M1417.9 441.2h11.5v5.0h-11.5zM1452.3 326.7h11.5v5.0h-11.5zM1612.7 396.4h11.5v5.0h-11.5z" fill="#ff6f00"/>
<path d="M1417.9 471.1h11.5v5.0h-11.5zM1440.8 182.3h11.5v5.0h-11.5zM1589.8 227.1h11.5v5.0h-11.5zM1635.7 47.8h11.5v5.0h-11.5zM1670.0 202.2h11.5v5.0h-11.5zM1681.5 441.2h11.5v5.0h-11.5z" fill="#ff1600"/>
<path d="M1429.4 117.5h11.5v5.0h-11.5zM1475.2 456.2h11.5v5.0h-11.5zM1486.7 157.4h11.5v5.0h-11.5zM1521.1 476.1h11.5v2.9h-11.5zM1578.4 266.9h11.5v5.0h-11.5zM1589.8 107.6h11.5v5.0h-11.5zM1693.0 192.2h11.5v5.0h-11.5z" fill="#ff1900"/>
<path d="M1429.4 192.2h11.5v5.0h-11.5zM1475.2 242.0h11.5v5.0h-11.5zM1498.1 252.0h11.5v5.0h-11.5zM1544.0 466.1h11.5v5.0h-11.5zM1589.8 386.4h11.5v5.0h-11.5zM1624.2 252.0h11.5v5.0h-11.5z" fill="#ff1800"/>
<path d="M1429.4 261.9h11.5v5.0h-11.5zM1475.2 92.6h11.5v5.0h-11.5zM1521.1 331.7h11.5v5.0h-11.5zM1589.8 266.9h11.5v5.0h-11.5zM1670.0 52.8h11.5v5.0h-11.5zM1681.5 127.5h11.5v5.0h-11.5z" fill="#ff1300"/>
<path d="M1429.4 321.7h11.5v5.0h-11.5zM1429.4 331.7h11.5v5.0h-11.5zM1429.4 446.2h11.5v5.0h-11.5zM1452.3 316.7h11.5v5.0h-11.5zM1452.3 426.3h11.5v5.0h-11.5zM1463.8 431.3h11.5v5.0h-11.5zM1612.7 446.2h11.5v5.0h-11.5zM1647.1 152.4h11.5v5.0h-11.5zM1647.1 162.3h11.5v5.0h-11.5zM1670.0 152.4h11.5v5.0h-11.5z" fill="#ff6800"/>
<path d="M1429.4 356.6h11.5v5.0h-11.5zM1463.8 177.3h11.5v5.0h-11.5zM1647.1 441.2h11.5v5.0h-11.5z" fill="#ff7300"/>
<path d="M1429.4 366.5h11.5v5.0h-11.5zM1429.4 436.2h11.5v5.0h-11.5zM1429.4 451.2h11.5v5.0h-11.5zM1440.8 147.4h11.5v5.0h-11.5zM1440.8 406.4h11.5v5.0h-11.5zM1452.3 276.9h11.5v5.0h-11.5zM1463.8 147.4h11.5v5.0h-11.5zM1532.5 112.5h11.5v5.0h-11.5zM1578.4 242.0h11.5v5.0h-11.5zM1578.4 252.0h11.5v5.0h-11.5zM1601.3 147.4h11.5v5.0h-11.5zM1635.7 436.2h11.5v5.0h-11.5zM1635.7 466.1h11.5v5.0h-11.5zM1647.1 117.5h11.5v5.0h-11.5zM1647.1 122.5h11.5v5.0h-11.5zM1647.1 446.2h11.5v5.0h-11.5zM1658.6 207.2h11.5v5.0h-11.5zM1670.0 222.1h11.5v5.0h-11.5z" fill="#ff5b00"/>
<path d="M1429.4 391.4h11.5v5.0h-11.5zM1452.3 366.5h11.5v5.0h-11.5zM1589.8 396.4h11.5v5.0h-11.5zM1635.7 311.7h11.5v5.0h-11.5zM1647.1 202.2h11.5v5.0h-11.5z" fill="#ff6e00"/>
<path d="M1429.4 396.4h11.5v5.0h-11.5zM1463.8 247.0h11.5v5.0h-11.5zM1624.2 396.4h11.5v5.0h-11.5zM1647.1 182.3h11.5v5.0h-11.5z" fill="#ff7800"/>
<path d="M1429.4 401.4h11.5v5.0h-11.5zM1452.3 381.5h11.5v5.0h-11.5zM1452.3 386.4h11.5v5.0h-11.5z" fill="#ffa200"/>
<path d="M1429.4 466.1h11.5v5.0h-11.5zM1452.3 336.6h11.5v5.0h-11.5zM1463.8 82.7h11.5v5.0h-11.5zM1463.8 92.6h11.5v5.0h-11.5zM1463.8 117.5h11.5v5.0h-11.5zM1463.8 446.2h11.5v5.0h-11.5zM1463.8 456.2h11.5v5.0h-11.5zM1578.4 446.2h11.5v5.0h-11.5zM1578.4 466.1h11.5v5.0h-11.5zM1635.7 341.6h11.5v5.0h-11.5zM1635.7 346.6h11.5v5.0h-11.5z" fill="#ff6300"/>
<path d="M1440.8 52.8h11.5v5.0h-11.5zM1509.6 271.9h11.5v5.0h-11.5z" fill="#dd0000"/>
<path d="M1440.8 117.5h11.5v5.0h-11.5zM1601.3 222.1h11.5v5.0h-11.5z" fill="#fd0000"/>
<path d="M1440.8 381.5h11.5v5.0h-11.5zM1452.3 406.4h11.5v5.0h-11.5zM1463.8 122.5h11.5v5.0h-11.5zM1566.9 466.1h11.5v5.0h-11.5zM1647.1 421.3h11.5v5.0h-11.5zM1704.4 102.6h11.6v5.0h-11.6z" fill="#ff6100"/>
<path d="M1440.8 391.4h11.5v5.0h-11.5zM1463.8 172.3h11.5v5.0h-11.5zM1578.4 391.4h11.5v5.0h-11.5zM1647.1 217.1h11.5v5.0h-11.5z" fill="#ff7900"/>
<path d="M1440.8 396.4h11.5v5.0h-11.5zM1624.2 406.4h11.5v5.0h-11.5zM1647.1 291.8h11.5v5.0h-11.5z" fill="#ff8600"/>
<path d="M1440.8 401.4h11.5v5.0h-11.5zM1452.3 396.4h11.5v5.0h-11.5z" fill="#ffa800"/>
<path d="M1440.8 431.3h11.5v5.0h-11.5zM1647.1 416.3h11.5v5.0h-11.5z" fill="#ff6600"/>
<path d="M1452.3 331.7h11.5v5.0h-11.5zM1463.8 167.3h11.5v5.0h-11.5zM1635.7 321.7h11.5v5.0h-11.5zM1647.1 167.3h11.5v5.0h-11.5z" fill="#ff7200"/>
<path d="M1452.3 346.6h11.5v5.0h-11.5zM1452.3 356.6h11.5v5.0h-11.5zM1463.8 237.0h11.5v5.0h-11.5zM1566.9 456.2h11.5v5.0h-11.5zM1612.7 416.3h11.5v5.0h-11.5zM1635.7 296.8h11.5v5.0h-11.5zM1658.6 276.9h11.5v5.0h-11.5zM1670.0 57.8h11.5v5.0h-11.5z" fill="#ff6500"/>
<path d="M1452.3 351.6h11.5v5.0h-11.5zM1463.8 197.2h11.5v5.0h-11.5zM1566.9 391.4h11.5v5.0h-11.5zM1647.1 232.1h11.5v5.0h-11.5z" fill="#ff7600"/>
<path d="M1452.3 371.5h11.5v5.0h-11.5z" fill="#ffad00"/>
<path d="M1452.3 376.5h11.5v5.0h-11.5z" fill="#ffaa00"/>
<path d="M1452.3 401.4h11.5v5.0h-11.5zM1463.8 371.5h11.5v5.0h-11.5zM1463.8 376.5h11.5v5.0h-11.5zM1566.9 401.4h11.5v5.0h-11.5zM1647.1 271.9h11.5v5.0h-11.5z" fill="#ff9900"/>
<path d="M1463.8 157.4h11.5v5.0h-11.5zM1463.8 227.1h11.5v5.0h-11.5zM1463.8 276.9h11.5v5.0h-11.5zM1612.7 391.4h11.5v5.0h-11.5zM1647.1 187.2h11.5v5.0h-11.5z" fill="#ff7500"/>
<path d="M1463.8 202.2h11.5v5.0h-11.5zM1601.3 396.4h11.5v5.0h-11.5zM1635.7 406.4h11.5v5.0h-11.5zM1647.1 242.0h11.5v5.0h-11.5z" fill="#ff7b00"/>
<path d="M1463.8 207.2h11.5v5.0h-11.5zM1601.3 391.4h11.5v5.0h-11.5zM1647.1 142.4h11.5v5.0h-11.5z" fill="#ff6d00"/>
<path d="M1463.8 212.1h11.5v5.0h-11.5zM1463.8 271.9h11.5v5.0h-11.5zM1463.8 316.7h11.5v5.0h-11.5zM1647.1 222.1h11.5v5.0h-11.5z" fill="#ff7f00"/>
<path d="M1463.8 217.1h11.5v5.0h-11.5zM1463.8 222.1h11.5v5.0h-11.5z" fill="#ff7700"/>
<path d="M1463.8 232.1h11.5v5.0h-11.5zM1647.1 401.4h11.5v5.0h-11.5z" fill="#ff8800"/>
<path d="M1463.8 242.0h11.5v5.0h-11.5z" fill="#ff8c00"/>
<path d="M1463.8 252.0h11.5v5.0h-11.5zM1463.8 366.5h11.5v5.0h-11.5zM1463.8 386.4h11.5v5.0h-11.5zM1601.3 406.4h11.5v5.0h-11.5z" fill="#ff8400"/>
<path d="M1463.8 257.0h11.5v5.0h-11.5z" fill="#ff8200"/>
<path d="M1463.8 261.9h11.5v5.0h-11.5zM1566.9 396.4h11.5v5.0h-11.5z" fill="#ff7c00"/>
<path d="M1463.8 266.9h11.5v5.0h-11.5zM1589.8 406.4h11.5v5.0h-11.5zM1612.7 406.4h11.5v5.0h-11.5z" fill="#ff7e00"/>
<path d="M1463.8 281.9h11.5v5.0h-11.5zM1463.8 296.8h11.5v5.0h-11.5zM1463.8 356.6h11.5v5.0h-11.5zM1647.1 257.0h11.5v5.0h-11.5zM1647.1 346.6h11.5v5.0h-11.5z" fill="#ff9000"/>
<path d="M1463.8 286.8h11.5v5.0h-11.5zM1463.8 336.6h11.5v5.0h-11.5zM1463.8 381.5h11.5v5.0h-11.5zM1647.1 261.9h11.5v5.0h-11.5zM1647.1 396.4h11.5v5.0h-11.5z" fill="#ff9100"/>
<path d="M1463.8 291.8h11.5v5.0h-11.5zM1647.1 252.0h11.5v5.0h-11.5zM1647.1 326.7h11.5v5.0h-11.5zM1647.1 386.4h11.5v5.0h-11.5z" fill="#ff8d00"/>
<path d="M1463.8 301.8h11.5v5.0h-11.5zM1463.8 391.4h11.5v5.0h-11.5zM1647.1 227.1h11.5v5.0h-11.5z" fill="#ff8700"/>
<path d="M1463.8 306.8h11.5v5.0h-11.5zM1463.8 311.7h11.5v5.0h-11.5zM1647.1 266.9h11.5v5.0h-11.5zM1647.1 321.7h11.5v5.0h-11.5z" fill="#ff9200"/>
<path d="M1463.8 321.7h11.5v5.0h-11.5zM1463.8 341.6h11.5v5.0h-11.5zM1578.4 406.4h11.5v5.0h-11.5zM1647.1 301.8h11.5v5.0h-11.5z" fill="#ff8b00"/>
<path d="M1463.8 326.7h11.5v5.0h-11.5zM1647.1 341.6h11.5v5.0h-11.5zM1647.1 376.5h11.5v5.0h-11.5z" fill="#ff9700"/>
<path d="M1463.8 331.7h11.5v5.0h-11.5zM1647.1 331.7h11.5v5.0h-11.5z" fill="#ff9e00"/>
<path d="M1463.8 346.6h11.5v5.0h-11.5zM1647.1 336.6h11.5v5.0h-11.5zM1647.1 371.5h11.5v5.0h-11.5z" fill="#ff9c00"/>
<path d="M1463.8 351.6h11.5v5.0h-11.5z" fill="#ff9800"/>
<path d="M1463.8 361.5h11.5v5.0h-11.5zM1647.1 356.6h11.5v5.0h-11.5z" fill="#ff8a00"/>
<path d="M1463.8 396.4h11.5v5.0h-11.5zM1532.5 43.5h11.5v4.3h-11.5z" fill="#ff8300"/>
<path d="M1463.8 401.4h11.5v5.0h-11.5z" fill="#ff8f00"/>
<path d="M1475.2 232.1h11.5v5.0h-11.5z" fill="#ff0e00"/>
<path d="M1475.2 346.6h11.5v5.0h-11.5zM1486.7 172.3h11.5v5.0h-11.5z" fill="#ee0000"/>
<path d="M1486.7 276.9h11.5v5.0h-11.5zM1498.1 43.5h11.5v4.3h-11.5zM1555.4 466.1h11.5v5.0h-11.5zM1589.8 232.1h11.5v5.0h-11.5zM1624.2 177.3h11.5v5.0h-11.5zM1670.0 207.2h11.5v5.0h-11.5zM1670.0 471.1h11.5v5.0h-11.5z" fill="#ff1200"/>
<path d="M1486.7 301.8h11.5v5.0h-11.5zM1555.4 147.4h11.5v5.0h-11.5zM1555.4 471.1h11.5v5.0h-11.5z" fill="#e60000"/>
<path d="M1498.1 232.1h11.5v5.0h-11.5z" fill="#ff0600"/>
<path d="M1498.1 257.0h11.5v5.0h-11.5zM1509.6 43.5h11.5v4.3h-11.5zM1566.9 97.6h11.5v5.0h-11.5zM1566.9 187.2h11.5v5.0h-11.5zM1578.4 167.3h11.5v5.0h-11.5zM1624.2 281.9h11.5v5.0h-11.5zM1670.0 476.1h11.5v2.9h-11.5zM1693.0 306.8h11.5v5.0h-11.5z" fill="#ff2100"/>
<path d="M1509.6 306.8h11.5v5.0h-11.5zM1670.0 411.3h11.5v5.0h-11.5z" fill="#e70000"/>
<path d="M1509.6 326.7h11.5v5.0h-11.5zM1601.3 142.4h11.5v5.0h-11.5z" fill="#ff0800"/>
<path d="M1509.6 341.6h11.5v5.0h-11.5z" fill="#ff0700"/>
<path d="M1521.1 396.4h11.5v5.0h-11.5zM1555.4 43.5h11.5v4.3h-11.5zM1612.7 247.0h11.5v5.0h-11.5zM1704.4 311.7h11.6v5.0h-11.6z" fill="#f80000"/>
<path d="M1521.1 411.3h11.5v5.0h-11.5zM1555.4 411.3h11.5v5.0h-11.5z" fill="#ff0400"/>
<path d="M1521.1 461.1h11.5v5.0h-11.5z" fill="#f90000"/>
<path d="M1532.5 67.7h11.5v5.0h-11.5zM1601.3 306.8h11.5v5.0h-11.5z" fill="#d70000"/>
<path d="M1532.5 117.5h11.5v5.0h-11.5zM1681.5 366.5h11.5v5.0h-11.5z" fill="#ff1100"/>
<path d="M1532.5 167.3h11.5v5.0h-11.5z" fill="#fb0000"/>
<path d="M1532.5 446.2h11.5v5.0h-11.5zM1658.6 466.1h11.5v5.0h-11.5z" fill="#fc0000"/>
<path d="M1544.0 43.5h11.5v4.3h-11.5zM1635.7 142.4h11.5v5.0h-11.5zM1670.0 386.4h11.5v5.0h-11.5z" fill="#ea0000"/>
<path d="M1544.0 77.7h11.5v5.0h-11.5zM1544.0 401.4h11.5v5.0h-11.5z" fill="#f70000"/>
<path d="M1544.0 242.0h11.5v5.0h-11.5zM1601.3 376.5h11.5v5.0h-11.5zM1658.6 43.5h11.5v4.3h-11.5z" fill="#e20000"/>
<path d="M1555.4 47.8h11.5v5.0h-11.5zM1624.2 132.5h11.5v5.0h-11.5zM1681.5 47.8h11.5v5.0h-11.5z" fill="#ff0c00"/>
<path d="M1555.4 276.9h11.5v5.0h-11.5zM1704.4 431.3h11.6v5.0h-11.6z" fill="#ff0b00"/>
<path d="M1566.9 87.6h11.5v5.0h-11.5zM1578.4 112.5h11.5v5.0h-11.5zM1612.7 112.5h11.5v5.0h-11.5z" fill="#fe0000"/>
<path d="M1578.4 77.7h11.5v5.0h-11.5zM1612.7 102.6h11.5v5.0h-11.5z" fill="#f40000"/>
<path d="M1578.4 396.4h11.5v5.0h-11.5z" fill="#ff7d00"/>
<path d="M1578.4 401.4h11.5v5.0h-11.5zM1647.1 296.8h11.5v5.0h-11.5z" fill="#ff9600"/>
<path d="M1589.8 52.8h11.5v5.0h-11.5zM1589.8 67.7h11.5v5.0h-11.5zM1658.6 127.5h11.5v5.0h-11.5zM1681.5 177.3h11.5v5.0h-11.5z" fill="#ff0300"/>
<path d="M1589.8 197.2h11.5v5.0h-11.5z" fill="#db0000"/>
<path d="M1589.8 391.4h11.5v5.0h-11.5z" fill="#ff8000"/>
<path d="M1589.8 401.4h11.5v5.0h-11.5z" fill="#ffc900"/>
<path d="M1601.3 301.8h11.5v5.0h-11.5z" fill="#d00000"/>
<path d="M1601.3 356.6h11.5v5.0h-11.5z" fill="#e50000"/>
<path d="M1601.3 401.4h11.5v5.0h-11.5z" fill="#ffb900"/>
<path d="M1612.7 386.4h11.5v5.0h-11.5z" fill="#ff0100"/>
<path d="M1612.7 401.4h11.5v5.0h-11.5z" fill="#ffb700"/>
<path d="M1624.2 87.6h11.5v5.0h-11.5z" fill="#d20000"/>
<path d="M1624.2 381.5h11.5v5.0h-11.5z" fill="#f30000"/>
<path d="M1624.2 391.4h11.5v5.0h-11.5zM1647.1 286.8h11.5v5.0h-11.5z" fill="#ff8900"/>
<path d="M1624.2 401.4h11.5v5.0h-11.5z" fill="#ffbd00"/>
<path d="M1635.7 147.4h11.5v5.0h-11.5z" fill="#ce0000"/>
<path d="M1635.7 316.7h11.5v5.0h-11.5zM1647.1 147.4h11.5v5.0h-11.5zM1658.6 72.7h11.5v5.0h-11.5zM1704.4 92.6h11.6v5.0h-11.6z" fill="#ff6900"/>
<path d="M1635.7 381.5h11.5v5.0h-11.5z" fill="#ffc800"/>
<path d="M1635.7 386.4h11.5v5.0h-11.5z" fill="#ffbf00"/>
<path d="M1635.7 391.4h11.5v5.0h-11.5z" fill="#ffc600"/>
<path d="M1635.7 396.4h11.5v5.0h-11.5z" fill="#ffca00"/>
<path d="M1647.1 197.2h11.5v5.0h-11.5z" fill="#ff8100"/>
<path d="M1647.1 237.0h11.5v5.0h-11.5zM1647.1 391.4h11.5v5.0h-11.5z" fill="#ff8500"/>
<path d="M1647.1 247.0h11.5v5.0h-11.5zM1647.1 276.9h11.5v5.0h-11.5zM1647.1 281.9h11.5v5.0h-11.5zM1647.1 311.7h11.5v5.0h-11.5z" fill="#ff9300"/>
<path d="M1647.1 306.8h11.5v5.0h-11.5z" fill="#ff9400"/>
<path d="M1647.1 316.7h11.5v5.0h-11.5zM1647.1 351.6h11.5v5.0h-11.5z" fill="#ff9500"/>
<path d="M1647.1 361.5h11.5v5.0h-11.5zM1647.1 381.5h11.5v5.0h-11.5z" fill="#ff9a00"/>
<path d="M1647.1 366.5h11.5v5.0h-11.5z" fill="#ffa900"/>
<path d="M1670.0 341.6h11.5v5.0h-11.5z" fill="#de0000"/>
<path d="M1681.5 456.2h11.5v5.0h-11.5z" fill="#ff6b00"/>
<path d="M1693.0 301.8h11.5v5.0h-11.5z" fill="#d50000"/>
</g>
<line x1="504.5" y1="283.9" x2="835.4" y2="283.9" fill="none" stroke="#fff" stroke-width="2" stroke-dasharray="7.9 5.4" stroke-dashoffset="5.8"/>
<line x1="504.5" y1="297.9" x2="835" y2="297.9" fill="none" stroke="#fff" stroke-width="2" stroke-dasharray="7.9 5.4" stroke-dashoffset="6.7"/>
<line x1="710.8" y1="234.4" x2="710.8" y2="342.6" fill="none" stroke="#fff" stroke-width="2" stroke-dasharray="7.9 5.4"/>
<line x1="754" y1="230.5" x2="754" y2="340.8" fill="none" stroke="#fff" stroke-width="2" stroke-dasharray="7.9 5.4"/>
<g fill="#fff">
<rect x="587.4" y="247.5" width="2.7" height="20"/><path d="M582.4 267 L595 267 L588.7 282.4Z"/>
<rect x="587.4" y="313" width="2.7" height="21.7"/><path d="M582.4 313 L595 313 L588.7 299.8Z"/>
<rect x="664.4" y="321.9" width="30" height="2.7"/><path d="M694 317 L694 329.6 L710 323.3Z"/>
<rect x="770" y="321.6" width="29.8" height="2.7"/><path d="M771 316.6 L771 329.2 L755 322.9Z"/>
</g>
<rect x="897.9" y="258.6" width="77.1" height="41.4" fill="none" stroke="#fff" stroke-width="2" stroke-dasharray="7.9 5.6"/>
<line x1="975" y1="258.6" x2="1340.7" y2="61.4" stroke="#222" stroke-width="1.4" fill="none" stroke-dasharray="7.5 2.6 1.4 2.6"/>
<line x1="975" y1="300" x2="1340.5" y2="464.8" stroke="#222" stroke-width="1.4" fill="none" stroke-dasharray="7.5 2.6 1.4 2.6"/>
<g clip-path="url(#cc)"><line x1="975" y1="258.6" x2="1340.7" y2="61.4" stroke="#fff" stroke-width="1.4" fill="none" stroke-dasharray="7.5 2.6 1.4 2.6"/><line x1="975" y1="300" x2="1340.5" y2="464.8" stroke="#fff" stroke-width="1.4" fill="none" stroke-dasharray="7.5 2.6 1.4 2.6"/></g>
<text x="581.2" y="76.1" font-size="28" text-anchor="start" fill="#fff" stroke="#ff5000" stroke-width="0.3" font-family="Liberation Sans, Arial, sans-serif" textLength="190" lengthAdjust="spacingAndGlyphs" >5% modulation</text>
<text x="958" y="75.8" font-size="28" text-anchor="start" fill="#fff" stroke="#ff5000" stroke-width="0.3" font-family="Liberation Sans, Arial, sans-serif" textLength="208.5" lengthAdjust="spacingAndGlyphs" >20% modulation</text>
<text x="529" y="199.75" font-size="28" text-anchor="start" fill="#fff" stroke="#ff5000" stroke-width="0.3" font-family="Liberation Sans, Arial, sans-serif" textLength="117.5" lengthAdjust="spacingAndGlyphs" >Minimum</text>
<text x="534.6" y="231.9" font-size="28" text-anchor="start" fill="#fff" stroke="#ff5000" stroke-width="0.3" font-family="Liberation Sans, Arial, sans-serif" textLength="107" lengthAdjust="spacingAndGlyphs" >intensity</text>
<text x="523.7" y="370" font-size="28" text-anchor="start" fill="#fff" stroke="#ff5000" stroke-width="0.3" font-family="Liberation Sans, Arial, sans-serif" textLength="125" lengthAdjust="spacingAndGlyphs" >Maximum</text>
<text x="531.4" y="402.2" font-size="28" text-anchor="start" fill="#fff" stroke="#ff5000" stroke-width="0.3" font-family="Liberation Sans, Arial, sans-serif" textLength="107.5" lengthAdjust="spacingAndGlyphs" >intensity</text>
<text x="698.5" y="370" font-size="28" text-anchor="start" fill="#fff" stroke="#ff5000" stroke-width="0.3" font-family="Liberation Sans, Arial, sans-serif" textLength="80.5" lengthAdjust="spacingAndGlyphs" >Period</text>
<text x="698.2" y="402.2" font-size="28" text-anchor="start" fill="#fff" stroke="#ff5000" stroke-width="0.3" font-family="Liberation Sans, Arial, sans-serif" textLength="101.5" lengthAdjust="spacingAndGlyphs" >3.85 ms</text>
<text transform="translate(1526.3,389.8) rotate(-90)" font-size="28" fill="#fff" stroke="#ff5000" stroke-width="0.3" font-family="Liberation Sans, Arial, sans-serif" textLength="257.5" lengthAdjust="spacingAndGlyphs">Synchronization lost</text>
<text transform="translate(1612,366.2) rotate(-90)" font-size="28" fill="#fff" stroke="#ff5000" stroke-width="0.3" font-family="Liberation Sans, Arial, sans-serif" textLength="203.5" lengthAdjust="spacingAndGlyphs">Synchronization</text>
<rect x="89.5" y="43.5" width="344.0" height="435.0"  fill="none" stroke="#111" stroke-width="1"/>
<rect x="504.5" y="43.5" width="343.5" height="435.5"  fill="none" stroke="#111" stroke-width="1"/>
<rect x="890.5" y="43.5" width="343.0" height="435.5"  fill="none" stroke="#111" stroke-width="1"/>
<rect x="1372.5" y="43.5" width="343.5" height="435.5"  fill="none" stroke="#111" stroke-width="1"/>
<line x1="89.5" y1="261" x2="96.5" y2="261" stroke="#111" stroke-width="1"/>
<line x1="261.5" y1="478.5" x2="261.5" y2="471.5" stroke="#111" stroke-width="1"/>
<line x1="504.5" y1="261" x2="511.5" y2="261" stroke="#111" stroke-width="1"/>
<line x1="676.25" y1="479.0" x2="676.25" y2="472.0" stroke="#111" stroke-width="1"/>
<line x1="890.5" y1="261" x2="897.5" y2="261" stroke="#111" stroke-width="1"/>
<line x1="1062.0" y1="479.0" x2="1062.0" y2="472.0" stroke="#111" stroke-width="1"/>
<line x1="1372.5" y1="232.9" x2="1379.5" y2="232.9" stroke="#111" stroke-width="1"/>
<line x1="1372.5" y1="422.3" x2="1379.5" y2="422.3" stroke="#111" stroke-width="1"/>
<line x1="1421.9" y1="479.0" x2="1421.9" y2="472.0" stroke="#111" stroke-width="1"/>
<line x1="1520" y1="479.0" x2="1520" y2="472.0" stroke="#111" stroke-width="1"/>
<line x1="1618.3" y1="479.0" x2="1618.3" y2="472.0" stroke="#111" stroke-width="1"/>
<text x="76.8" y="52.2" font-size="24" text-anchor="end" fill="#000" stroke="#fff" stroke-width="0.35" font-family="Liberation Sans, Arial, sans-serif" >2.0</text>
<text x="76.3" y="268.6" font-size="24" text-anchor="end" fill="#000" stroke="#fff" stroke-width="0.35" font-family="Liberation Sans, Arial, sans-serif" >1.0</text>
<text x="76.6" y="485.2" font-size="24" text-anchor="end" fill="#000" stroke="#fff" stroke-width="0.35" font-family="Liberation Sans, Arial, sans-serif" textLength="15.0" lengthAdjust="spacingAndGlyphs" >0</text>
<text x="89.5" y="509.2" font-size="24" text-anchor="middle" fill="#000" stroke="#fff" stroke-width="0.35" font-family="Liberation Sans, Arial, sans-serif" textLength="15.0" lengthAdjust="spacingAndGlyphs" >0</text>
<text x="260.5" y="509.2" font-size="24" text-anchor="middle" fill="#000" stroke="#fff" stroke-width="0.35" font-family="Liberation Sans, Arial, sans-serif" textLength="23.9" lengthAdjust="spacingAndGlyphs" >15</text>
<text x="432.5" y="509.2" font-size="24" text-anchor="middle" fill="#000" stroke="#fff" stroke-width="0.35" font-family="Liberation Sans, Arial, sans-serif" textLength="29.5" lengthAdjust="spacingAndGlyphs" >30</text>
<text x="504.5" y="509.2" font-size="24" text-anchor="middle" fill="#000" stroke="#fff" stroke-width="0.35" font-family="Liberation Sans, Arial, sans-serif" textLength="15.0" lengthAdjust="spacingAndGlyphs" >0</text>
<text x="675.3" y="509.2" font-size="24" text-anchor="middle" fill="#000" stroke="#fff" stroke-width="0.35" font-family="Liberation Sans, Arial, sans-serif" textLength="23.9" lengthAdjust="spacingAndGlyphs" >15</text>
<text x="847" y="509.2" font-size="24" text-anchor="middle" fill="#000" stroke="#fff" stroke-width="0.35" font-family="Liberation Sans, Arial, sans-serif" textLength="29.5" lengthAdjust="spacingAndGlyphs" >30</text>
<text x="890.5" y="509.2" font-size="24" text-anchor="middle" fill="#000" stroke="#fff" stroke-width="0.35" font-family="Liberation Sans, Arial, sans-serif" textLength="15.0" lengthAdjust="spacingAndGlyphs" >0</text>
<text x="1061" y="509.2" font-size="24" text-anchor="middle" fill="#000" stroke="#fff" stroke-width="0.35" font-family="Liberation Sans, Arial, sans-serif" textLength="23.9" lengthAdjust="spacingAndGlyphs" >15</text>
<text x="1232.5" y="509.2" font-size="24" text-anchor="middle" fill="#000" stroke="#fff" stroke-width="0.35" font-family="Liberation Sans, Arial, sans-serif" textLength="29.5" lengthAdjust="spacingAndGlyphs" >30</text>
<text x="1421.9" y="509.2" font-size="24" text-anchor="middle" fill="#000" stroke="#fff" stroke-width="0.35" font-family="Liberation Sans, Arial, sans-serif" textLength="15.0" lengthAdjust="spacingAndGlyphs" >2</text>
<text x="1520" y="509.2" font-size="24" text-anchor="middle" fill="#000" stroke="#fff" stroke-width="0.35" font-family="Liberation Sans, Arial, sans-serif" textLength="15.0" lengthAdjust="spacingAndGlyphs" >4</text>
<text x="1618.3" y="509.2" font-size="24" text-anchor="middle" fill="#000" stroke="#fff" stroke-width="0.35" font-family="Liberation Sans, Arial, sans-serif" textLength="15.0" lengthAdjust="spacingAndGlyphs" >6</text>
<text x="1716.3" y="509.2" font-size="24" text-anchor="middle" fill="#000" stroke="#fff" stroke-width="0.35" font-family="Liberation Sans, Arial, sans-serif" textLength="15.0" lengthAdjust="spacingAndGlyphs" >8</text>
<text x="1359.5" y="51.7" font-size="24" text-anchor="end" fill="#000" stroke="#fff" stroke-width="0.35" font-family="Liberation Sans, Arial, sans-serif" >1.05</text>
<text x="1359.5" y="240.2" font-size="24" text-anchor="end" fill="#000" stroke="#fff" stroke-width="0.35" font-family="Liberation Sans, Arial, sans-serif" >0.95</text>
<text x="1359.5" y="428.8" font-size="24" text-anchor="end" fill="#000" stroke="#fff" stroke-width="0.35" font-family="Liberation Sans, Arial, sans-serif" >0.85</text>
<text x="261.5" y="555.1" font-size="28" text-anchor="middle" fill="#000" stroke="#fff" stroke-width="0.35" font-family="Liberation Sans, Arial, sans-serif" textLength="124.5" lengthAdjust="spacingAndGlyphs" >Time (ms)</text>
<text x="676.3" y="555.1" font-size="28" text-anchor="middle" fill="#000" stroke="#fff" stroke-width="0.35" font-family="Liberation Sans, Arial, sans-serif" textLength="124.5" lengthAdjust="spacingAndGlyphs" >Time (ms)</text>
<text x="1062" y="555.1" font-size="28" text-anchor="middle" fill="#000" stroke="#fff" stroke-width="0.35" font-family="Liberation Sans, Arial, sans-serif" textLength="124.5" lengthAdjust="spacingAndGlyphs" >Time (ms)</text>
<text x="1544.3" y="555.1" font-size="28" text-anchor="middle" fill="#000" stroke="#fff" stroke-width="0.35" font-family="Liberation Sans, Arial, sans-serif" textLength="124.5" lengthAdjust="spacingAndGlyphs" >Time (ms)</text>
<text transform="translate(21.4,260.2) rotate(-90)" font-size="28" text-anchor="middle" fill="#000" stroke="#fff" stroke-width="0.35" font-family="Liberation Sans, Arial, sans-serif" textLength="216" lengthAdjust="spacingAndGlyphs">Frequency (MHz)</text>
<text transform="translate(1288.7,261.6) rotate(-90)" font-size="28" text-anchor="middle" fill="#000" stroke="#fff" stroke-width="0.35" font-family="Liberation Sans, Arial, sans-serif" textLength="215" lengthAdjust="spacingAndGlyphs">Frequency (MHz)</text>
<text x="87.5" y="28.8" font-size="38.5" font-weight="bold" fill="#000" stroke="#000" stroke-width="1.5" font-family="Liberation Sans, Arial, sans-serif">a</text>
<text x="501.3" y="28.8" font-size="38.5" font-weight="bold" fill="#000" stroke="#000" stroke-width="1.5" font-family="Liberation Sans, Arial, sans-serif">b</text>
<text x="887" y="28.8" font-size="38.5" font-weight="bold" fill="#000" stroke="#000" stroke-width="1.5" font-family="Liberation Sans, Arial, sans-serif">c</text>
<text x="1369" y="28.8" font-size="38.5" font-weight="bold" fill="#000" stroke="#000" stroke-width="1.5" font-family="Liberation Sans, Arial, sans-serif">d</text>
<rect x="1744" y="132.5" width="16.5" height="281.8" fill="url(#cbar)" stroke="#333" stroke-width="1"/>
<line x1="1755" y1="180" x2="1760.5" y2="180" stroke="#333" stroke-width="1"/>
<line x1="1755" y1="286.6" x2="1760.5" y2="286.6" stroke="#333" stroke-width="1"/>
<line x1="1755" y1="393.4" x2="1760.5" y2="393.4" stroke="#333" stroke-width="1"/>
<text x="1752.3" y="118.6" font-size="25" text-anchor="middle" fill="#000" stroke="#fff" stroke-width="0.35" font-family="Liberation Sans, Arial, sans-serif" >SD</text>
<text x="1771.5" y="187.1" font-size="22.5" fill="#000" font-family="Liberation Sans, Arial, sans-serif">10</text><text x="1797.5" y="175.7" font-size="15.5" fill="#000" font-family="Liberation Sans, Arial, sans-serif">0</text>
<text x="1772.5" y="295.7" font-size="22.5" fill="#000" font-family="Liberation Sans, Arial, sans-serif">10</text><text x="1798.5" y="282.9" font-size="15.5" fill="#000" font-family="Liberation Sans, Arial, sans-serif">−4</text>
<text x="1772.5" y="400" font-size="22.5" fill="#000" font-family="Liberation Sans, Arial, sans-serif">10</text><text x="1798.5" y="388.6" font-size="15.5" fill="#000" font-family="Liberation Sans, Arial, sans-serif">−8</text>
</svg>
</body></html>
